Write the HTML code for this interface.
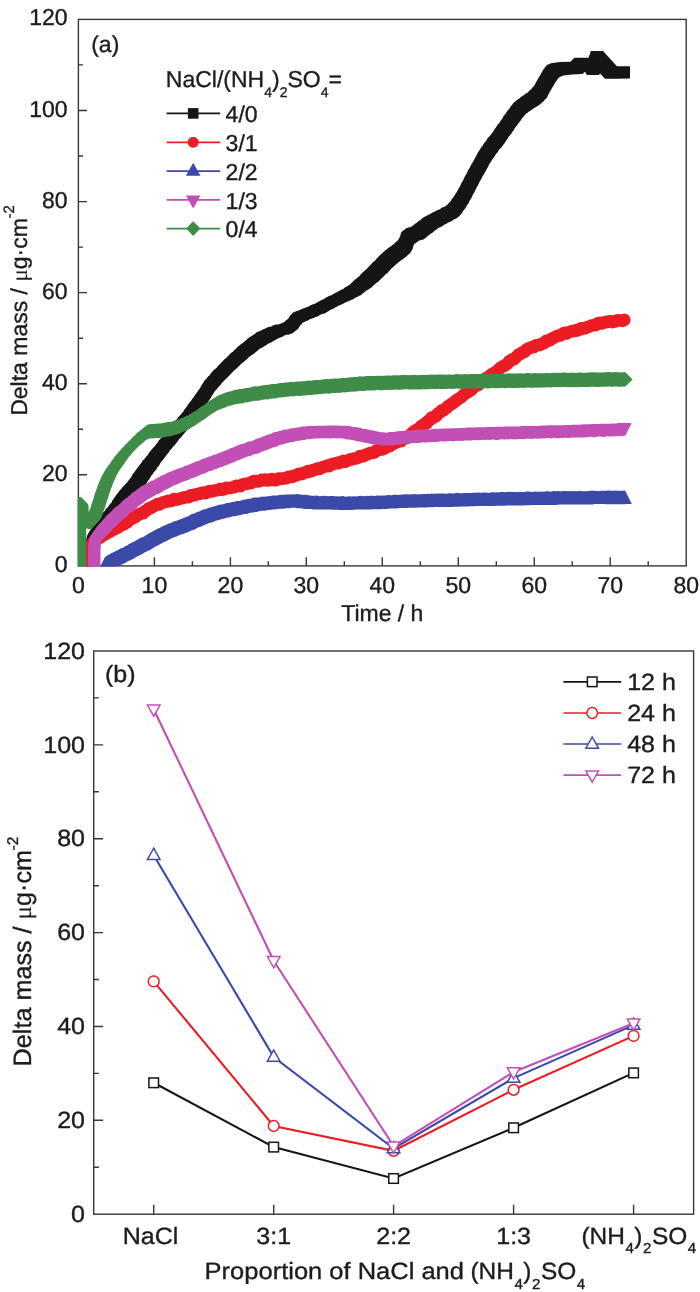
<!DOCTYPE html>
<html lang="en"><head><meta charset="utf-8"><title>Delta mass vs time and NaCl/(NH4)2SO4 proportion</title>
<style>html,body{margin:0;padding:0;background:#fff}svg{display:block;will-change:transform;-webkit-font-smoothing:antialiased;text-rendering:geometricPrecision}text{font-family:"Liberation Sans", sans-serif;fill:#1c1c1c;stroke:#1c1c1c;stroke-width:0.35px}</style></head><body>
<svg width="700" height="1292" viewBox="0 0 700 1292">
<rect width="700" height="1292" fill="#fff"/>
<defs><clipPath id="ca"><rect x="77.7" y="19.4" width="608.5" height="547.2"/></clipPath></defs>
<g id="plot-a">
<g stroke="#363636" stroke-width="1.4" fill="none" stroke-linecap="butt">
<rect x="78.4" y="19.4" width="607.8" height="546.5"/>
<path d="M116.4,565.9v-4.6M154.4,565.9v-8.6M192.4,565.9v-4.6M230.4,565.9v-8.6M268.3,565.9v-4.6M306.3,565.9v-8.6M344.3,565.9v-4.6M382.3,565.9v-8.6M420.3,565.9v-4.6M458.3,565.9v-8.6M496.3,565.9v-4.6M534.3,565.9v-8.6M572.2,565.9v-4.6M610.2,565.9v-8.6M648.2,565.9v-4.6M78.4,520.4h4.6M78.4,474.8h8.6M78.4,429.3h4.6M78.4,383.7h8.6M78.4,338.2h4.6M78.4,292.6h8.6M78.4,247.1h4.6M78.4,201.6h8.6M78.4,156.0h4.6M78.4,110.5h8.6M78.4,64.9h4.6"/>
</g>
<g clip-path="url(#ca)" stroke="none">
<path fill="#151515" d="M85.9,551.1 96.9,551.1 96.9,552.5 96.9,563.5 85.9,563.5 85.9,562.1ZM85.8,549.1 96.8,549.1 96.9,551.1 96.9,562.1 85.9,562.1 85.8,560.1ZM85.8,546.8 96.8,546.8 96.8,549.1 96.8,560.1 85.8,560.1 85.8,557.8ZM85.8,546.8 85.8,544.8 96.8,544.8 96.8,555.8 96.8,557.8 85.8,557.8ZM85.8,544.8 85.9,542.9 96.9,542.9 96.9,553.9 96.8,555.8 85.8,555.8ZM85.9,542.9 86.1,540.3 97.1,540.3 97.1,551.3 96.9,553.9 85.9,553.9ZM86.1,540.3 86.6,537.8 97.6,537.8 97.6,548.8 97.1,551.3 86.1,551.3ZM86.6,537.8 87.3,535.1 98.3,535.1 98.3,546.1 97.6,548.8 86.6,548.8ZM87.3,535.1 88.1,533.7 99.2,533.7 99.2,544.8 98.3,546.1 87.3,546.1ZM88.1,533.7 89.0,532.1 100.2,532.1 100.2,543.2 99.2,544.8 88.1,544.8ZM89.0,532.1 90.2,530.2 101.5,530.2 101.5,541.5 100.2,543.2 89.0,543.2ZM90.2,530.2 91.7,528.6 103.0,528.6 103.0,539.9 101.5,541.5 90.2,541.5ZM91.7,528.6 92.7,526.8 104.1,526.8 104.1,538.2 103.0,539.9 91.7,539.9ZM92.7,526.8 93.9,525.0 105.5,525.0 105.5,536.5 104.1,538.2 92.7,538.2ZM93.9,525.0 95.3,523.2 106.9,523.2 106.9,534.8 105.5,536.5 93.9,536.5ZM95.3,523.2 96.7,520.5 108.4,520.5 108.4,532.3 106.9,534.8 95.3,534.8ZM96.7,520.5 98.1,519.0 110.0,519.0 110.0,530.9 108.4,532.3 96.7,532.3ZM98.1,519.0 99.5,517.0 111.5,517.0 111.5,529.0 110.0,530.9 98.1,530.9ZM99.5,517.0 100.8,515.5 112.8,515.5 112.8,527.5 111.5,529.0 99.5,529.0ZM100.8,515.5 102.1,514.0 114.1,514.0 114.1,526.0 112.8,527.5 100.8,527.5ZM102.1,514.0 103.5,512.2 115.5,512.2 115.5,524.2 114.1,526.0 102.1,526.0ZM103.5,512.2 104.9,510.7 116.9,510.7 116.9,522.7 115.5,524.2 103.5,524.2ZM104.9,510.7 106.2,508.5 118.2,508.5 118.2,520.5 116.9,522.7 104.9,522.7ZM106.2,508.5 107.6,507.4 119.6,507.4 119.6,519.4 118.2,520.5 106.2,520.5ZM107.6,507.4 109.0,505.5 121.0,505.5 121.0,517.5 119.6,519.4 107.6,519.4ZM109.0,505.5 110.2,503.8 122.2,503.8 122.2,515.8 121.0,517.5 109.0,517.5ZM110.2,503.8 111.4,502.7 123.4,502.7 123.4,514.7 122.2,515.8 110.2,515.8ZM111.4,502.7 112.5,500.3 124.5,500.3 124.5,512.3 123.4,514.7 111.4,514.7ZM112.5,500.3 113.7,498.7 125.7,498.7 125.7,510.7 124.5,512.3 112.5,512.3ZM113.7,498.7 114.9,497.0 126.9,497.0 126.9,509.0 125.7,510.7 113.7,510.7ZM114.9,497.0 116.1,494.9 128.1,494.9 128.1,506.9 126.9,509.0 114.9,509.0ZM116.1,494.9 117.3,493.8 129.3,493.8 129.3,505.8 128.1,506.9 116.1,506.9ZM117.3,493.8 118.5,492.1 130.5,492.1 130.5,504.1 129.3,505.8 117.3,505.8ZM118.5,492.1 119.9,490.3 131.9,490.3 131.9,502.3 130.5,504.1 118.5,504.1ZM119.9,490.3 121.3,489.0 133.3,489.0 133.3,501.0 131.9,502.3 119.9,502.3ZM121.3,489.0 122.8,486.7 134.8,486.7 134.8,498.7 133.3,501.0 121.3,501.0ZM122.8,486.7 124.2,485.4 136.2,485.4 136.2,497.4 134.8,498.7 122.8,498.7ZM124.2,485.4 125.7,483.7 137.7,483.7 137.7,495.7 136.2,497.4 124.2,497.4ZM125.7,483.7 127.1,482.6 139.1,482.6 139.1,494.6 137.7,495.7 125.7,495.7ZM127.1,482.6 128.5,480.6 140.5,480.6 140.5,492.6 139.1,494.6 127.1,494.6ZM128.5,480.6 129.7,479.0 141.6,479.0 141.6,490.9 140.5,492.6 128.5,492.6ZM129.7,479.0 130.8,477.7 142.6,477.7 142.6,489.5 141.6,490.9 129.7,490.9ZM130.8,477.7 131.8,475.9 143.6,475.9 143.6,487.7 142.6,489.5 130.8,489.5ZM131.8,475.9 132.8,474.1 144.6,474.1 144.6,485.8 143.6,487.7 131.8,487.7ZM132.8,474.1 133.9,472.8 145.6,472.8 145.6,484.5 144.6,485.8 132.8,485.8ZM133.9,472.8 135.2,471.1 146.8,471.1 146.8,482.7 145.6,484.5 133.9,484.5ZM135.2,471.1 136.6,469.0 148.1,469.0 148.1,480.5 146.8,482.7 135.2,482.7ZM136.6,469.0 138.2,466.9 149.8,466.9 149.8,478.4 148.1,480.5 136.6,480.5ZM138.2,466.9 139.3,465.4 150.7,465.4 150.7,476.8 149.8,478.4 138.2,478.4ZM139.3,465.4 140.3,464.0 151.7,464.0 151.7,475.3 150.7,476.8 139.3,476.8ZM140.3,464.0 141.5,462.7 152.8,462.7 152.8,474.0 151.7,475.3 140.3,475.3ZM141.5,462.7 142.6,460.6 153.9,460.6 153.9,471.9 152.8,474.0 141.5,474.0ZM142.6,460.6 143.9,459.7 155.1,459.7 155.1,470.9 153.9,471.9 142.6,471.9ZM143.9,459.7 145.1,458.0 156.3,458.0 156.3,469.2 155.1,470.9 143.9,470.9ZM145.1,458.0 146.4,456.2 157.5,456.2 157.5,467.2 156.3,469.2 145.1,469.2ZM146.4,456.2 147.8,455.0 158.8,455.0 158.8,466.0 157.5,467.2 146.4,467.2ZM147.8,455.0 149.1,452.6 160.1,452.6 160.1,463.5 158.8,466.0 147.8,466.0ZM149.1,452.6 150.5,450.9 161.4,450.9 161.4,461.8 160.1,463.5 149.1,463.5ZM150.5,450.9 151.9,449.2 162.8,449.2 162.8,460.0 161.4,461.8 150.5,461.8ZM151.9,449.2 153.4,447.5 164.2,447.5 164.2,458.3 162.8,460.0 151.9,460.0ZM153.4,447.5 154.8,445.9 165.5,445.9 165.5,456.6 164.2,458.3 153.4,458.3ZM154.8,445.9 156.3,443.9 166.9,443.9 166.9,454.6 165.5,456.6 154.8,456.6ZM156.3,443.9 157.7,442.5 168.3,442.5 168.3,453.1 166.9,454.6 156.3,454.6ZM157.7,442.5 158.9,440.3 169.5,440.3 169.5,450.9 168.3,453.1 157.7,453.1ZM158.9,440.3 160.2,439.0 170.8,439.0 170.8,449.6 169.5,450.9 158.9,450.9ZM160.2,439.0 161.5,437.6 172.1,437.6 172.1,448.1 170.8,449.6 160.2,449.6ZM161.5,437.6 162.9,435.6 173.5,435.6 173.5,446.2 172.1,448.1 161.5,448.1ZM162.9,435.6 164.3,434.4 174.9,434.4 174.9,444.9 173.5,446.2 162.9,446.2ZM164.3,434.4 165.8,432.4 176.3,432.4 176.3,442.9 174.9,444.9 164.3,444.9ZM165.8,432.4 167.2,430.8 177.8,430.8 177.8,441.3 176.3,442.9 165.8,442.9ZM167.2,430.8 168.7,428.4 179.2,428.4 179.2,438.9 177.8,441.3 167.2,441.3ZM168.7,428.4 170.2,427.2 180.7,427.2 180.7,437.7 179.2,438.9 168.7,438.9ZM170.2,427.2 171.6,425.6 182.1,425.6 182.1,436.1 180.7,437.7 170.2,437.7ZM171.6,425.6 173.0,423.8 183.5,423.8 183.5,434.3 182.1,436.1 171.6,436.1ZM173.0,423.8 174.4,422.3 184.8,422.3 184.8,432.8 183.5,434.3 173.0,434.3ZM174.4,422.3 175.7,420.5 186.2,420.5 186.2,430.9 184.8,432.8 174.4,432.8ZM175.7,420.5 177.0,419.0 187.4,419.0 187.4,429.5 186.2,430.9 175.7,430.9ZM177.0,419.0 178.2,417.3 188.6,417.3 188.6,427.8 187.4,429.5 177.0,429.5ZM178.2,417.3 179.3,416.1 189.7,416.1 189.7,426.5 188.6,427.8 178.2,427.8ZM179.3,416.1 180.4,415.1 190.8,415.1 190.8,425.5 189.7,426.5 179.3,426.5ZM180.4,415.1 181.3,414.0 191.7,414.0 191.7,424.4 190.8,425.5 180.4,425.5ZM181.3,414.0 183.3,411.6 193.7,411.6 193.7,422.0 191.7,424.4 181.3,424.4ZM183.3,411.6 184.8,409.0 195.2,409.0 195.2,419.4 193.7,422.0 183.3,422.0ZM184.8,409.0 186.0,407.4 196.4,407.4 196.4,417.8 195.2,419.4 184.8,419.4ZM186.0,407.4 187.0,406.3 197.4,406.3 197.4,416.7 196.4,417.8 186.0,417.8ZM187.0,406.3 187.8,405.0 198.2,405.0 198.2,415.4 197.4,416.7 187.0,416.7ZM187.8,405.0 188.7,403.4 199.1,403.4 199.1,413.8 198.2,415.4 187.8,415.4ZM188.7,403.4 189.8,402.6 200.2,402.6 200.2,413.0 199.1,413.8 188.7,413.8ZM189.8,402.6 191.2,400.6 201.6,400.6 201.6,411.0 200.2,413.0 189.8,413.0ZM191.2,400.6 192.5,398.5 202.9,398.5 202.9,408.9 201.6,411.0 191.2,411.0ZM192.5,398.5 193.8,397.0 204.2,397.0 204.2,407.4 202.9,408.9 192.5,408.9ZM193.8,397.0 195.2,394.7 205.6,394.7 205.6,405.1 204.2,407.4 193.8,407.4ZM195.2,394.7 196.5,393.1 206.9,393.1 206.9,403.5 205.6,405.1 195.2,405.1ZM196.5,393.1 197.8,391.3 208.2,391.3 208.2,401.7 206.9,403.5 196.5,403.5ZM197.8,391.3 198.9,389.6 209.3,389.6 209.3,400.0 208.2,401.7 197.8,401.7ZM198.9,389.6 199.9,388.4 210.3,388.4 210.3,398.8 209.3,400.0 198.9,400.0ZM199.9,388.4 200.9,386.5 211.3,386.5 211.3,396.9 210.3,398.8 199.9,398.8ZM200.9,386.5 202.0,384.6 212.4,384.6 212.4,395.0 211.3,396.9 200.9,396.9ZM202.0,384.6 203.1,383.1 213.5,383.1 213.5,393.5 212.4,395.0 202.0,395.0ZM203.1,383.1 204.3,380.8 214.7,380.8 214.7,391.2 213.5,393.5 203.1,393.5ZM204.3,380.8 205.8,379.3 216.2,379.3 216.2,389.7 214.7,391.2 204.3,391.2ZM205.8,379.3 207.0,378.1 217.4,378.1 217.4,388.5 216.2,389.7 205.8,389.7ZM207.0,378.1 208.2,376.3 218.6,376.3 218.6,386.7 217.4,388.5 207.0,388.5ZM208.2,376.3 209.5,375.4 219.9,375.4 219.9,385.8 218.6,386.7 208.2,386.7ZM209.5,375.4 210.9,373.3 221.3,373.3 221.3,383.7 219.9,385.8 209.5,385.8ZM210.9,373.3 212.4,371.6 222.8,371.6 222.8,382.0 221.3,383.7 210.9,383.7ZM212.4,371.6 213.9,370.1 224.3,370.1 224.3,380.5 222.8,382.0 212.4,382.0ZM213.9,370.1 215.4,368.7 225.8,368.7 225.8,379.1 224.3,380.5 213.9,380.5ZM215.4,368.7 216.9,367.4 227.3,367.4 227.3,377.8 225.8,379.1 215.4,379.1ZM216.9,367.4 218.3,365.5 228.7,365.5 228.7,375.9 227.3,377.8 216.9,377.8ZM218.3,365.5 219.8,364.3 230.2,364.3 230.2,374.7 228.7,375.9 218.3,375.9ZM219.8,364.3 221.2,362.4 231.7,362.4 231.7,372.8 230.2,374.7 219.8,374.7ZM221.2,362.4 222.7,361.2 233.1,361.2 233.1,371.7 231.7,372.8 221.2,372.8ZM222.7,361.2 224.1,359.4 234.6,359.4 234.6,369.9 233.1,371.7 222.7,371.7ZM224.1,359.4 225.6,358.6 236.1,358.6 236.1,369.1 234.6,369.9 224.1,369.9ZM225.6,358.6 227.1,357.1 237.6,357.1 237.6,367.6 236.1,369.1 225.6,369.1ZM227.1,357.1 228.6,355.5 239.1,355.5 239.1,366.0 237.6,367.6 227.1,367.6ZM228.6,355.5 230.0,353.9 240.6,353.9 240.6,364.4 239.1,366.0 228.6,366.0ZM230.0,353.9 231.5,352.6 242.0,352.6 242.0,363.1 240.6,364.4 230.0,364.4ZM231.5,352.6 232.9,351.7 243.5,351.7 243.5,362.3 242.0,363.1 231.5,363.1ZM232.9,351.7 234.3,350.1 244.9,350.1 244.9,360.7 243.5,362.3 232.9,362.3ZM234.3,350.1 236.0,348.8 246.7,348.8 246.7,359.5 244.9,360.7 234.3,360.7ZM236.0,348.8 237.7,346.8 248.4,346.8 248.4,357.5 246.7,359.5 236.0,359.5ZM237.7,346.8 239.4,345.6 250.2,345.6 250.2,356.3 248.4,357.5 237.7,357.5ZM239.4,345.6 241.1,344.1 251.9,344.1 251.9,354.9 250.2,356.3 239.4,356.3ZM241.1,344.1 242.8,343.1 253.6,343.1 253.6,354.0 251.9,354.9 241.1,354.9ZM242.8,343.1 244.4,341.6 255.3,341.6 255.3,352.5 253.6,354.0 242.8,354.0ZM244.4,341.6 246.0,340.2 256.9,340.2 256.9,351.2 255.3,352.5 244.4,352.5ZM246.0,340.2 247.5,338.7 258.5,338.7 258.5,349.7 256.9,351.2 246.0,351.2ZM247.5,338.7 249.4,337.3 260.5,337.3 260.5,348.3 258.5,349.7 247.5,349.7ZM249.4,337.3 251.2,336.3 262.4,336.3 262.4,347.5 260.5,348.3 249.4,348.3ZM251.2,336.3 253.0,334.9 264.2,334.9 264.2,346.2 262.4,347.5 251.2,347.5ZM253.0,334.9 254.7,334.0 266.1,334.0 266.1,345.3 264.2,346.2 253.0,346.2ZM254.7,334.0 256.6,332.3 268.0,332.3 268.0,343.7 266.1,345.3 254.7,345.3ZM256.6,332.3 258.6,331.5 270.1,331.5 270.1,343.0 268.0,343.7 256.6,343.7ZM258.6,331.5 260.5,330.7 271.9,330.7 271.9,342.0 270.1,343.0 258.6,343.0ZM260.5,330.7 262.7,329.6 273.9,329.6 273.9,340.8 271.9,342.0 260.5,342.0ZM262.7,329.6 264.9,328.7 275.9,328.7 275.9,339.8 273.9,340.8 262.7,340.8ZM264.9,328.7 267.1,327.5 278.0,327.5 278.0,338.4 275.9,339.8 264.9,339.8ZM267.1,327.5 269.3,326.8 280.1,326.8 280.1,337.6 278.0,338.4 267.1,338.4ZM269.3,326.8 271.4,326.4 282.0,326.4 282.0,337.1 280.1,337.6 269.3,337.6ZM271.4,326.4 273.4,325.2 283.9,325.2 283.9,335.7 282.0,337.1 271.4,337.1ZM273.4,325.2 275.8,324.4 286.2,324.4 286.2,334.8 283.9,335.7 273.4,335.7ZM275.8,324.4 286.2,324.4 288.4,324.4 288.4,334.7 286.2,334.8 275.8,334.8ZM278.1,324.4 280.2,323.7 290.4,323.7 290.4,333.9 288.4,334.7 278.1,334.7ZM280.2,323.7 282.3,323.1 292.4,323.1 292.4,333.2 290.4,333.9 280.2,333.9ZM282.3,323.1 284.3,322.0 294.3,322.0 294.3,332.0 292.4,333.2 282.3,333.2ZM284.3,322.0 285.8,320.6 295.8,320.6 295.8,330.6 294.3,332.0 284.3,332.0ZM285.8,320.6 287.3,319.4 297.3,319.4 297.3,329.4 295.8,330.6 285.8,330.6ZM287.3,319.4 288.7,317.9 298.7,317.9 298.7,327.9 297.3,329.4 287.3,329.4ZM288.7,317.9 290.1,315.6 300.1,315.6 300.1,325.6 298.7,327.9 288.7,327.9ZM290.1,315.6 291.5,314.3 301.5,314.3 301.5,324.3 300.1,325.6 290.1,325.6ZM291.5,314.3 292.9,312.6 302.9,312.6 302.9,322.6 301.5,324.3 291.5,324.3ZM292.9,312.6 294.7,312.1 304.6,312.1 304.6,322.0 302.9,322.6 292.9,322.6ZM294.7,312.1 296.4,311.0 306.2,311.0 306.2,320.9 304.6,322.0 294.7,322.0ZM296.4,311.0 298.1,310.8 307.9,310.8 307.9,320.6 306.2,320.9 296.4,320.9ZM298.1,310.8 300.1,309.7 309.8,309.7 309.8,319.3 307.9,320.6 298.1,320.6ZM300.1,309.7 302.3,308.8 311.9,308.8 311.9,318.4 309.8,319.3 300.1,319.3ZM302.3,308.8 304.1,308.3 313.7,308.3 313.7,317.9 311.9,318.4 302.3,318.4ZM304.1,308.3 306.0,307.3 315.6,307.3 315.6,316.9 313.7,317.9 304.1,317.9ZM306.0,307.3 308.1,306.8 317.7,306.8 317.7,316.4 315.6,316.9 306.0,316.9ZM308.1,306.8 310.2,305.4 319.8,305.4 319.8,315.0 317.7,316.4 308.1,316.4ZM310.2,305.4 312.4,304.4 322.0,304.4 322.0,314.0 319.8,315.0 310.2,315.0ZM312.4,304.4 314.5,304.1 324.1,304.1 324.1,313.7 322.0,314.0 312.4,314.0ZM314.5,304.1 316.6,302.8 326.2,302.8 326.2,312.4 324.1,313.7 314.5,313.7ZM316.6,302.8 318.4,301.8 328.0,301.8 328.0,311.4 326.2,312.4 316.6,312.4ZM318.4,301.8 320.2,300.7 329.8,300.7 329.8,310.3 328.0,311.4 318.4,311.4ZM320.2,300.7 322.0,299.7 331.6,299.7 331.6,309.3 329.8,310.3 320.2,310.3ZM322.0,299.7 323.8,299.2 333.4,299.2 333.4,308.8 331.6,309.3 322.0,309.3ZM323.8,299.2 325.5,297.8 335.1,297.8 335.1,307.4 333.4,308.8 323.8,308.8ZM325.5,297.8 327.3,297.1 336.9,297.1 336.9,306.7 335.1,307.4 325.5,307.4ZM327.3,297.1 329.1,295.8 338.7,295.8 338.7,305.4 336.9,306.7 327.3,306.7ZM329.1,295.8 330.9,295.5 340.5,295.5 340.5,305.1 338.7,305.4 329.1,305.4ZM330.9,295.5 332.9,294.3 342.6,294.3 342.6,304.0 340.5,305.1 330.9,305.1ZM332.9,294.3 335.1,292.9 344.8,292.9 344.8,302.7 342.6,304.0 332.9,304.0ZM335.1,292.9 337.2,291.9 347.1,291.9 347.1,301.8 344.8,302.7 335.1,302.7ZM337.2,291.9 339.3,290.7 349.2,290.7 349.2,300.7 347.1,301.8 337.2,301.8ZM339.3,290.7 341.3,289.8 351.3,289.8 351.3,299.9 349.2,300.7 339.3,300.7ZM341.3,289.8 343.2,289.0 353.3,289.0 353.3,299.2 351.3,299.9 341.3,299.9ZM343.2,289.0 344.9,287.5 355.1,287.5 355.1,297.7 353.3,299.2 343.2,299.2ZM344.9,287.5 346.9,286.5 357.3,286.5 357.3,296.9 355.1,297.7 344.9,297.7ZM346.9,286.5 348.6,285.2 359.1,285.2 359.1,295.7 357.3,296.9 346.9,296.9ZM348.6,285.2 350.1,284.5 360.8,284.5 360.8,295.2 359.1,295.7 348.6,295.7ZM350.1,284.5 351.6,282.8 362.4,282.8 362.4,293.7 360.8,295.2 350.1,295.2ZM351.6,282.8 353.1,281.5 364.1,281.5 364.1,292.5 362.4,293.7 351.6,293.7ZM353.1,281.5 354.7,279.7 365.9,279.7 365.9,290.8 364.1,292.5 353.1,292.5ZM354.7,279.7 356.3,278.7 367.6,278.7 367.6,290.0 365.9,290.8 354.7,290.8ZM356.3,278.7 357.9,277.2 369.4,277.2 369.4,288.7 367.6,290.0 356.3,290.0ZM357.9,277.2 359.5,276.0 371.1,276.0 371.1,287.7 369.4,288.7 357.9,288.7ZM359.5,276.0 361.1,274.1 372.9,274.1 372.9,285.9 371.1,287.7 359.5,287.7ZM361.1,274.1 362.7,272.5 374.6,272.5 374.6,284.4 372.9,285.9 361.1,285.9ZM362.7,272.5 364.2,270.9 376.2,270.9 376.2,282.9 374.6,284.4 362.7,284.4ZM364.2,270.9 365.8,269.8 377.9,269.8 377.9,281.9 376.2,282.9 364.2,282.9ZM365.8,269.8 367.5,268.1 379.7,268.1 379.7,280.3 377.9,281.9 365.8,281.9ZM367.5,268.1 369.6,265.8 381.9,265.8 381.9,278.1 379.7,280.3 367.5,280.3ZM369.6,265.8 370.7,264.7 383.1,264.7 383.1,277.0 381.9,278.1 369.6,278.1ZM370.7,264.7 372.0,263.3 384.4,263.3 384.4,275.7 383.1,277.0 370.7,277.0ZM372.0,263.3 373.4,261.8 385.8,261.8 385.8,274.1 384.4,275.7 372.0,275.7ZM373.4,261.8 374.8,261.0 387.2,261.0 387.2,273.4 385.8,274.1 373.4,274.1ZM374.8,261.0 376.3,259.0 388.7,259.0 388.7,271.4 387.2,273.4 374.8,273.4ZM376.3,259.0 377.8,257.6 390.2,257.6 390.2,270.0 388.7,271.4 376.3,271.4ZM377.8,257.6 379.3,255.7 391.8,255.7 391.8,268.1 390.2,270.0 377.8,270.0ZM379.3,255.7 380.8,254.5 393.3,254.5 393.3,267.0 391.8,268.1 379.3,268.1ZM380.8,254.5 382.3,252.9 394.8,252.9 394.8,265.4 393.3,267.0 380.8,267.0ZM382.3,252.9 383.8,251.7 396.2,251.7 396.2,264.2 394.8,265.4 382.3,265.4ZM383.8,251.7 385.4,250.3 397.9,250.3 397.9,262.8 396.2,264.2 383.8,264.2ZM385.4,250.3 387.1,248.9 399.6,248.9 399.6,261.4 397.9,262.8 385.4,262.8ZM387.1,248.9 388.9,247.4 401.4,247.4 401.4,259.9 399.6,261.4 387.1,261.4ZM388.9,247.4 390.7,246.4 403.2,246.4 403.2,258.9 401.4,259.9 388.9,259.9ZM390.7,246.4 392.4,245.0 404.9,245.0 404.9,257.5 403.2,258.9 390.7,258.9ZM392.4,245.0 394.0,244.0 406.5,244.0 406.5,256.5 404.9,257.5 392.4,257.5ZM394.0,244.0 395.5,242.3 408.0,242.3 408.0,254.8 406.5,256.5 394.0,256.5ZM395.5,242.3 396.9,241.3 409.4,241.3 409.4,253.8 408.0,254.8 395.5,254.8ZM396.9,241.3 398.1,240.1 410.6,240.1 410.6,252.6 409.4,253.8 396.9,253.8ZM398.1,240.1 399.4,237.7 411.9,237.7 411.9,250.2 410.6,252.6 398.1,252.6ZM399.4,237.7 400.2,236.2 412.7,236.2 412.7,248.7 411.9,250.2 399.4,250.2ZM400.2,236.2 400.6,234.5 413.1,234.5 413.1,247.0 412.7,248.7 400.2,248.7ZM400.6,234.5 401.2,232.6 413.7,232.6 413.7,245.1 413.1,247.0 400.6,247.0ZM401.2,232.6 402.4,230.9 414.9,230.9 414.9,243.4 413.7,245.1 401.2,245.1ZM402.4,230.9 404.1,229.9 416.6,229.9 416.6,242.4 414.9,243.4 402.4,243.4ZM404.1,229.9 406.2,228.3 418.7,228.3 418.7,240.8 416.6,242.4 404.1,242.4ZM406.2,228.3 408.6,227.5 421.1,227.5 421.1,240.0 418.7,240.8 406.2,240.8ZM408.6,227.5 410.9,227.0 423.4,227.0 423.4,239.5 421.1,240.0 408.6,240.0ZM410.9,227.0 413.1,225.5 425.6,225.5 425.6,238.0 423.4,239.5 410.9,239.5ZM413.1,225.5 415.0,223.8 427.4,223.8 427.4,236.3 425.6,238.0 413.1,238.0ZM415.0,223.8 416.8,222.7 429.2,222.7 429.2,235.1 427.4,236.3 415.0,236.3ZM416.8,222.7 418.6,221.1 431.0,221.1 431.0,233.5 429.2,235.1 416.8,235.1ZM418.6,221.1 420.5,220.1 432.8,220.1 432.8,232.4 431.0,233.5 418.6,233.5ZM420.5,220.1 422.4,218.1 434.8,218.1 434.8,230.4 432.8,232.4 420.5,232.4ZM422.4,218.1 424.2,217.1 436.5,217.1 436.5,229.4 434.8,230.4 422.4,230.4ZM424.2,217.1 426.1,215.9 438.3,215.9 438.3,228.1 436.5,229.4 424.2,229.4ZM426.1,215.9 428.0,215.1 440.1,215.1 440.1,227.3 438.3,228.1 426.1,228.1ZM428.0,215.1 429.9,214.3 442.0,214.3 442.0,226.4 440.1,227.3 428.0,227.3ZM429.9,214.3 431.9,212.7 444.0,212.7 444.0,224.8 442.0,226.4 429.9,226.4ZM431.9,212.7 434.0,211.9 446.0,211.9 446.0,223.9 444.0,224.8 431.9,224.8ZM434.0,211.9 435.9,210.8 447.8,210.8 447.8,222.7 446.0,223.9 434.0,223.9ZM435.9,210.8 437.9,210.0 449.8,210.0 449.8,222.0 447.8,222.7 435.9,222.7ZM437.9,210.0 439.9,209.2 451.8,209.2 451.8,221.1 449.8,222.0 437.9,222.0ZM439.9,209.2 442.0,207.6 453.8,207.6 453.8,219.4 451.8,221.1 439.9,221.1ZM442.0,207.6 444.0,206.9 455.8,206.9 455.8,218.7 453.8,219.4 442.0,219.4ZM444.0,206.9 446.0,205.7 457.7,205.7 457.7,217.4 455.8,218.7 444.0,218.7ZM446.0,205.7 447.8,204.2 459.4,204.2 459.4,215.9 457.7,217.4 446.0,217.4ZM447.8,204.2 449.2,202.6 460.9,202.6 460.9,214.3 459.4,215.9 447.8,215.9ZM449.2,202.6 450.6,201.2 462.2,201.2 462.2,212.8 460.9,214.3 449.2,214.3ZM450.6,201.2 451.9,198.9 463.5,198.9 463.5,210.5 462.2,212.8 450.6,212.8ZM451.9,198.9 453.2,197.5 464.8,197.5 464.8,209.1 463.5,210.5 451.9,210.5ZM453.2,197.5 454.4,195.7 466.0,195.7 466.0,207.2 464.8,209.1 453.2,209.1ZM454.4,195.7 455.6,193.6 467.1,193.6 467.1,205.1 466.0,207.2 454.4,207.2ZM455.6,193.6 456.7,192.2 468.3,192.2 468.3,203.8 467.1,205.1 455.6,205.1ZM456.7,192.2 457.9,189.8 469.4,189.8 469.4,201.3 468.3,203.8 456.7,203.8ZM457.9,189.8 458.9,188.1 470.4,188.1 470.4,199.6 469.4,201.3 457.9,201.3ZM458.9,188.1 459.9,186.4 471.4,186.4 471.4,197.9 470.4,199.6 458.9,199.6ZM459.9,186.4 460.8,184.5 472.3,184.5 472.3,196.0 471.4,197.9 459.9,197.9ZM460.8,184.5 461.7,182.4 473.2,182.4 473.2,193.9 472.3,196.0 460.8,196.0ZM461.7,182.4 462.6,181.2 474.1,181.2 474.1,192.7 473.2,193.9 461.7,193.9ZM462.6,181.2 463.5,179.4 475.0,179.4 475.0,190.9 474.1,192.7 462.6,192.7ZM463.5,179.4 464.4,177.6 475.9,177.6 475.9,189.1 475.0,190.9 463.5,190.9ZM464.4,177.6 465.4,175.6 476.9,175.6 476.9,187.1 475.9,189.1 464.4,189.1ZM465.4,175.6 466.3,174.3 477.8,174.3 477.8,185.8 476.9,187.1 465.4,187.1ZM466.3,174.3 467.3,172.0 478.8,172.0 478.8,183.5 477.8,185.8 466.3,185.8ZM467.3,172.0 468.2,170.1 479.7,170.1 479.7,181.6 478.8,183.5 467.3,183.5ZM468.2,170.1 469.2,168.4 480.7,168.4 480.7,179.9 479.7,181.6 468.2,181.6ZM469.2,168.4 470.2,166.8 481.7,166.8 481.7,178.3 480.7,179.9 469.2,179.9ZM470.2,166.8 471.2,164.6 482.7,164.6 482.7,176.1 481.7,178.3 470.2,178.3ZM471.2,164.6 472.2,163.3 483.7,163.3 483.7,174.8 482.7,176.1 471.2,176.1ZM472.2,163.3 473.1,161.6 484.6,161.6 484.6,173.1 483.7,174.8 472.2,174.8ZM473.1,161.6 474.1,159.7 485.6,159.7 485.6,171.2 484.6,173.1 473.1,173.1ZM474.1,159.7 475.1,157.7 486.6,157.7 486.6,169.2 485.6,171.2 474.1,171.2ZM475.1,157.7 476.1,156.3 487.6,156.3 487.6,167.8 486.6,169.2 475.1,169.2ZM476.1,156.3 477.0,154.2 488.5,154.2 488.5,165.7 487.6,167.8 476.1,167.8ZM477.0,154.2 478.0,152.2 489.5,152.2 489.5,163.7 488.5,165.7 477.0,165.7ZM478.0,152.2 479.1,150.7 490.6,150.7 490.6,162.2 489.5,163.7 478.0,163.7ZM479.1,150.7 480.2,149.1 491.7,149.1 491.7,160.6 490.6,162.2 479.1,162.2ZM480.2,149.1 481.4,147.0 492.9,147.0 492.9,158.5 491.7,160.6 480.2,160.6ZM481.4,147.0 482.5,146.0 494.0,146.0 494.0,157.5 492.9,158.5 481.4,158.5ZM482.5,146.0 483.7,143.8 495.2,143.8 495.2,155.3 494.0,157.5 482.5,157.5ZM483.7,143.8 485.0,141.9 496.5,141.9 496.5,153.4 495.2,155.3 483.7,155.3ZM485.0,141.9 486.4,140.4 497.9,140.4 497.9,151.9 496.5,153.4 485.0,153.4ZM486.4,140.4 487.7,138.1 499.2,138.1 499.2,149.6 497.9,151.9 486.4,151.9ZM487.7,138.1 489.1,136.8 500.6,136.8 500.6,148.3 499.2,149.6 487.7,149.6ZM489.1,136.8 490.4,135.2 501.9,135.2 501.9,146.7 500.6,148.3 489.1,148.3ZM490.4,135.2 491.7,133.5 503.2,133.5 503.2,145.0 501.9,146.7 490.4,146.7ZM491.7,133.5 492.9,132.0 504.4,132.0 504.4,143.5 503.2,145.0 491.7,145.0ZM492.9,132.0 494.1,129.9 505.6,129.9 505.6,141.4 504.4,143.5 492.9,143.5ZM494.1,129.9 495.3,128.2 506.8,128.2 506.8,139.7 505.6,141.4 494.1,141.4ZM495.3,128.2 496.4,126.7 507.9,126.7 507.9,138.2 506.8,139.7 495.3,139.7ZM496.4,126.7 497.5,124.8 509.0,124.8 509.0,136.3 507.9,138.2 496.4,138.2ZM497.5,124.8 498.6,123.8 510.1,123.8 510.1,135.3 509.0,136.3 497.5,136.3ZM498.6,123.8 499.7,122.2 511.2,122.2 511.2,133.7 510.1,135.3 498.6,135.3ZM499.7,122.2 500.9,120.2 512.4,120.2 512.4,131.7 511.2,133.7 499.7,133.7ZM500.9,120.2 502.1,118.9 513.6,118.9 513.6,130.4 512.4,131.7 500.9,131.7ZM502.1,118.9 503.3,116.6 514.8,116.6 514.8,128.1 513.6,130.4 502.1,130.4ZM503.3,116.6 504.5,114.9 516.1,114.9 516.1,126.5 514.8,128.1 503.3,128.1ZM504.5,114.9 505.8,113.4 517.4,113.4 517.4,125.0 516.1,126.5 504.5,126.5ZM505.8,113.4 507.1,111.1 518.7,111.1 518.7,122.7 517.4,125.0 505.8,125.0ZM507.1,111.1 508.4,110.0 520.0,110.0 520.0,121.6 518.7,122.7 507.1,122.7ZM508.4,110.0 509.7,108.0 521.3,108.0 521.3,119.6 520.0,121.6 508.4,121.6ZM509.7,108.0 510.9,106.0 522.6,106.0 522.6,117.6 521.3,119.6 509.7,119.6ZM510.9,106.0 512.2,104.7 523.9,104.7 523.9,116.4 522.6,117.6 510.9,117.6ZM512.2,104.7 513.5,102.8 525.1,102.8 525.1,114.5 523.9,116.4 512.2,116.4ZM513.5,102.8 515.3,101.5 527.0,101.5 527.0,113.2 525.1,114.5 513.5,114.5ZM515.3,101.5 517.1,99.7 528.9,99.7 528.9,111.5 527.0,113.2 515.3,113.2ZM517.1,99.7 518.9,98.7 530.7,98.7 530.7,110.5 528.9,111.5 517.1,111.5ZM518.9,98.7 520.6,97.2 532.5,97.2 532.5,109.1 530.7,110.5 518.9,110.5ZM520.6,97.2 522.4,96.0 534.3,96.0 534.3,108.0 532.5,109.1 520.6,109.1ZM522.4,96.0 524.0,95.0 536.0,95.0 536.0,107.0 534.3,108.0 522.4,108.0ZM524.0,95.0 525.9,93.6 538.0,93.6 538.0,105.7 536.0,107.0 524.0,107.0ZM525.9,93.6 527.8,92.5 539.9,92.5 539.9,104.6 538.0,105.7 525.9,105.7ZM527.8,92.5 529.5,90.5 541.7,90.5 541.7,102.7 539.9,104.6 527.8,104.6ZM529.5,90.5 531.2,89.3 543.4,89.3 543.4,101.5 541.7,102.7 529.5,102.7ZM531.2,89.3 532.6,87.3 545.0,87.3 545.0,99.6 543.4,101.5 531.2,101.5ZM532.6,87.3 534.0,86.1 546.3,86.1 546.3,98.4 545.0,99.6 532.6,99.6ZM534.0,86.1 535.2,84.1 547.5,84.1 547.5,96.4 546.3,98.4 534.0,98.4ZM535.2,84.1 536.3,81.7 548.6,81.7 548.6,94.0 547.5,96.4 535.2,96.4ZM536.3,81.7 537.2,80.3 549.5,80.3 549.5,92.6 548.6,94.0 536.3,94.0ZM537.2,80.3 537.9,79.0 550.1,79.0 550.1,91.3 549.5,92.6 537.2,92.6ZM537.9,79.0 543.4,69.6 555.6,69.6 555.6,81.9 550.1,91.3 537.9,91.3ZM543.4,69.6 546.9,64.9 559.1,64.9 559.1,77.2 555.6,81.9 543.4,81.9ZM546.9,64.9 551.1,63.3 563.5,63.3 563.5,75.6 559.1,77.2 546.9,77.2ZM551.1,63.3 559.9,62.1 572.1,62.1 572.1,74.4 563.5,75.6 551.1,75.6ZM559.9,62.1 570.4,61.7 582.6,61.7 582.6,74.0 572.1,74.4 559.9,74.4ZM570.4,61.7 574.4,57.8 586.6,57.8 586.6,70.1 582.6,74.0 570.4,74.0ZM574.4,57.8 583.9,57.7 596.1,57.7 596.1,70.0 586.6,70.1 574.4,70.1ZM583.9,57.7 596.1,57.7 599.1,62.7 599.1,75.0 586.9,75.0 583.9,70.0ZM586.9,62.7 590.9,51.1 603.1,51.1 603.1,63.4 599.1,75.0 586.9,75.0ZM590.9,51.1 603.1,51.1 617.1,66.5 617.1,78.8 604.9,78.8 590.9,63.4ZM604.9,66.5 617.6,66.2 630.0,66.2 630.0,78.5 617.1,78.8 604.9,78.8Z"/>
<path fill="#ec1c24" d="M80.2,571.4 80.5,569.5 81.4,567.7 82.8,566.3 84.5,565.4 86.5,565.1 88.4,565.4 90.2,566.3 91.6,567.7 92.5,569.5 92.8,571.4 92.8,573.0 92.5,574.9 91.6,576.7 90.2,578.1 88.4,579.0 86.5,579.3 84.6,579.0 82.8,578.1 81.4,576.7 80.5,574.9 80.2,573.0ZM80.1,569.0 80.4,567.1 81.3,565.3 82.7,563.9 84.5,563.0 86.4,562.7 88.4,563.0 90.1,563.9 91.5,565.3 92.4,567.1 92.7,569.0 92.8,571.4 92.5,573.4 91.6,575.1 90.2,576.5 88.4,577.4 86.5,577.7 84.5,577.4 82.8,576.5 81.4,575.1 80.5,573.4 80.2,571.4ZM80.1,569.0 80.2,566.0 80.5,564.1 81.4,562.3 82.8,560.9 84.6,560.0 86.5,559.7 88.4,560.0 90.2,560.9 91.6,562.3 92.5,564.1 92.8,566.0 92.7,569.0 92.4,571.0 91.5,572.7 90.1,574.1 88.4,575.0 86.4,575.3 84.5,575.0 82.7,574.1 81.3,572.7 80.4,571.0ZM80.2,566.0 80.3,563.1 80.6,561.2 81.5,559.4 82.9,558.0 84.6,557.2 86.6,556.8 88.5,557.2 90.3,558.0 91.7,559.4 92.6,561.2 92.9,563.1 92.8,566.0 92.5,567.9 91.6,569.7 90.2,571.1 88.4,572.0 86.5,572.3 84.6,572.0 82.8,571.1 81.4,569.7 80.5,567.9ZM80.3,563.1 80.4,561.0 80.7,559.0 81.6,557.3 83.0,555.9 84.7,555.0 86.7,554.7 88.6,555.0 90.4,555.9 91.8,557.3 92.7,559.0 93.0,561.0 92.9,563.1 92.6,565.1 91.7,566.8 90.3,568.2 88.5,569.1 86.6,569.4 84.6,569.1 82.9,568.2 81.5,566.8 80.6,565.1ZM80.4,561.0 80.5,558.7 80.8,556.7 81.7,555.0 83.1,553.6 84.8,552.7 86.8,552.4 88.7,552.7 90.5,553.6 91.9,555.0 92.8,556.7 93.1,558.7 93.0,561.0 92.7,562.9 91.8,564.7 90.4,566.1 88.6,567.0 86.7,567.3 84.7,567.0 83.0,566.1 81.6,564.7 80.7,562.9ZM80.5,558.7 80.6,556.5 81.0,554.5 81.8,552.8 83.2,551.4 85.0,550.5 86.9,550.2 88.9,550.5 90.6,551.4 92.0,552.8 92.9,554.5 93.2,556.5 93.1,558.7 92.8,560.6 91.9,562.4 90.5,563.8 88.7,564.7 86.8,565.0 84.8,564.7 83.1,563.8 81.7,562.4 80.8,560.6ZM80.6,556.5 80.9,554.7 81.2,552.7 82.1,551.0 83.5,549.6 85.2,548.7 87.2,548.4 89.1,548.7 90.9,549.6 92.3,551.0 93.2,552.7 93.5,554.7 93.2,556.5 92.9,558.4 92.0,560.2 90.6,561.6 88.9,562.5 86.9,562.8 85.0,562.5 83.2,561.6 81.8,560.2 81.0,558.4ZM80.9,554.7 81.2,552.7 81.5,551.4 82.4,549.6 83.8,548.2 85.6,547.3 87.5,547.0 89.4,547.3 91.2,548.2 92.6,549.6 93.5,551.4 93.8,553.3 93.5,555.3 93.2,556.6 92.3,558.4 90.9,559.8 89.1,560.6 87.2,561.0 85.2,560.6 83.5,559.8 82.1,558.4 81.2,556.6ZM81.2,553.3 81.5,551.4 82.1,549.3 83.0,547.5 84.4,546.2 86.2,545.3 88.1,545.0 90.1,545.3 91.8,546.2 93.2,547.5 94.1,549.3 94.4,551.3 94.1,553.2 93.5,555.3 92.6,557.0 91.2,558.4 89.4,559.3 87.5,559.6 85.6,559.3 83.8,558.4 82.4,557.0 81.5,555.3ZM81.8,551.3 82.1,549.3 82.9,546.8 83.8,545.1 85.2,543.7 87.0,542.8 88.9,542.5 90.9,542.8 92.6,543.7 94.0,545.1 94.9,546.8 95.2,548.8 94.9,550.7 94.1,553.2 93.2,555.0 91.8,556.3 90.1,557.2 88.1,557.6 86.2,557.2 84.4,556.3 83.0,555.0 82.1,553.2ZM82.6,548.8 82.9,546.8 83.8,545.1 84.8,543.6 86.2,542.2 87.9,541.3 89.9,541.0 91.8,541.3 93.6,542.2 95.0,543.6 95.9,545.4 96.2,547.3 95.9,549.3 95.0,551.0 94.0,552.5 92.6,553.9 90.9,554.8 88.9,555.1 87.0,554.8 85.2,553.9 83.8,552.5 82.9,550.7ZM83.6,547.3 83.9,545.4 84.8,543.6 85.9,542.3 87.3,541.0 89.1,540.1 91.0,539.7 92.9,540.1 94.7,541.0 96.1,542.3 97.0,544.1 97.3,546.0 97.0,548.0 96.1,549.8 95.0,551.0 93.6,552.4 91.8,553.3 89.9,553.6 87.9,553.3 86.2,552.4 84.8,551.0 83.9,549.3ZM84.7,546.0 85.0,544.1 85.9,542.3 87.1,540.2 88.5,538.8 90.2,537.9 92.2,537.6 94.1,537.9 95.9,538.8 97.3,540.2 98.2,541.9 98.5,543.9 98.2,545.8 97.3,547.6 96.1,549.8 94.7,551.1 92.9,552.0 91.0,552.3 89.1,552.0 87.3,551.1 85.9,549.8 85.0,548.0ZM85.9,543.9 86.2,541.9 87.1,540.2 88.4,538.5 89.8,537.1 91.5,536.2 93.5,535.9 95.4,536.2 97.2,537.1 98.6,538.5 99.5,540.3 99.8,542.2 99.5,544.2 98.6,545.9 97.3,547.6 95.9,549.0 94.1,549.9 92.2,550.2 90.2,549.9 88.5,549.0 87.1,547.6 86.2,545.8ZM87.2,542.2 87.5,540.3 88.4,538.5 89.8,537.1 91.3,535.8 93.1,534.9 95.0,534.6 97.0,534.9 98.8,535.8 100.1,537.2 101.0,538.9 101.3,540.9 101.0,542.8 100.1,544.6 98.8,546.0 97.2,547.3 95.4,548.2 93.5,548.5 91.5,548.2 89.8,547.3 88.4,545.9 87.5,544.2ZM88.7,540.9 89.1,538.9 90.0,537.2 91.3,535.8 93.3,534.4 95.1,533.5 97.0,533.2 98.9,533.5 100.7,534.4 102.1,535.8 103.0,537.5 103.3,539.5 103.0,541.4 102.1,543.2 100.7,544.6 98.8,546.0 97.0,546.9 95.0,547.2 93.1,546.9 91.3,546.0 90.0,544.6 89.1,542.8ZM90.7,539.5 91.0,537.5 91.9,535.8 93.3,534.4 94.9,533.4 96.7,532.5 98.6,532.2 100.6,532.5 102.3,533.4 103.7,534.8 104.6,536.5 104.9,538.5 104.6,540.4 103.7,542.2 102.3,543.6 100.7,544.6 98.9,545.5 97.0,545.8 95.1,545.5 93.3,544.6 91.9,543.2 91.0,541.4ZM92.3,538.5 92.6,536.5 93.5,534.8 94.9,533.4 96.8,532.3 98.5,531.4 100.5,531.0 102.4,531.4 104.2,532.3 105.6,533.6 106.5,535.4 106.8,537.4 106.5,539.3 105.6,541.1 104.2,542.4 102.3,543.6 100.6,544.5 98.6,544.8 96.7,544.5 94.9,543.6 93.5,542.2 92.6,540.4ZM94.2,537.4 94.5,535.4 95.4,533.6 97.4,531.4 98.8,530.0 100.5,529.1 102.5,528.8 104.4,529.1 106.2,530.0 107.6,531.4 108.5,533.1 108.8,535.1 108.5,537.0 107.6,538.8 105.6,541.1 104.2,542.4 102.4,543.3 100.5,543.6 98.5,543.3 96.8,542.4 95.4,541.1 94.5,539.3ZM96.2,535.1 96.5,533.1 97.4,531.4 98.8,530.0 100.5,529.1 102.6,528.7 104.5,528.4 106.5,528.7 108.2,529.6 109.6,531.0 110.5,532.8 110.8,534.7 110.5,536.7 109.6,538.4 108.2,539.8 106.5,540.7 104.4,541.1 102.5,541.4 100.5,541.1 98.8,540.2 97.4,538.8 96.5,537.0ZM98.2,534.7 98.5,532.8 99.4,531.0 100.8,529.6 102.9,528.4 104.7,527.5 106.6,527.2 108.6,527.5 110.3,528.4 111.7,529.8 112.6,531.6 112.9,533.5 112.6,535.5 111.7,537.2 110.3,538.6 108.2,539.8 106.5,540.7 104.5,541.0 102.6,540.7 100.8,539.8 99.4,538.4 98.5,536.7ZM100.3,533.5 100.6,531.6 101.5,529.8 102.9,528.4 104.9,527.3 106.7,526.4 108.6,526.1 110.5,526.4 112.3,527.3 113.7,528.7 114.6,530.4 114.9,532.4 114.6,534.3 113.7,536.1 112.3,537.5 110.3,538.6 108.6,539.5 106.6,539.8 104.7,539.5 102.9,538.6 101.5,537.2 100.6,535.5ZM102.3,532.4 102.6,530.4 103.5,528.7 104.9,527.3 106.8,526.3 108.6,525.4 110.5,525.1 112.4,525.4 114.2,526.3 115.6,527.7 116.5,529.4 116.8,531.4 116.5,533.3 115.6,535.1 114.2,536.5 112.3,537.5 110.5,538.4 108.6,538.7 106.7,538.4 104.9,537.5 103.5,536.1 102.6,534.3ZM104.2,531.4 104.5,529.4 105.4,527.7 107.3,525.6 108.7,524.2 110.4,523.3 112.4,523.0 114.3,523.3 116.1,524.2 117.5,525.6 118.4,527.3 118.7,529.3 118.4,531.2 117.5,533.0 115.6,535.1 114.2,536.5 112.4,537.4 110.5,537.7 108.6,537.4 106.8,536.5 105.4,535.1 104.5,533.3ZM106.1,529.3 106.4,527.3 107.3,525.6 108.7,524.2 110.4,523.3 112.4,523.0 114.2,523.1 116.2,523.5 117.9,524.4 119.3,525.7 120.2,527.5 120.5,529.4 120.2,531.4 119.3,533.1 117.9,534.5 116.2,535.4 114.2,535.7 112.4,535.6 110.4,535.3 108.7,534.4 107.3,533.0 106.4,531.2ZM107.9,529.4 108.3,527.5 109.1,525.7 110.5,524.4 112.4,523.0 114.2,522.1 116.1,521.8 118.1,522.1 119.8,523.0 121.2,524.4 122.1,526.2 122.4,528.1 122.1,530.1 121.2,531.8 119.8,533.2 117.9,534.5 116.2,535.4 114.2,535.7 112.3,535.4 110.5,534.5 109.1,533.1 108.3,531.4ZM109.8,528.1 110.1,526.2 111.0,524.4 112.4,523.0 114.2,522.1 116.1,521.4 118.0,521.1 120.0,521.4 121.7,522.3 123.1,523.7 124.0,525.4 124.3,527.4 124.0,529.3 123.1,531.1 121.7,532.5 120.0,533.4 118.1,534.1 116.1,534.4 114.2,534.1 112.4,533.2 111.0,531.8 110.1,530.1ZM111.7,527.4 112.0,525.4 112.9,523.7 114.3,522.3 116.3,520.8 118.1,519.9 120.0,519.6 121.9,519.9 123.7,520.8 125.1,522.1 126.0,523.9 126.3,525.9 126.0,527.8 125.1,529.6 123.7,530.9 121.7,532.5 120.0,533.4 118.0,533.7 116.1,533.4 114.3,532.5 112.9,531.1 112.0,529.3ZM113.7,525.9 114.0,523.9 114.9,522.1 116.3,520.8 118.0,519.4 119.8,518.5 121.7,518.2 123.7,518.5 125.4,519.4 126.8,520.8 127.7,522.6 128.0,524.5 127.7,526.5 126.8,528.2 125.4,529.6 123.7,530.9 121.9,531.8 120.0,532.2 118.1,531.8 116.3,530.9 114.9,529.6 114.0,527.8ZM115.4,524.5 115.7,522.6 116.6,520.8 118.0,519.4 119.8,518.5 121.7,518.2 123.5,518.3 125.4,518.6 127.2,519.5 128.6,520.9 129.5,522.6 129.8,524.6 129.5,526.5 128.6,528.3 127.2,529.7 125.4,530.6 123.5,530.9 121.7,530.8 119.8,530.5 118.0,529.6 116.6,528.2 115.7,526.5ZM117.2,524.6 117.5,522.6 118.4,520.9 119.8,519.5 121.6,518.0 123.3,517.1 125.3,516.7 127.2,517.1 129.0,518.0 130.4,519.3 131.3,521.1 131.6,523.0 131.3,525.0 130.4,526.8 129.0,528.1 127.2,529.7 125.4,530.6 123.5,530.9 121.5,530.6 119.8,529.7 118.4,528.3 117.5,526.5ZM119.0,523.0 119.3,521.1 120.2,519.3 121.6,518.0 123.3,517.1 125.1,516.6 127.1,516.2 129.0,516.6 130.8,517.5 132.2,518.8 133.1,520.6 133.4,522.5 133.1,524.5 132.2,526.3 130.8,527.6 129.0,528.5 127.2,529.0 125.3,529.3 123.3,529.0 121.6,528.1 120.2,526.8 119.3,525.0ZM120.8,522.5 121.1,520.6 122.0,518.8 123.8,516.3 125.2,514.9 127.0,514.0 128.9,513.7 130.8,514.0 132.6,514.9 134.0,516.3 134.9,518.1 135.2,520.0 134.9,522.0 134.0,523.7 132.2,526.3 130.8,527.6 129.0,528.5 127.1,528.9 125.1,528.5 123.4,527.6 122.0,526.3 121.1,524.5ZM122.6,520.0 122.9,518.1 123.8,516.3 125.2,514.9 127.0,514.0 128.8,513.5 130.7,513.2 132.7,513.5 134.4,514.4 135.8,515.8 136.7,517.6 137.0,519.5 136.7,521.5 135.8,523.2 134.4,524.6 132.7,525.5 130.8,526.0 128.9,526.3 127.0,526.0 125.2,525.1 123.8,523.7 122.9,522.0ZM124.4,519.5 124.7,517.6 125.6,515.8 127.0,514.4 128.8,513.0 130.6,512.1 132.5,511.8 134.4,512.1 136.2,513.0 137.6,514.4 138.5,516.2 138.8,518.1 138.5,520.1 137.6,521.8 136.2,523.2 134.4,524.6 132.7,525.5 130.7,525.8 128.8,525.5 127.0,524.6 125.6,523.2 124.7,521.5ZM126.2,518.1 126.5,516.2 127.4,514.4 128.8,513.0 130.6,512.1 132.3,511.7 134.3,511.4 136.2,511.7 138.0,512.6 139.4,514.0 140.3,515.7 140.6,517.7 140.3,519.6 139.4,521.4 138.0,522.8 136.2,523.7 134.4,524.1 132.5,524.4 130.6,524.1 128.8,523.2 127.4,521.8 126.5,520.1ZM128.0,517.7 128.3,515.7 129.2,514.0 130.6,512.6 132.4,511.2 134.1,510.3 136.1,510.0 138.0,510.3 139.8,511.2 141.2,512.6 142.1,514.4 142.4,516.3 142.1,518.3 141.2,520.0 139.8,521.4 138.0,522.8 136.2,523.7 134.3,524.0 132.3,523.7 130.6,522.8 129.2,521.4 128.3,519.6ZM129.8,516.3 130.1,514.4 131.0,512.6 132.4,511.2 134.2,509.7 135.9,508.8 137.9,508.5 139.8,508.8 141.6,509.7 143.0,511.1 143.8,512.9 144.2,514.8 143.8,516.8 143.0,518.5 141.6,519.9 139.8,521.4 138.0,522.3 136.1,522.6 134.1,522.3 132.4,521.4 131.0,520.0 130.1,518.3ZM131.6,514.8 131.9,512.9 132.8,511.1 134.2,509.7 135.9,508.8 137.7,508.3 139.6,508.0 141.6,508.3 143.3,509.2 144.7,510.6 145.6,512.4 145.9,514.3 145.6,516.3 144.7,518.0 143.3,519.4 141.6,520.3 139.8,520.8 137.9,521.1 135.9,520.8 134.2,519.9 132.8,518.5 131.9,516.8ZM133.3,514.3 133.7,512.4 134.5,510.6 135.9,509.2 137.7,508.1 139.5,507.2 141.4,506.9 143.4,507.2 145.1,508.1 146.5,509.5 147.4,511.2 147.7,513.2 147.4,515.1 146.5,516.9 145.1,518.3 143.3,519.4 141.6,520.3 139.6,520.6 137.7,520.3 135.9,519.4 134.5,518.0 133.7,516.3ZM135.1,513.2 135.4,511.2 136.3,509.5 137.7,508.1 139.5,507.2 141.4,506.9 143.2,507.0 145.2,507.3 146.9,508.2 148.3,509.6 149.2,511.3 149.5,513.3 149.2,515.2 148.3,517.0 146.9,518.4 145.2,519.3 143.2,519.6 141.4,519.5 139.5,519.2 137.7,518.3 136.3,516.9 135.4,515.1ZM136.9,513.3 137.2,511.3 138.1,509.6 139.9,507.4 141.3,506.0 143.1,505.1 145.0,504.8 146.9,505.1 148.7,506.0 150.1,507.4 151.0,509.1 151.3,511.1 151.0,513.0 150.1,514.8 148.3,517.0 146.9,518.4 145.2,519.3 143.2,519.6 141.3,519.3 139.5,518.4 138.1,517.0 137.2,515.2ZM138.7,511.1 139.0,509.1 139.9,507.4 141.3,506.0 143.1,505.1 144.8,504.4 146.8,504.1 148.7,504.4 150.5,505.3 151.9,506.7 152.8,508.5 153.1,510.4 152.8,512.4 151.9,514.1 150.5,515.5 148.7,516.4 146.9,517.1 145.0,517.4 143.1,517.1 141.3,516.2 139.9,514.8 139.0,513.0ZM140.5,510.4 140.8,508.5 141.7,506.7 143.5,504.7 144.9,503.3 146.6,502.4 148.6,502.1 150.5,502.4 152.3,503.3 153.7,504.7 154.6,506.5 154.9,508.4 154.6,510.4 153.7,512.1 151.9,514.1 150.5,515.5 148.7,516.4 146.8,516.7 144.8,516.4 143.1,515.5 141.7,514.1 140.8,512.4ZM142.3,508.4 142.6,506.5 143.5,504.7 144.9,503.3 146.6,502.4 148.6,502.1 150.4,502.0 152.3,502.3 154.1,503.2 155.5,504.6 156.3,506.4 156.7,508.3 156.3,510.3 155.5,512.0 154.1,513.4 152.3,514.3 150.4,514.6 148.6,514.7 146.6,514.4 144.9,513.5 143.5,512.1 142.6,510.4ZM144.1,508.3 144.4,506.4 145.3,504.6 146.7,503.2 148.4,502.0 150.2,501.1 152.1,500.8 154.1,501.1 155.8,502.0 157.2,503.4 158.1,505.1 158.4,507.1 158.1,509.0 157.2,510.8 155.8,512.2 154.1,513.4 152.3,514.3 150.4,514.6 148.4,514.3 146.7,513.4 145.3,512.0 144.4,510.3ZM145.8,507.1 146.2,505.1 147.0,503.4 148.4,502.0 150.2,501.0 152.0,500.1 153.9,499.8 155.9,500.1 157.6,501.0 159.0,502.4 159.9,504.1 160.2,506.1 159.9,508.0 159.0,509.8 157.6,511.2 155.8,512.2 154.1,513.1 152.1,513.4 150.2,513.1 148.4,512.2 147.0,510.8 146.2,509.0ZM147.6,506.1 147.9,504.1 148.8,502.4 150.2,501.0 152.0,499.9 153.8,499.0 155.7,498.7 157.7,499.0 159.4,499.9 160.8,501.3 161.7,503.0 162.0,505.0 161.7,506.9 160.8,508.7 159.4,510.1 157.6,511.2 155.9,512.1 153.9,512.4 152.0,512.1 150.2,511.2 148.8,509.8 147.9,508.0ZM149.4,505.0 149.7,503.0 150.6,501.3 152.0,499.9 153.8,498.9 155.6,498.1 157.5,497.7 159.4,498.1 161.2,498.9 162.6,500.3 163.5,502.1 163.8,504.0 163.5,506.0 162.6,507.7 161.2,509.1 159.4,510.1 157.7,511.0 155.7,511.3 153.8,511.0 152.0,510.1 150.6,508.7 149.7,506.9ZM151.2,504.0 151.5,502.1 152.4,500.3 153.8,498.9 155.6,498.1 157.5,497.7 159.6,498.1 161.5,498.4 163.3,499.3 164.7,500.7 165.6,502.4 165.9,504.4 165.6,506.3 164.7,508.1 163.3,509.5 161.5,510.4 159.6,510.7 157.5,510.3 155.6,510.0 153.8,509.1 152.4,507.7 151.5,506.0ZM153.3,504.4 153.6,502.4 154.5,500.7 155.9,499.3 158.0,497.9 159.7,497.0 161.7,496.7 163.6,497.0 165.4,497.9 166.8,499.3 167.7,501.0 168.0,503.0 167.7,504.9 166.8,506.7 165.4,508.1 163.3,509.5 161.5,510.4 159.6,510.7 157.6,510.4 155.9,509.5 154.5,508.1 153.6,506.3ZM155.4,503.0 155.7,501.0 156.6,499.3 158.0,497.9 159.7,497.0 161.8,496.2 163.8,495.9 165.7,496.2 167.5,497.1 168.8,498.5 169.7,500.2 170.1,502.2 169.7,504.1 168.8,505.9 167.5,507.3 165.7,508.2 163.6,509.0 161.7,509.3 159.7,509.0 158.0,508.1 156.6,506.7 155.7,504.9ZM157.4,502.2 157.8,500.2 158.7,498.5 160.0,497.1 161.8,496.2 163.9,495.8 165.8,495.5 167.8,495.8 169.5,496.7 170.9,498.1 171.8,499.8 172.1,501.8 171.8,503.7 170.9,505.5 169.5,506.9 167.8,507.8 165.7,508.2 163.8,508.5 161.8,508.2 160.0,507.3 158.7,505.9 157.8,504.1ZM159.5,501.8 159.8,499.8 160.7,498.1 162.1,496.7 163.9,495.8 166.0,494.9 167.9,494.6 169.9,494.9 171.6,495.8 173.0,497.2 173.9,499.0 174.2,500.9 173.9,502.9 173.0,504.6 171.6,506.0 169.9,506.9 167.8,507.8 165.8,508.1 163.9,507.8 162.1,506.9 160.7,505.5 159.8,503.7ZM161.6,500.9 161.9,499.0 162.8,497.2 164.2,495.8 166.0,494.9 167.9,494.6 169.9,494.9 171.9,495.3 173.7,496.2 175.1,497.6 176.0,499.4 176.3,501.3 176.0,503.3 175.1,505.0 173.7,506.4 171.9,507.3 170.0,507.6 168.1,507.3 166.0,506.9 164.2,506.0 162.8,504.6 161.9,502.9ZM163.7,501.3 164.0,499.4 164.9,497.6 166.3,496.2 168.1,495.3 170.1,494.4 172.1,494.1 174.0,494.4 175.8,495.3 177.2,496.7 178.1,498.5 178.4,500.4 178.1,502.3 177.2,504.1 175.8,505.5 174.0,506.4 171.9,507.3 170.0,507.6 168.1,507.3 166.3,506.4 164.9,505.0 164.0,503.3ZM165.8,500.4 166.1,498.5 167.0,496.7 168.4,495.3 170.5,493.9 172.2,493.0 174.2,492.7 176.1,493.0 177.9,493.9 179.3,495.3 180.2,497.0 180.5,499.0 180.2,500.9 179.3,502.7 177.9,504.1 175.8,505.5 174.0,506.4 172.1,506.7 170.1,506.4 168.4,505.5 167.0,504.1 166.1,502.3ZM167.9,499.0 168.2,497.0 169.1,495.3 170.5,493.9 172.2,493.0 174.2,492.7 176.1,493.0 178.2,493.7 180.0,494.6 181.3,496.0 182.2,497.8 182.6,499.7 182.2,501.6 181.3,503.4 180.0,504.8 178.2,505.7 176.2,506.0 174.3,505.7 172.2,505.0 170.5,504.1 169.1,502.7 168.2,500.9ZM169.9,499.7 170.3,497.8 171.2,496.0 172.5,494.6 174.3,493.7 176.4,493.3 178.3,493.0 180.3,493.3 182.0,494.2 183.4,495.6 184.3,497.4 184.6,499.3 184.3,501.2 183.4,503.0 182.0,504.4 180.3,505.3 178.2,505.7 176.2,506.0 174.3,505.7 172.5,504.8 171.2,503.4 170.3,501.6ZM172.0,499.3 172.3,497.4 173.2,495.6 174.6,494.2 176.4,493.3 178.5,492.4 180.4,492.1 182.4,492.4 184.1,493.3 185.5,494.7 186.4,496.4 186.7,498.4 186.4,500.3 185.5,502.1 184.1,503.5 182.4,504.4 180.3,505.3 178.3,505.6 176.4,505.3 174.6,504.4 173.2,503.0 172.3,501.2ZM174.1,498.4 174.4,496.4 175.3,494.7 176.7,493.3 178.5,492.4 180.4,492.1 182.5,491.9 184.4,492.2 186.2,493.1 187.6,494.5 188.5,496.3 188.8,498.2 188.5,500.2 187.6,501.9 186.2,503.3 184.4,504.2 182.5,504.5 180.4,504.7 178.5,504.4 176.7,503.5 175.3,502.1 174.4,500.3ZM176.2,498.2 176.5,496.3 177.4,494.5 178.8,493.1 180.6,492.2 182.6,491.2 184.6,490.9 186.5,491.2 188.3,492.1 189.7,493.5 190.6,495.2 190.9,497.2 190.6,499.1 189.7,500.9 188.3,502.3 186.5,503.2 184.4,504.2 182.5,504.5 180.6,504.2 178.8,503.3 177.4,501.9 176.5,500.2ZM178.3,497.2 178.6,495.2 179.5,493.5 180.9,492.1 182.6,491.2 184.6,490.9 186.7,490.9 188.6,491.3 190.4,492.1 191.8,493.5 192.7,495.3 193.0,497.2 192.7,499.2 191.8,500.9 190.4,502.3 188.6,503.2 186.7,503.5 184.6,503.5 182.6,503.2 180.9,502.3 179.5,500.9 178.6,499.1ZM180.4,497.2 180.7,495.3 181.6,493.5 183.0,492.1 184.7,491.3 186.7,490.9 188.8,490.8 190.7,491.1 192.5,492.0 193.8,493.4 194.7,495.2 195.1,497.1 194.7,499.1 193.8,500.8 192.5,502.2 190.7,503.1 188.8,503.4 186.7,503.5 184.7,503.2 183.0,502.3 181.6,500.9 180.7,499.2ZM182.4,497.1 182.8,495.2 183.7,493.4 185.0,492.0 187.1,490.1 188.9,489.2 190.8,488.9 192.8,489.2 194.5,490.1 195.9,491.5 196.8,493.2 197.1,495.2 196.8,497.1 195.9,498.9 194.5,500.3 192.5,502.2 190.7,503.1 188.8,503.4 186.8,503.1 185.0,502.2 183.7,500.8 182.8,499.1ZM184.5,495.2 184.8,493.2 185.7,491.5 187.1,490.1 188.9,489.2 190.8,488.9 192.9,488.8 194.9,489.1 196.6,490.0 198.0,491.4 198.9,493.1 199.2,495.1 198.9,497.0 198.0,498.8 196.6,500.2 194.9,501.0 192.9,501.4 190.8,501.5 188.9,501.2 187.1,500.3 185.7,498.9 184.8,497.1ZM186.6,495.1 186.9,493.1 187.8,491.4 189.2,490.0 191.0,489.1 192.9,488.8 195.0,488.9 196.9,489.2 198.7,490.1 200.1,491.5 201.0,493.2 201.3,495.2 201.0,497.1 200.1,498.9 198.7,500.3 196.9,501.2 195.0,501.5 192.9,501.4 191.0,501.0 189.2,500.2 187.8,498.8 186.9,497.0ZM188.7,495.2 189.0,493.2 189.9,491.5 191.3,490.1 193.4,488.9 195.1,488.1 197.1,487.7 199.0,488.1 200.8,488.9 202.2,490.3 203.1,492.1 203.4,494.0 203.1,496.0 202.2,497.8 200.8,499.1 198.7,500.3 196.9,501.2 195.0,501.5 193.1,501.2 191.3,500.3 189.9,498.9 189.0,497.1ZM190.8,494.0 191.1,492.1 192.0,490.3 193.4,488.9 195.1,488.1 197.1,487.7 199.2,487.6 201.1,487.9 202.9,488.8 204.3,490.2 205.2,491.9 205.5,493.9 205.2,495.8 204.3,497.6 202.9,499.0 201.1,499.9 199.2,500.2 197.1,500.3 195.1,500.0 193.4,499.1 192.0,497.8 191.1,496.0ZM192.9,493.9 193.2,491.9 194.1,490.2 195.5,488.8 197.2,487.9 199.3,487.0 201.2,486.7 203.2,487.0 205.0,487.9 206.3,489.3 207.2,491.1 207.6,493.0 207.2,495.0 206.3,496.7 205.0,498.1 203.2,499.0 201.1,499.9 199.2,500.2 197.2,499.9 195.5,499.0 194.1,497.6 193.2,495.8ZM194.9,493.0 195.3,491.1 196.2,489.3 197.5,487.9 199.3,487.0 201.4,486.6 203.3,486.3 205.3,486.6 207.0,487.5 208.4,488.9 209.3,490.7 209.6,492.6 209.3,494.5 208.4,496.3 207.0,497.7 205.3,498.6 203.2,499.0 201.2,499.3 199.3,499.0 197.5,498.1 196.2,496.7 195.3,495.0ZM197.0,492.6 197.3,490.7 198.2,488.9 199.6,487.5 201.4,486.6 203.3,486.3 205.3,486.6 207.4,487.3 209.1,488.2 210.5,489.6 211.4,491.3 211.7,493.3 211.4,495.2 210.5,497.0 209.1,498.4 207.4,499.3 205.4,499.6 203.5,499.3 201.4,498.6 199.6,497.7 198.2,496.3 197.3,494.5ZM199.1,493.3 199.4,491.3 200.3,489.6 201.7,488.2 203.8,486.8 205.6,485.9 207.5,485.6 209.4,485.9 211.2,486.8 212.6,488.2 213.5,489.9 213.8,491.9 213.5,493.8 212.6,495.6 211.2,497.0 209.1,498.4 207.4,499.3 205.4,499.6 203.5,499.3 201.7,498.4 200.3,497.0 199.4,495.2ZM201.2,491.9 201.5,489.9 202.4,488.2 203.8,486.8 205.6,485.9 207.6,485.0 209.6,484.7 211.5,485.0 213.3,485.9 214.7,487.3 215.6,489.1 215.9,491.0 215.6,492.9 214.7,494.7 213.3,496.1 211.5,497.0 209.4,497.9 207.5,498.2 205.6,497.9 203.8,497.0 202.4,495.6 201.5,493.8ZM203.3,491.0 203.6,489.1 204.5,487.3 205.9,485.9 207.6,485.0 209.6,484.7 211.5,485.0 213.6,485.6 215.4,486.5 216.8,487.8 217.7,489.6 218.0,491.5 217.7,493.5 216.8,495.3 215.4,496.6 213.6,497.5 211.7,497.8 209.7,497.5 207.6,497.0 205.9,496.1 204.5,494.7 203.6,492.9ZM205.4,491.5 205.7,489.6 206.6,487.8 208.0,486.5 209.7,485.6 211.8,484.7 213.8,484.4 215.7,484.7 217.5,485.6 218.8,487.0 219.7,488.8 220.1,490.7 219.7,492.7 218.8,494.4 217.5,495.8 215.7,496.7 213.6,497.5 211.7,497.8 209.7,497.5 208.0,496.6 206.6,495.3 205.7,493.5ZM207.4,490.7 207.8,488.8 208.7,487.0 210.0,485.6 211.8,484.7 213.9,484.4 215.8,484.1 217.8,484.4 219.5,485.3 220.9,486.7 221.8,488.4 222.1,490.4 221.8,492.3 220.9,494.1 219.5,495.5 217.8,496.4 215.7,496.7 213.8,497.0 211.8,496.7 210.0,495.8 208.7,494.4 207.8,492.7ZM209.5,490.4 209.8,488.4 210.7,486.7 212.1,485.3 213.9,484.4 216.0,483.9 217.9,483.6 219.9,483.9 221.6,484.8 223.0,486.2 223.9,487.9 224.2,489.9 223.9,491.8 223.0,493.6 221.6,495.0 219.9,495.9 217.8,496.4 215.8,496.7 213.9,496.4 212.1,495.5 210.7,494.1 209.8,492.3ZM211.6,489.9 211.9,487.9 212.8,486.2 214.2,484.8 216.0,483.9 218.1,482.9 220.0,482.6 221.9,482.9 223.7,483.8 225.1,485.2 226.0,486.9 226.3,488.9 226.0,490.8 225.1,492.6 223.7,494.0 221.9,494.9 219.9,495.9 217.9,496.2 216.0,495.9 214.2,495.0 212.8,493.6 211.9,491.8ZM213.7,488.9 214.0,486.9 214.9,485.2 216.3,483.8 218.1,482.9 220.0,482.6 221.9,482.9 224.0,483.7 225.8,484.6 227.2,486.0 228.1,487.7 228.4,489.7 228.1,491.6 227.2,493.4 225.8,494.8 224.0,495.7 222.1,496.0 220.1,495.7 218.1,494.9 216.3,494.0 214.9,492.6 214.0,490.8ZM215.8,489.7 216.1,487.7 217.0,486.0 218.4,484.6 220.1,483.7 222.2,483.2 224.2,482.9 226.1,483.2 227.9,484.1 229.3,485.5 230.2,487.3 230.5,489.2 230.2,491.2 229.3,492.9 227.9,494.3 226.1,495.2 224.0,495.7 222.1,496.0 220.1,495.7 218.4,494.8 217.0,493.4 216.1,491.6ZM217.9,489.2 218.2,487.3 219.1,485.5 220.5,484.1 222.5,482.7 224.3,481.8 226.2,481.4 228.2,481.8 230.0,482.7 231.3,484.0 232.2,485.8 232.6,487.8 232.2,489.7 231.3,491.5 230.0,492.8 227.9,494.3 226.1,495.2 224.2,495.5 222.2,495.2 220.5,494.3 219.1,492.9 218.2,491.2ZM219.9,487.8 220.3,485.8 221.2,484.0 222.5,482.7 224.3,481.8 226.2,481.4 228.2,481.8 230.3,482.2 232.0,483.1 233.4,484.5 234.3,486.2 234.6,488.2 234.3,490.1 233.4,491.9 232.0,493.3 230.3,494.2 228.3,494.5 226.4,494.2 224.3,493.7 222.5,492.8 221.2,491.5 220.3,489.7ZM222.0,488.2 222.3,486.2 223.2,484.5 224.6,483.1 226.4,482.2 228.3,481.9 230.4,481.6 232.4,481.9 234.1,482.8 235.5,484.2 236.4,485.9 236.7,487.9 236.4,489.8 235.5,491.6 234.1,493.0 232.4,493.9 230.4,494.2 228.3,494.5 226.4,494.2 224.6,493.3 223.2,491.9 222.3,490.1ZM224.1,487.9 224.4,485.9 225.3,484.2 226.7,482.8 228.5,481.9 230.6,481.3 232.5,481.0 234.4,481.3 236.2,482.2 237.6,483.6 238.5,485.3 238.8,487.3 238.5,489.2 237.6,491.0 236.2,492.4 234.4,493.2 232.4,493.9 230.4,494.2 228.5,493.9 226.7,493.0 225.3,491.6 224.4,489.8ZM226.2,487.3 226.5,485.3 227.4,483.6 228.8,482.2 230.6,481.3 232.5,481.0 234.6,480.8 236.5,481.1 238.3,482.0 239.7,483.4 240.5,485.1 240.9,487.1 240.5,489.0 239.7,490.8 238.3,492.2 236.5,493.1 234.6,493.4 232.5,493.6 230.6,493.2 228.8,492.4 227.4,491.0 226.5,489.2ZM228.3,487.1 228.6,485.1 229.5,483.4 230.9,482.0 232.9,480.6 234.6,479.7 236.6,479.4 238.5,479.7 240.3,480.6 241.7,482.0 242.6,483.7 242.9,485.7 242.6,487.6 241.7,489.4 240.3,490.8 238.3,492.2 236.5,493.1 234.6,493.4 232.6,493.1 230.9,492.2 229.5,490.8 228.6,489.0ZM230.3,485.7 230.6,483.7 231.5,482.0 232.9,480.6 234.6,479.7 236.6,479.4 238.6,479.7 240.5,480.0 242.3,480.9 243.7,482.3 244.6,484.0 244.9,486.0 244.6,487.9 243.7,489.7 242.3,491.1 240.5,492.0 238.6,492.3 236.6,492.0 234.6,491.7 232.9,490.8 231.5,489.4 230.6,487.6ZM232.3,486.0 232.6,484.0 233.5,482.3 234.9,480.9 236.6,480.0 238.6,479.7 240.6,479.8 242.6,480.1 244.4,481.0 245.7,482.4 246.6,484.2 246.9,486.1 246.6,488.1 245.7,489.8 244.4,491.2 242.6,492.1 240.6,492.4 238.6,492.3 236.6,492.0 234.9,491.1 233.5,489.7 232.6,487.9ZM234.3,486.1 234.7,484.2 235.6,482.4 236.9,481.0 239.1,479.3 240.8,478.4 242.8,478.1 244.7,478.4 246.5,479.3 247.9,480.7 248.8,482.5 249.1,484.4 248.8,486.4 247.9,488.1 246.5,489.5 244.4,491.2 242.6,492.1 240.6,492.4 238.7,492.1 236.9,491.2 235.6,489.8 234.7,488.1ZM236.5,484.4 236.8,482.5 237.7,480.7 239.1,479.3 240.8,478.4 243.1,477.9 245.0,477.6 246.9,477.9 248.7,478.8 250.1,480.2 251.0,481.9 251.3,483.9 251.0,485.8 250.1,487.6 248.7,489.0 246.9,489.9 244.7,490.4 242.8,490.7 240.8,490.4 239.1,489.5 237.7,488.1 236.8,486.4ZM238.7,483.9 239.0,481.9 239.9,480.2 241.3,478.8 243.1,477.9 245.0,477.6 246.9,477.4 248.9,477.8 250.6,478.7 252.0,480.0 252.9,481.8 253.2,483.7 252.9,485.7 252.0,487.5 250.6,488.8 248.9,489.7 246.9,490.0 245.0,490.2 243.1,489.9 241.3,489.0 239.9,487.6 239.0,485.8ZM240.6,483.7 240.9,481.8 241.8,480.0 243.2,478.7 245.0,477.8 246.9,477.2 248.8,476.9 250.8,477.2 252.5,478.1 253.9,479.5 254.8,481.3 255.1,483.2 254.8,485.1 253.9,486.9 252.5,488.3 250.8,489.2 248.9,489.7 246.9,490.0 245.0,489.7 243.2,488.8 241.8,487.5 240.9,485.7ZM242.5,483.2 242.8,481.3 243.7,479.5 245.1,478.1 246.9,477.2 248.8,476.9 250.7,477.0 252.7,477.3 254.4,478.2 255.8,479.6 256.7,481.4 257.0,483.3 256.7,485.3 255.8,487.0 254.4,488.4 252.7,489.3 250.7,489.6 248.8,489.5 246.9,489.2 245.1,488.3 243.7,486.9 242.8,485.1ZM244.4,483.3 244.7,481.4 245.6,479.6 247.0,478.2 249.0,476.3 250.8,475.4 252.7,475.1 254.7,475.4 256.4,476.3 257.8,477.7 258.7,479.5 259.0,481.4 258.7,483.4 257.8,485.1 256.4,486.5 254.4,488.4 252.7,489.3 250.7,489.6 248.8,489.3 247.0,488.4 245.6,487.0 244.7,485.3ZM246.4,481.4 246.7,479.5 247.6,477.7 249.0,476.3 250.8,475.4 253.0,475.0 254.9,474.7 256.9,475.0 258.6,475.9 260.0,477.3 260.9,479.1 261.2,481.0 260.9,483.0 260.0,484.7 258.6,486.1 256.9,487.0 254.7,487.4 252.7,487.7 250.8,487.4 249.0,486.5 247.6,485.1 246.7,483.4ZM248.6,481.0 248.9,479.1 249.8,477.3 251.2,475.9 253.0,475.0 254.9,474.7 256.9,475.0 259.3,475.5 261.0,476.4 262.4,477.8 263.3,479.5 263.6,481.5 263.3,483.4 262.4,485.2 261.0,486.6 259.3,487.5 257.3,487.8 255.4,487.5 253.0,487.0 251.2,486.1 249.8,484.7 248.9,483.0ZM251.0,481.5 251.3,479.5 252.2,477.8 253.6,476.4 255.4,475.5 257.3,475.2 260.0,474.8 261.9,475.1 263.7,476.0 265.1,477.4 266.0,479.1 266.3,481.1 266.0,483.0 265.1,484.8 263.7,486.2 261.9,487.1 260.0,487.4 257.3,487.8 255.4,487.5 253.6,486.6 252.2,485.2 251.3,483.4ZM253.7,481.1 254.0,479.1 254.9,477.4 256.3,476.0 258.0,474.7 259.8,473.8 261.7,473.5 263.7,473.8 265.4,474.7 266.8,476.1 267.7,477.9 268.0,479.8 267.7,481.7 266.8,483.5 265.4,484.9 263.7,486.2 261.9,487.1 260.0,487.4 258.1,487.1 256.3,486.2 254.9,484.8 254.0,483.0ZM255.4,479.8 255.7,477.9 256.6,476.1 258.0,474.7 259.8,473.8 261.7,473.5 263.7,473.8 265.5,474.2 267.3,475.1 268.7,476.5 269.6,478.2 269.9,480.2 269.6,482.1 268.7,483.9 267.3,485.3 265.5,486.2 263.6,486.5 261.6,486.2 259.8,485.8 258.0,484.9 256.6,483.5 255.7,481.7ZM257.3,480.2 257.6,478.2 258.5,476.5 259.9,475.1 261.6,474.2 263.6,473.6 265.5,473.3 267.5,473.6 269.2,474.5 270.6,475.9 271.5,477.7 271.8,479.6 271.5,481.6 270.6,483.3 269.2,484.7 267.5,485.6 265.5,486.2 263.6,486.5 261.6,486.2 259.9,485.3 258.5,483.9 257.6,482.1ZM259.2,479.6 259.6,477.7 260.4,475.9 261.8,474.5 263.6,473.6 265.5,473.3 267.5,473.6 269.5,474.5 271.3,475.4 272.7,476.8 273.6,478.5 273.9,480.5 273.6,482.4 272.7,484.2 271.3,485.6 269.5,486.5 267.6,486.8 265.6,486.5 263.6,485.6 261.8,484.7 260.4,483.3 259.6,481.6ZM261.3,480.5 261.6,478.5 262.5,476.8 263.9,475.4 265.6,474.5 267.8,473.9 269.7,473.6 271.7,473.9 273.4,474.8 274.8,476.2 275.7,477.9 276.0,479.9 275.7,481.8 274.8,483.6 273.4,485.0 271.7,485.9 269.5,486.5 267.6,486.8 265.6,486.5 263.9,485.6 262.5,484.2 261.6,482.4ZM263.4,479.9 263.7,477.9 264.6,476.2 266.0,474.8 267.8,473.9 269.9,473.0 271.9,472.7 273.8,473.0 275.6,473.9 277.0,475.3 277.9,477.1 278.2,479.0 277.9,481.0 277.0,482.7 275.6,484.1 273.8,485.0 271.7,485.9 269.7,486.2 267.8,485.9 266.0,485.0 264.6,483.6 263.7,481.8ZM265.6,479.0 265.9,477.1 266.8,475.3 268.2,473.9 269.9,473.0 271.9,472.7 273.8,473.0 276.0,474.1 277.8,475.0 279.2,476.4 280.1,478.2 280.4,480.1 280.1,482.1 279.2,483.8 277.8,485.2 276.0,486.1 274.1,486.4 272.1,486.1 269.9,485.0 268.2,484.1 266.8,482.7 265.9,481.0ZM267.8,480.1 268.1,478.2 269.0,476.4 270.4,475.0 272.1,474.1 274.1,473.8 276.3,473.8 278.2,474.1 280.0,475.0 281.4,476.4 282.3,478.1 282.6,480.1 282.3,482.0 281.4,483.8 280.0,485.2 278.2,486.1 276.3,486.4 274.1,486.4 272.1,486.1 270.4,485.2 269.0,483.8 268.1,482.1ZM270.0,480.1 270.3,478.1 271.2,476.4 272.6,475.0 274.8,473.5 276.6,472.6 278.5,472.3 280.5,472.6 282.2,473.5 283.6,474.9 284.5,476.7 284.8,478.6 284.5,480.6 283.6,482.3 282.2,483.7 280.0,485.2 278.2,486.1 276.3,486.4 274.3,486.1 272.6,485.2 271.2,483.8 270.3,482.0ZM272.2,478.6 272.5,476.7 273.4,474.9 274.8,473.5 276.6,472.6 278.5,472.3 280.7,472.3 282.7,472.6 284.4,473.5 285.8,474.9 286.7,476.6 287.0,478.6 286.7,480.5 285.8,482.3 284.4,483.7 282.7,484.6 280.7,484.9 278.5,484.9 276.6,484.6 274.8,483.7 273.4,482.3 272.5,480.6ZM274.4,478.6 274.7,476.6 275.6,474.9 277.0,473.5 278.8,472.6 280.7,472.3 282.9,472.4 284.8,472.7 286.6,473.6 288.0,475.0 288.9,476.8 289.2,478.7 288.9,480.7 288.0,482.4 286.6,483.8 284.8,484.7 282.9,485.0 280.7,484.9 278.8,484.6 277.0,483.7 275.6,482.3 274.7,480.5ZM276.6,478.7 276.9,476.8 277.8,475.0 279.2,473.6 280.9,472.7 283.1,472.0 285.0,471.7 286.9,472.0 288.7,472.9 290.1,474.3 291.0,476.0 291.3,478.0 291.0,479.9 290.1,481.7 288.7,483.1 286.9,484.0 284.8,484.7 282.9,485.0 280.9,484.7 279.2,483.8 277.8,482.4 276.9,480.7ZM278.7,478.0 279.0,476.0 279.9,474.3 281.3,472.9 283.1,472.0 285.0,471.7 286.9,471.8 288.9,472.1 290.6,473.0 292.0,474.4 292.9,476.1 293.2,478.1 292.9,480.0 292.0,481.8 290.6,483.2 288.9,484.0 286.9,484.4 285.0,484.3 283.1,484.0 281.3,483.1 279.9,481.7 279.0,479.9ZM280.6,478.1 280.9,476.1 281.8,474.4 283.2,473.0 285.1,471.6 286.9,470.7 288.8,470.4 290.8,470.7 292.5,471.6 293.9,472.9 294.8,474.7 295.1,476.7 294.8,478.6 293.9,480.4 292.5,481.8 290.6,483.2 288.9,484.0 286.9,484.4 285.0,484.0 283.2,483.2 281.8,481.8 280.9,480.0ZM282.5,476.7 282.9,474.7 283.7,472.9 285.1,471.6 286.9,470.7 288.8,470.4 290.8,470.2 292.7,470.5 294.5,471.4 295.9,472.8 296.8,474.5 297.1,476.5 296.8,478.4 295.9,480.2 294.5,481.6 292.7,482.5 290.8,482.8 288.8,483.0 286.9,482.6 285.1,481.8 283.7,480.4 282.9,478.6ZM284.5,476.5 284.8,474.5 285.7,472.8 287.1,471.4 288.8,470.5 290.8,470.2 292.7,470.5 294.6,470.8 296.4,471.7 297.8,473.1 298.7,474.8 299.0,476.8 298.7,478.7 297.8,480.5 296.4,481.9 294.6,482.8 292.7,483.1 290.7,482.8 288.8,482.5 287.1,481.6 285.7,480.2 284.8,478.4ZM286.4,476.8 286.7,474.8 287.6,473.1 289.0,471.7 290.9,470.4 292.7,469.5 294.6,469.2 296.6,469.5 298.3,470.4 299.7,471.8 300.6,473.6 300.9,475.5 300.6,477.5 299.7,479.2 298.3,480.6 296.4,481.9 294.6,482.8 292.7,483.1 290.7,482.8 289.0,481.9 287.6,480.5 286.7,478.7ZM288.3,475.5 288.6,473.6 289.5,471.8 290.9,470.4 292.7,469.5 294.6,469.2 296.5,469.1 298.5,469.4 300.2,470.3 301.6,471.7 302.5,473.4 302.8,475.4 302.5,477.3 301.6,479.1 300.2,480.5 298.5,481.4 296.5,481.7 294.6,481.8 292.7,481.5 290.9,480.6 289.5,479.2 288.6,477.5ZM290.2,475.4 290.5,473.4 291.4,471.7 292.8,470.3 294.8,468.8 296.5,467.9 298.5,467.6 300.4,467.9 302.2,468.8 303.6,470.2 304.5,471.9 304.8,473.9 304.5,475.8 303.6,477.6 302.2,479.0 300.2,480.5 298.5,481.4 296.5,481.7 294.6,481.4 292.8,480.5 291.4,479.1 290.5,477.3ZM292.2,473.9 292.5,471.9 293.4,470.2 294.8,468.8 296.5,467.9 298.5,467.6 300.4,467.8 302.3,468.1 304.1,469.0 305.5,470.4 306.4,472.1 306.7,474.1 306.4,476.0 305.5,477.8 304.1,479.2 302.3,480.0 300.4,480.4 298.5,480.2 296.5,479.9 294.8,479.0 293.4,477.6 292.5,475.8ZM294.1,474.1 294.4,472.1 295.3,470.4 296.7,469.0 298.4,468.1 300.4,467.8 302.3,467.6 304.3,468.0 306.0,468.9 307.4,470.2 308.3,472.0 308.6,473.9 308.3,475.9 307.4,477.6 306.0,479.0 304.3,479.9 302.3,480.2 300.4,480.4 298.4,480.0 296.7,479.2 295.3,477.8 294.4,476.0ZM296.0,473.9 296.3,472.0 297.2,470.2 298.6,468.9 300.5,467.5 302.3,466.6 304.2,466.3 306.2,466.6 307.9,467.5 309.3,468.9 310.2,470.6 310.5,472.6 310.2,474.5 309.3,476.3 307.9,477.7 306.0,479.0 304.3,479.9 302.3,480.2 300.4,479.9 298.6,479.0 297.2,477.6 296.3,475.9ZM297.9,472.6 298.2,470.6 299.1,468.9 300.5,467.5 302.3,466.6 304.2,466.3 306.2,466.1 308.1,466.4 309.9,467.3 311.3,468.7 312.1,470.4 312.5,472.4 312.1,474.3 311.3,476.1 309.9,477.5 308.1,478.4 306.2,478.7 304.2,478.9 302.3,478.6 300.5,477.7 299.1,476.3 298.2,474.5ZM299.9,472.4 300.2,470.4 301.1,468.7 302.5,467.3 304.4,465.9 306.1,465.1 308.1,464.7 310.0,465.1 311.8,465.9 313.2,467.3 314.1,469.1 314.4,471.0 314.1,473.0 313.2,474.8 311.8,476.1 309.9,477.5 308.1,478.4 306.2,478.7 304.2,478.4 302.5,477.5 301.1,476.1 300.2,474.3ZM301.8,471.0 302.1,469.1 303.0,467.3 304.4,465.9 306.1,465.1 308.1,464.7 310.0,465.1 311.9,465.6 313.7,466.5 315.1,467.9 316.0,469.6 316.3,471.6 316.0,473.5 315.1,475.3 313.7,476.7 311.9,477.5 310.0,477.9 308.1,477.5 306.1,477.0 304.4,476.1 303.0,474.8 302.1,473.0ZM303.7,471.6 304.0,469.6 304.9,467.9 306.3,466.5 308.1,465.6 310.0,465.0 311.9,464.7 313.9,465.0 315.6,465.9 317.0,467.3 317.9,469.1 318.2,471.0 317.9,473.0 317.0,474.7 315.6,476.1 313.9,477.0 311.9,477.5 310.0,477.9 308.1,477.5 306.3,476.7 304.9,475.3 304.0,473.5ZM305.6,471.0 305.9,469.1 306.8,467.3 308.2,465.9 310.1,464.6 311.9,463.7 313.8,463.4 315.8,463.7 317.5,464.6 318.9,466.0 319.8,467.8 320.1,469.7 319.8,471.7 318.9,473.4 317.5,474.8 315.6,476.1 313.9,477.0 311.9,477.3 310.0,477.0 308.2,476.1 306.8,474.7 305.9,473.0ZM307.5,469.7 307.9,467.8 308.7,466.0 310.1,464.6 311.9,463.7 313.8,463.4 315.8,463.3 317.7,463.6 319.5,464.5 320.9,465.9 321.8,467.6 322.1,469.6 321.8,471.5 320.9,473.3 319.5,474.7 317.7,475.6 315.8,475.9 313.8,476.0 311.9,475.7 310.1,474.8 308.7,473.4 307.9,471.7ZM309.5,469.6 309.8,467.6 310.7,465.9 312.1,464.5 314.0,463.3 315.7,462.4 317.7,462.1 319.6,462.4 321.4,463.3 322.8,464.7 323.7,466.5 324.0,468.4 323.7,470.4 322.8,472.1 321.4,473.5 319.5,474.7 317.7,475.6 315.8,475.9 313.8,475.6 312.1,474.7 310.7,473.3 309.8,471.5ZM311.4,468.4 311.7,466.5 312.6,464.7 314.0,463.3 315.7,462.4 317.7,462.1 319.6,462.4 321.6,463.0 323.3,463.9 324.7,465.3 325.6,467.0 325.9,469.0 325.6,470.9 324.7,472.7 323.3,474.1 321.6,475.0 319.6,475.3 317.7,475.0 315.7,474.4 314.0,473.5 312.6,472.1 311.7,470.4ZM313.3,469.0 313.6,467.0 314.5,465.3 315.9,463.9 317.8,462.8 319.6,461.9 321.5,461.6 323.5,461.9 325.2,462.8 326.6,464.2 327.5,466.0 327.8,467.9 327.5,469.9 326.6,471.6 325.2,473.0 323.3,474.1 321.6,475.0 319.6,475.3 317.7,475.0 315.9,474.1 314.5,472.7 313.6,470.9ZM315.2,467.9 315.5,466.0 316.4,464.2 317.8,462.8 319.8,461.6 321.5,460.7 323.5,460.4 325.4,460.7 327.2,461.6 328.6,463.0 329.5,464.8 329.8,466.7 329.5,468.7 328.6,470.4 327.2,471.8 325.2,473.0 323.5,473.9 321.5,474.2 319.6,473.9 317.8,473.0 316.4,471.6 315.5,469.9ZM317.2,466.7 317.5,464.8 318.4,463.0 319.8,461.6 321.5,460.7 323.5,460.4 325.4,460.3 327.3,460.6 329.1,461.5 330.5,462.9 331.4,464.6 331.7,466.6 331.4,468.5 330.5,470.3 329.1,471.7 327.3,472.6 325.4,472.9 323.5,473.0 321.5,472.7 319.8,471.8 318.4,470.4 317.5,468.7ZM319.1,466.6 319.4,464.6 320.3,462.9 321.7,461.5 323.6,460.5 325.4,459.6 327.3,459.3 329.3,459.6 331.0,460.5 332.4,461.9 333.3,463.7 333.6,465.6 333.3,467.5 332.4,469.3 331.0,470.7 329.1,471.7 327.3,472.6 325.4,472.9 323.4,472.6 321.7,471.7 320.3,470.3 319.4,468.5ZM321.0,465.6 321.3,463.7 322.2,461.9 323.6,460.5 325.4,459.6 327.3,459.3 329.3,459.6 331.2,460.1 332.9,461.0 334.3,462.4 335.2,464.1 335.5,466.1 335.2,468.0 334.3,469.8 332.9,471.2 331.2,472.1 329.2,472.4 327.3,472.1 325.4,471.6 323.6,470.7 322.2,469.3 321.3,467.5ZM322.9,466.1 323.2,464.1 324.1,462.4 325.5,461.0 327.5,459.5 329.2,458.6 331.2,458.3 333.1,458.6 334.9,459.5 336.3,460.9 337.1,462.6 337.5,464.6 337.1,466.5 336.3,468.3 334.9,469.7 332.9,471.2 331.2,472.1 329.2,472.4 327.3,472.1 325.5,471.2 324.1,469.8 323.2,468.0ZM324.9,464.6 325.2,462.6 326.1,460.9 327.5,459.5 329.2,458.6 331.1,457.7 333.1,457.4 335.0,457.7 336.8,458.6 338.2,460.0 339.1,461.8 339.4,463.7 339.1,465.7 338.2,467.4 336.8,468.8 335.0,469.7 333.1,470.5 331.2,470.9 329.2,470.5 327.5,469.7 326.1,468.3 325.2,466.5ZM326.8,463.7 327.1,461.8 328.0,460.0 329.4,458.6 331.1,457.7 333.1,457.4 335.0,457.3 336.9,457.6 338.7,458.5 340.1,459.9 341.0,461.7 341.3,463.6 341.0,465.6 340.1,467.3 338.7,468.7 336.9,469.6 335.0,469.9 333.1,470.0 331.1,469.7 329.4,468.8 328.0,467.4 327.1,465.7ZM328.7,463.6 329.0,461.7 329.9,459.9 331.3,458.5 333.1,457.6 335.1,456.9 337.1,456.6 339.0,456.9 340.8,457.8 342.2,459.2 343.1,460.9 343.4,462.9 343.1,464.8 342.2,466.6 340.8,468.0 339.0,468.9 336.9,469.6 335.0,469.9 333.1,469.6 331.3,468.7 329.9,467.3 329.0,465.6ZM330.8,462.9 331.1,460.9 332.0,459.2 333.4,457.8 335.1,456.9 337.1,456.6 339.2,456.8 341.1,457.1 342.9,458.0 344.3,459.4 345.2,461.1 345.5,463.1 345.2,465.0 344.3,466.8 342.9,468.2 341.1,469.1 339.2,469.4 337.1,469.2 335.1,468.9 333.4,468.0 332.0,466.6 331.1,464.8ZM332.9,463.1 333.2,461.1 334.1,459.4 335.5,458.0 337.5,456.8 339.3,455.9 341.2,455.6 343.2,455.9 345.0,456.8 346.3,458.2 347.2,460.0 347.6,461.9 347.2,463.9 346.3,465.6 345.0,467.0 342.9,468.2 341.1,469.1 339.2,469.4 337.2,469.1 335.5,468.2 334.1,466.8 333.2,465.0ZM334.9,461.9 335.3,460.0 336.2,458.2 337.5,456.8 339.3,455.9 341.4,454.9 343.3,454.6 345.3,454.9 347.0,455.8 348.4,457.2 349.3,459.0 349.6,460.9 349.3,462.9 348.4,464.6 347.0,466.0 345.3,466.9 343.2,467.9 341.2,468.2 339.3,467.9 337.5,467.0 336.2,465.6 335.3,463.9ZM337.0,460.9 337.3,459.0 338.2,457.2 339.6,455.8 341.4,454.9 343.3,454.6 345.3,454.9 347.4,455.7 349.1,456.6 350.5,458.0 351.4,459.8 351.7,461.7 351.4,463.7 350.5,465.4 349.1,466.8 347.4,467.7 345.4,468.0 343.5,467.7 341.4,466.9 339.6,466.0 338.2,464.6 337.3,462.9ZM339.1,461.7 339.4,459.8 340.3,458.0 341.7,456.6 343.5,455.7 345.6,454.8 347.5,454.5 349.4,454.8 351.2,455.7 352.6,457.1 353.5,458.8 353.8,460.8 353.5,462.7 352.6,464.5 351.2,465.9 349.4,466.8 347.4,467.7 345.4,468.0 343.5,467.7 341.7,466.8 340.3,465.4 339.4,463.7ZM341.2,460.8 341.5,458.8 342.4,457.1 343.8,455.7 345.9,454.5 347.6,453.6 349.6,453.3 351.5,453.6 353.3,454.5 354.7,455.9 355.6,457.7 355.9,459.6 355.6,461.6 354.7,463.3 353.3,464.7 351.2,465.9 349.4,466.8 347.5,467.1 345.6,466.8 343.8,465.9 342.4,464.5 341.5,462.7ZM343.3,459.6 343.6,457.7 344.5,455.9 345.9,454.5 347.6,453.6 349.6,453.3 351.7,453.2 353.6,453.5 355.4,454.4 356.8,455.8 357.7,457.6 358.0,459.5 357.7,461.5 356.8,463.2 355.4,464.6 353.6,465.5 351.7,465.8 349.6,465.9 347.6,465.6 345.9,464.7 344.5,463.3 343.6,461.6ZM345.4,459.5 345.7,457.6 346.6,455.8 348.0,454.4 349.7,453.5 351.8,452.6 353.8,452.3 355.7,452.6 357.5,453.5 358.8,454.9 359.7,456.6 360.1,458.6 359.7,460.5 358.8,462.3 357.5,463.7 355.7,464.6 353.6,465.5 351.7,465.8 349.7,465.5 348.0,464.6 346.6,463.2 345.7,461.5ZM347.4,458.6 347.8,456.6 348.7,454.9 350.0,453.5 351.8,452.6 353.8,452.3 355.8,452.2 357.8,452.5 359.5,453.4 360.9,454.8 361.8,456.6 362.1,458.5 361.8,460.5 360.9,462.2 359.5,463.6 357.8,464.5 355.8,464.8 353.8,464.9 351.8,464.6 350.0,463.7 348.7,462.3 347.8,460.5ZM349.5,458.5 349.8,456.6 350.7,454.8 352.1,453.4 353.9,452.5 356.0,451.9 357.9,451.5 359.9,451.9 361.6,452.7 363.0,454.1 363.9,455.9 364.2,457.8 363.9,459.8 363.0,461.5 361.6,462.9 359.9,463.8 357.8,464.5 355.8,464.8 353.9,464.5 352.1,463.6 350.7,462.2 349.8,460.5ZM351.6,457.8 351.9,455.9 352.8,454.1 354.2,452.7 356.3,450.9 358.1,450.0 360.0,449.7 361.9,450.0 363.7,450.9 365.1,452.3 366.0,454.1 366.3,456.0 366.0,457.9 365.1,459.7 363.7,461.1 361.6,462.9 359.9,463.8 357.9,464.1 356.0,463.8 354.2,462.9 352.8,461.5 351.9,459.8ZM353.7,456.0 354.0,454.1 354.9,452.3 356.3,450.9 358.1,450.0 360.0,449.7 361.9,450.0 363.9,450.4 365.7,451.3 367.1,452.7 367.9,454.5 368.3,456.4 367.9,458.4 367.1,460.1 365.7,461.5 363.9,462.4 362.0,462.7 360.0,462.4 358.1,462.0 356.3,461.1 354.9,459.7 354.0,457.9ZM355.7,456.4 356.0,454.5 356.9,452.7 358.3,451.3 360.0,450.4 362.0,449.9 364.0,449.6 365.9,449.9 367.7,450.8 369.1,452.2 370.0,454.0 370.3,455.9 370.0,457.9 369.1,459.6 367.7,461.0 365.9,461.9 363.9,462.4 362.0,462.7 360.0,462.4 358.3,461.5 356.9,460.1 356.0,458.4ZM357.7,455.9 358.0,454.0 358.9,452.2 360.3,450.8 362.3,449.5 364.1,448.6 366.0,448.3 368.0,448.6 369.7,449.5 371.1,450.9 372.0,452.7 372.3,454.6 372.0,456.6 371.1,458.3 369.7,459.7 367.7,461.0 365.9,461.9 364.0,462.2 362.0,461.9 360.3,461.0 358.9,459.6 358.0,457.9ZM359.7,454.6 360.0,452.7 360.9,450.9 362.3,449.5 364.1,448.6 366.2,448.2 368.1,447.9 370.0,448.2 371.8,449.1 373.2,450.5 374.1,452.2 374.4,454.2 374.1,456.1 373.2,457.9 371.8,459.3 370.0,460.2 368.0,460.6 366.0,460.9 364.1,460.6 362.3,459.7 360.9,458.3 360.0,456.6ZM361.8,454.2 362.1,452.2 363.0,450.5 364.4,449.1 366.5,447.8 368.2,446.9 370.2,446.6 372.1,446.9 373.9,447.8 375.3,449.2 376.2,450.9 376.5,452.9 376.2,454.8 375.3,456.6 373.9,458.0 371.8,459.3 370.0,460.2 368.1,460.5 366.2,460.2 364.4,459.3 363.0,457.9 362.1,456.1ZM363.9,452.9 364.2,450.9 365.1,449.2 366.5,447.8 368.2,446.9 370.2,446.6 372.3,446.4 374.2,446.7 376.0,447.6 377.4,449.0 378.2,450.8 378.6,452.7 378.2,454.7 377.4,456.4 376.0,457.8 374.2,458.7 372.3,459.0 370.2,459.2 368.2,458.9 366.5,458.0 365.1,456.6 364.2,454.8ZM366.0,452.7 366.3,450.8 367.2,449.0 368.6,447.6 370.3,446.7 372.3,446.4 374.3,446.3 376.2,446.6 378.0,447.5 379.4,448.9 380.3,450.6 380.6,452.6 380.3,454.5 379.4,456.3 378.0,457.7 376.2,458.6 374.3,458.9 372.3,459.0 370.3,458.7 368.6,457.8 367.2,456.4 366.3,454.7ZM368.0,452.6 368.3,450.6 369.2,448.9 371.2,446.8 372.6,445.4 374.3,444.5 376.3,444.2 378.2,444.5 380.0,445.4 381.4,446.8 382.3,448.6 382.6,450.5 382.3,452.5 381.4,454.2 379.4,456.3 378.0,457.7 376.2,458.6 374.3,458.9 372.4,458.6 370.6,457.7 369.2,456.3 368.3,454.5ZM370.0,450.5 370.3,448.6 371.2,446.8 372.6,445.4 374.3,444.5 376.3,444.2 378.2,444.0 380.2,444.4 381.9,445.3 383.3,446.6 384.2,448.4 384.5,450.3 384.2,452.3 383.3,454.1 381.9,455.4 380.2,456.3 378.2,456.6 376.3,456.8 374.3,456.5 372.6,455.6 371.2,454.2 370.3,452.5ZM371.9,450.3 372.2,448.4 373.1,446.6 374.5,445.3 376.3,444.4 378.1,443.6 380.1,443.3 382.0,443.6 383.8,444.5 385.2,445.9 386.1,447.6 386.4,449.6 386.1,451.5 385.2,453.3 383.8,454.7 382.0,455.6 380.2,456.3 378.2,456.6 376.3,456.3 374.5,455.4 373.1,454.1 372.2,452.3ZM373.8,449.6 374.1,447.6 375.0,445.9 376.4,444.5 378.1,443.6 380.1,443.3 381.8,443.1 383.8,443.4 385.5,444.3 386.9,445.7 387.8,447.5 388.1,449.4 387.8,451.4 386.9,453.1 385.5,454.5 383.8,455.4 381.8,455.7 380.1,455.9 378.1,455.6 376.4,454.7 375.0,453.3 374.1,451.5ZM375.5,449.4 375.9,447.5 376.7,445.7 378.1,444.3 379.9,443.4 381.5,442.9 383.5,442.6 385.4,442.9 387.2,443.8 388.6,445.2 389.5,446.9 389.8,448.9 389.5,450.8 388.6,452.6 387.2,454.0 385.4,454.9 383.8,455.4 381.8,455.7 379.9,455.4 378.1,454.5 376.7,453.1 375.9,451.4ZM377.2,448.9 377.5,446.9 378.4,445.2 379.8,443.8 381.5,442.9 383.1,442.2 385.0,441.9 386.9,442.2 388.7,443.1 390.1,444.5 391.0,446.3 391.3,448.2 391.0,450.1 390.1,451.9 388.7,453.3 386.9,454.2 385.4,454.9 383.5,455.2 381.5,454.9 379.8,454.0 378.4,452.6 377.5,450.8ZM378.7,448.2 379.0,446.3 379.9,444.5 381.3,443.1 384.1,441.6 385.9,440.7 387.8,440.4 389.8,440.7 391.5,441.6 392.9,443.0 393.8,444.7 394.1,446.7 393.8,448.6 392.9,450.4 391.5,451.8 388.7,453.3 386.9,454.2 385.0,454.5 383.1,454.2 381.3,453.3 379.9,451.9 379.0,450.1ZM381.5,446.7 381.9,444.7 382.7,443.0 384.1,441.6 385.9,440.7 388.3,440.0 390.2,439.7 392.2,440.0 393.9,440.9 395.3,442.3 396.2,444.0 396.5,446.0 396.2,447.9 395.3,449.7 393.9,451.1 392.2,452.0 389.8,452.7 387.8,453.0 385.9,452.7 384.1,451.8 382.7,450.4 381.9,448.6ZM383.9,446.0 384.2,444.0 385.1,442.3 386.5,440.9 388.5,439.2 390.3,438.3 392.2,438.0 394.2,438.3 395.9,439.2 397.3,440.6 398.2,442.4 398.5,444.3 398.2,446.2 397.3,448.0 395.9,449.4 393.9,451.1 392.2,452.0 390.2,452.3 388.3,452.0 386.5,451.1 385.1,449.7 384.2,447.9ZM385.9,444.3 386.2,442.4 387.1,440.6 388.5,439.2 390.3,438.3 392.1,437.7 394.0,437.4 396.0,437.7 397.7,438.6 399.1,440.0 400.0,441.7 400.3,443.7 400.0,445.6 399.1,447.4 397.7,448.8 396.0,449.6 394.2,450.3 392.2,450.6 390.3,450.3 388.5,449.4 387.1,448.0 386.2,446.2ZM387.7,443.7 388.0,441.7 388.9,440.0 390.6,438.0 392.0,436.6 393.8,435.7 395.7,435.4 397.7,435.7 399.4,436.6 400.8,438.0 401.7,439.7 402.0,441.7 401.7,443.6 400.8,445.4 399.1,447.4 397.7,448.8 396.0,449.6 394.0,450.0 392.1,449.6 390.3,448.8 388.9,447.4 388.0,445.6ZM389.4,441.7 389.7,439.7 390.6,438.0 392.0,436.6 393.8,435.7 395.7,435.4 397.7,435.7 399.4,436.1 401.2,437.0 402.6,438.4 403.5,440.2 403.8,442.1 403.5,444.0 402.6,445.8 401.2,447.2 399.4,448.1 397.5,448.4 395.6,448.1 393.8,447.7 392.0,446.8 390.6,445.4 389.7,443.6ZM391.2,442.1 391.5,440.2 392.4,438.4 393.8,437.0 395.7,435.9 397.4,435.0 399.4,434.7 401.3,435.0 403.1,435.9 404.5,437.3 405.4,439.1 405.7,441.0 405.4,443.0 404.5,444.7 403.1,446.1 401.2,447.2 399.4,448.1 397.5,448.4 395.6,448.1 393.8,447.2 392.4,445.8 391.5,444.0ZM393.1,441.0 393.4,439.1 394.3,437.3 395.7,435.9 397.4,435.0 399.4,434.7 401.3,435.0 402.8,435.3 404.6,436.2 406.0,437.6 406.9,439.4 407.2,441.3 406.9,443.2 406.0,445.0 404.6,446.4 402.8,447.3 400.9,447.6 398.9,447.3 397.4,447.0 395.7,446.1 394.3,444.7 393.4,443.0ZM394.6,441.3 394.9,439.4 395.8,437.6 397.3,435.6 398.7,434.2 400.4,433.3 402.4,433.0 404.3,433.3 406.1,434.2 407.5,435.6 408.4,437.3 408.7,439.3 408.4,441.2 407.5,443.0 406.0,445.0 404.6,446.4 402.8,447.3 400.9,447.6 398.9,447.3 397.2,446.4 395.8,445.0 394.9,443.2ZM396.1,439.3 396.4,437.3 397.3,435.6 398.7,434.2 400.4,433.3 402.3,432.6 404.3,432.3 406.2,432.6 408.0,433.5 409.4,434.9 410.3,436.6 410.6,438.6 410.3,440.5 409.4,442.3 408.0,443.7 406.2,444.6 404.3,445.2 402.4,445.6 400.4,445.2 398.7,444.4 397.3,443.0 396.4,441.2ZM398.0,438.6 398.3,436.6 399.2,434.9 400.6,433.5 402.3,432.6 405.1,431.8 407.0,431.5 408.9,431.8 410.7,432.7 412.1,434.1 413.0,435.8 413.3,437.8 413.0,439.7 412.1,441.5 410.7,442.9 408.9,443.8 406.2,444.6 404.3,444.9 402.3,444.6 400.6,443.7 399.2,442.3 398.3,440.5ZM400.7,437.8 401.0,435.8 401.9,434.1 403.1,432.5 404.5,431.1 406.3,430.2 408.2,429.9 410.2,430.2 411.9,431.1 413.3,432.5 414.2,434.2 414.5,436.2 414.2,438.1 413.3,439.9 412.1,441.5 410.7,442.9 408.9,443.8 407.0,444.1 405.1,443.8 403.3,442.9 401.9,441.5 401.0,439.7ZM401.9,436.2 402.2,434.2 403.1,432.5 404.5,431.1 405.9,430.3 407.6,429.4 409.6,429.1 411.5,429.4 413.3,430.3 414.7,431.6 415.6,433.4 415.9,435.4 415.6,437.3 414.7,439.1 413.3,440.4 411.9,441.3 410.2,442.2 408.2,442.5 406.3,442.2 404.5,441.3 403.1,439.9 402.2,438.1ZM403.3,435.4 403.6,433.4 404.5,431.6 405.9,430.3 407.3,429.4 409.1,428.5 411.0,428.2 412.9,428.5 414.7,429.4 416.1,430.8 417.0,432.5 417.3,434.5 417.0,436.4 416.1,438.2 414.7,439.6 413.3,440.4 411.5,441.3 409.6,441.7 407.6,441.3 405.9,440.4 404.5,439.1 403.6,437.3ZM404.7,434.5 405.0,432.5 405.9,430.8 407.4,429.0 408.8,427.6 410.6,426.7 412.5,426.4 414.5,426.7 416.2,427.6 417.6,429.0 418.5,430.7 418.8,432.7 418.5,434.6 417.6,436.4 416.1,438.2 414.7,439.6 412.9,440.5 411.0,440.8 409.1,440.5 407.3,439.6 405.9,438.2 405.0,436.4ZM406.2,432.7 406.5,430.7 407.4,429.0 408.8,427.6 410.4,426.6 412.2,425.7 414.1,425.4 416.1,425.7 417.8,426.6 419.2,428.0 420.1,429.7 420.4,431.7 420.1,433.6 419.2,435.4 417.8,436.8 416.2,437.8 414.5,438.7 412.5,439.0 410.6,438.7 408.8,437.8 407.4,436.4 406.5,434.6ZM407.8,431.7 408.1,429.7 409.0,428.0 410.4,426.6 412.1,425.1 413.9,424.2 415.8,423.9 417.8,424.2 419.5,425.1 420.9,426.5 421.8,428.3 422.1,430.2 421.8,432.2 420.9,433.9 419.5,435.3 417.8,436.8 416.1,437.7 414.1,438.0 412.2,437.7 410.4,436.8 409.0,435.4 408.1,433.6ZM409.5,430.2 409.8,428.3 410.7,426.5 412.1,425.1 413.9,424.2 415.6,423.5 417.5,423.2 419.5,423.5 421.2,424.4 422.6,425.8 423.5,427.6 423.8,429.5 423.5,431.5 422.6,433.2 421.2,434.6 419.5,435.5 417.8,436.2 415.8,436.5 413.9,436.2 412.1,435.3 410.7,433.9 409.8,432.2ZM411.2,429.5 411.5,427.6 412.4,425.8 413.8,424.4 415.6,422.9 417.3,422.0 419.3,421.7 421.2,422.0 423.0,422.9 424.4,424.3 425.3,426.0 425.6,428.0 425.3,429.9 424.4,431.7 423.0,433.1 421.2,434.6 419.5,435.5 417.5,435.8 415.6,435.5 413.8,434.6 412.4,433.2 411.5,431.5ZM413.0,428.0 413.3,426.0 414.2,424.3 415.6,422.9 417.4,421.1 419.1,420.2 421.1,419.9 423.0,420.2 424.8,421.1 426.2,422.5 427.1,424.2 427.4,426.2 427.1,428.1 426.2,429.9 424.8,431.3 423.0,433.1 421.2,434.0 419.3,434.3 417.3,434.0 415.6,433.1 414.2,431.7 413.3,429.9ZM414.8,426.2 415.1,424.2 416.0,422.5 417.4,421.1 419.1,420.2 420.9,419.3 422.9,419.0 424.8,419.3 426.6,420.2 428.0,421.6 428.9,423.4 429.2,425.3 428.9,427.3 428.0,429.0 426.6,430.4 424.8,431.3 423.0,432.2 421.1,432.5 419.1,432.2 417.4,431.3 416.0,429.9 415.1,428.1ZM416.6,425.3 416.9,423.4 417.8,421.6 419.2,420.2 421.0,418.7 422.7,417.8 424.7,417.5 426.6,417.8 428.4,418.7 429.8,420.1 430.7,421.8 431.0,423.8 430.7,425.7 429.8,427.5 428.4,428.9 426.6,430.4 424.8,431.3 422.9,431.6 420.9,431.3 419.2,430.4 417.8,429.0 416.9,427.3ZM418.4,423.8 418.7,421.8 419.6,420.1 421.0,418.7 422.7,417.8 424.5,417.5 426.5,417.2 428.4,417.5 430.2,418.4 431.6,419.8 432.5,421.5 432.8,423.5 432.5,425.4 431.6,427.2 430.2,428.6 428.4,429.5 426.6,429.8 424.7,430.1 422.7,429.8 421.0,428.9 419.6,427.5 418.7,425.7ZM420.2,423.5 420.5,421.5 421.4,419.8 423.2,417.1 424.6,415.8 426.3,414.9 428.3,414.6 430.2,414.9 432.0,415.8 433.4,417.1 434.3,418.9 434.6,420.9 434.3,422.8 433.4,424.6 431.6,427.2 430.2,428.6 428.4,429.5 426.5,429.8 424.5,429.5 422.8,428.6 421.4,427.2 420.5,425.4ZM422.0,420.9 422.3,418.9 423.2,417.1 424.6,415.8 426.3,414.7 428.1,413.8 430.0,413.5 431.9,413.8 433.7,414.7 435.1,416.1 436.0,417.9 436.3,419.8 436.0,421.8 435.1,423.5 433.7,424.9 432.0,425.9 430.2,426.8 428.3,427.1 426.3,426.8 424.6,425.9 423.2,424.6 422.3,422.8ZM423.7,419.8 424.0,417.9 424.9,416.1 426.5,413.9 427.9,412.5 429.7,411.6 431.6,411.3 433.6,411.6 435.3,412.5 436.7,413.9 437.6,415.6 437.9,417.6 437.6,419.5 436.7,421.3 435.1,423.5 433.7,424.9 431.9,425.8 430.0,426.1 428.1,425.8 426.3,424.9 424.9,423.5 424.0,421.8ZM425.3,417.6 425.6,415.6 426.5,413.9 427.9,412.5 429.7,411.6 431.6,411.3 433.2,411.5 435.2,411.8 436.9,412.7 438.3,414.1 439.2,415.8 439.5,417.8 439.2,419.7 438.3,421.5 436.9,422.9 435.2,423.8 433.2,424.1 431.6,423.9 429.7,423.6 427.9,422.7 426.5,421.3 425.6,419.5ZM426.9,417.8 427.2,415.8 428.1,414.1 429.5,412.7 431.2,411.2 432.9,410.3 434.9,410.0 436.8,410.3 438.6,411.2 440.0,412.6 440.9,414.3 441.2,416.3 440.9,418.2 440.0,420.0 438.6,421.4 436.9,422.9 435.2,423.8 433.2,424.1 431.3,423.8 429.5,422.9 428.1,421.5 427.2,419.7ZM428.6,416.3 428.9,414.3 429.8,412.6 431.2,411.2 432.9,410.3 434.6,409.9 436.5,409.6 438.5,409.9 440.2,410.8 441.6,412.2 442.5,414.0 442.8,415.9 442.5,417.9 441.6,419.6 440.2,421.0 438.5,421.9 436.8,422.3 434.9,422.6 432.9,422.3 431.2,421.4 429.8,420.0 428.9,418.2ZM430.2,415.9 430.5,414.0 431.4,412.2 433.1,409.6 434.5,408.2 436.2,407.3 438.2,407.0 440.1,407.3 441.9,408.2 443.3,409.6 444.2,411.4 444.5,413.3 444.2,415.3 443.3,417.0 441.6,419.6 440.2,421.0 438.5,421.9 436.5,422.2 434.6,421.9 432.8,421.0 431.4,419.6 430.5,417.9ZM431.9,413.3 432.2,411.4 433.1,409.6 434.5,408.2 436.2,407.3 437.9,406.5 439.9,406.2 441.8,406.5 443.6,407.4 445.0,408.8 445.8,410.5 446.2,412.5 445.8,414.4 445.0,416.2 443.6,417.6 441.8,418.5 440.1,419.3 438.2,419.6 436.2,419.3 434.5,418.4 433.1,417.0 432.2,415.3ZM433.6,412.5 433.9,410.5 434.8,408.8 436.4,406.9 437.8,405.5 439.6,404.6 441.5,404.3 443.5,404.6 445.2,405.5 446.6,406.9 447.5,408.6 447.8,410.6 447.5,412.5 446.6,414.3 445.0,416.2 443.6,417.6 441.8,418.5 439.9,418.8 437.9,418.5 436.2,417.6 434.8,416.2 433.9,414.4ZM435.2,410.6 435.5,408.6 436.4,406.9 437.8,405.5 439.6,404.6 441.5,404.3 443.2,404.3 445.2,404.6 446.9,405.5 448.3,406.9 449.2,408.7 449.5,410.6 449.2,412.6 448.3,414.3 446.9,415.7 445.2,416.6 443.2,416.9 441.5,416.9 439.6,416.6 437.8,415.7 436.4,414.3 435.5,412.5ZM436.9,410.6 437.2,408.7 438.1,406.9 439.5,405.5 441.2,403.8 443.0,402.9 444.9,402.6 446.9,402.9 448.6,403.8 450.0,405.2 450.9,407.0 451.2,408.9 450.9,410.9 450.0,412.6 448.6,414.0 446.9,415.7 445.2,416.6 443.2,416.9 441.3,416.6 439.5,415.7 438.1,414.3 437.2,412.6ZM438.6,408.9 438.9,407.0 439.8,405.2 441.2,403.8 443.0,402.9 444.6,402.1 446.6,401.8 448.5,402.1 450.3,403.0 451.7,404.4 452.6,406.2 452.9,408.1 452.6,410.1 451.7,411.8 450.3,413.2 448.5,414.1 446.9,414.9 444.9,415.2 443.0,414.9 441.2,414.0 439.8,412.6 438.9,410.9ZM440.3,408.1 440.6,406.2 441.5,404.4 443.2,402.3 444.6,400.9 446.3,400.0 448.3,399.7 450.2,400.0 452.0,400.9 453.4,402.3 454.3,404.1 454.6,406.0 454.3,408.0 453.4,409.7 451.7,411.8 450.3,413.2 448.5,414.1 446.6,414.4 444.6,414.1 442.9,413.2 441.5,411.8 440.6,410.1ZM442.0,406.0 442.3,404.1 443.2,402.3 444.6,400.9 446.3,400.0 448.0,399.2 450.0,398.9 451.9,399.2 453.7,400.1 455.1,401.5 456.0,403.3 456.3,405.2 456.0,407.2 455.1,408.9 453.7,410.3 451.9,411.2 450.2,412.0 448.3,412.3 446.3,412.0 444.6,411.1 443.2,409.7 442.3,408.0ZM443.7,405.2 444.0,403.3 444.9,401.5 446.3,400.1 447.9,398.7 449.7,397.8 451.7,397.5 453.6,397.8 455.4,398.7 456.7,400.1 457.6,401.9 458.0,403.8 457.6,405.8 456.7,407.5 455.4,408.9 453.7,410.3 451.9,411.2 450.0,411.5 448.0,411.2 446.3,410.3 444.9,408.9 444.0,407.2ZM445.4,403.8 445.7,401.9 446.6,400.1 447.9,398.7 449.6,397.9 451.4,397.0 453.3,396.7 455.3,397.0 457.0,397.9 458.4,399.3 459.3,401.0 459.6,403.0 459.3,404.9 458.4,406.7 457.0,408.1 455.4,408.9 453.6,409.8 451.7,410.1 449.7,409.8 447.9,408.9 446.6,407.5 445.7,405.8ZM447.0,403.0 447.3,401.0 448.2,399.3 449.6,397.9 451.3,396.3 453.1,395.4 455.0,395.1 456.9,395.4 458.7,396.3 460.1,397.7 461.0,399.4 461.3,401.4 461.0,403.3 460.1,405.1 458.7,406.5 457.0,408.1 455.3,409.0 453.3,409.3 451.4,409.0 449.6,408.1 448.2,406.7 447.3,404.9ZM448.7,401.4 449.0,399.4 449.9,397.7 451.3,396.3 453.0,395.1 454.7,394.2 456.7,393.9 458.6,394.2 460.4,395.1 461.8,396.5 462.7,398.2 463.0,400.2 462.7,402.1 461.8,403.9 460.4,405.3 458.7,406.5 456.9,407.4 455.0,407.7 453.1,407.4 451.3,406.5 449.9,405.1 449.0,403.3ZM450.4,400.2 450.7,398.2 451.6,396.5 453.0,395.1 454.6,393.9 456.4,393.0 458.3,392.7 460.3,393.0 462.0,393.9 463.4,395.3 464.3,397.0 464.6,399.0 464.3,400.9 463.4,402.7 462.0,404.1 460.4,405.3 458.6,406.1 456.7,406.5 454.7,406.1 453.0,405.3 451.6,403.9 450.7,402.1ZM452.0,399.0 452.3,397.0 453.2,395.3 454.6,393.9 456.3,392.9 458.1,392.0 460.0,391.7 461.9,392.0 463.7,392.9 465.1,394.3 466.0,396.1 466.3,398.0 466.0,400.0 465.1,401.7 463.7,403.1 462.0,404.1 460.3,405.0 458.3,405.3 456.4,405.0 454.6,404.1 453.2,402.7 452.3,400.9ZM453.7,398.0 454.0,396.1 454.9,394.3 456.3,392.9 458.0,391.8 459.7,390.9 461.7,390.6 463.6,390.9 465.4,391.8 466.8,393.2 467.7,394.9 468.0,396.9 467.7,398.8 466.8,400.6 465.4,402.0 463.7,403.1 461.9,404.0 460.0,404.3 458.1,404.0 456.3,403.1 454.9,401.7 454.0,400.0ZM455.4,396.9 455.7,394.9 456.6,393.2 458.2,391.5 459.6,390.1 461.4,389.2 463.3,388.9 465.3,389.2 467.0,390.1 468.4,391.5 469.3,393.2 469.6,395.2 469.3,397.1 468.4,398.9 466.8,400.6 465.4,402.0 463.6,402.9 461.7,403.2 459.7,402.9 458.0,402.0 456.6,400.6 455.7,398.8ZM457.0,395.2 457.3,393.2 458.2,391.5 459.6,390.1 461.3,388.7 463.1,387.8 465.0,387.5 466.9,387.8 468.7,388.7 470.1,390.1 471.0,391.9 471.3,393.8 471.0,395.8 470.1,397.5 468.7,398.9 467.0,400.3 465.3,401.2 463.3,401.5 461.4,401.2 459.6,400.3 458.2,398.9 457.3,397.1ZM458.7,393.8 459.0,391.9 459.9,390.1 461.3,388.7 463.0,387.3 464.7,386.4 466.7,386.1 468.6,386.4 470.4,387.3 471.8,388.7 472.7,390.5 473.0,392.4 472.7,394.4 471.8,396.1 470.4,397.5 468.7,398.9 466.9,399.8 465.0,400.1 463.1,399.8 461.3,398.9 459.9,397.5 459.0,395.8ZM460.4,392.4 460.7,390.5 461.6,388.7 463.0,387.3 464.7,386.4 466.4,386.0 468.3,385.7 470.3,386.0 472.0,386.9 473.4,388.3 474.3,390.1 474.6,392.0 474.3,394.0 473.4,395.7 472.0,397.1 470.3,398.0 468.6,398.4 466.7,398.7 464.7,398.4 463.0,397.5 461.6,396.1 460.7,394.4ZM462.0,392.0 462.3,390.1 463.2,388.3 464.6,386.9 466.3,385.6 468.1,384.7 470.0,384.4 471.9,384.7 473.7,385.6 475.1,387.0 476.0,388.7 476.3,390.7 476.0,392.6 475.1,394.4 473.7,395.8 472.0,397.1 470.3,398.0 468.3,398.3 466.4,398.0 464.6,397.1 463.2,395.7 462.3,394.0ZM463.7,390.7 464.0,388.7 464.9,387.0 466.3,385.6 468.0,384.5 469.7,383.6 471.7,383.3 473.6,383.6 475.4,384.5 476.8,385.9 477.7,387.7 478.0,389.6 477.7,391.6 476.8,393.3 475.4,394.7 473.7,395.8 471.9,396.7 470.0,397.0 468.1,396.7 466.3,395.8 464.9,394.4 464.0,392.6ZM465.4,389.6 465.7,387.7 466.6,385.9 468.2,383.6 469.6,382.2 471.4,381.3 473.3,381.0 475.3,381.3 477.0,382.2 478.4,383.6 479.3,385.3 479.6,387.3 479.3,389.2 478.4,391.0 476.8,393.3 475.4,394.7 473.6,395.6 471.7,395.9 469.7,395.6 468.0,394.7 466.6,393.3 465.7,391.6ZM467.0,387.3 467.3,385.3 468.2,383.6 469.6,382.2 471.3,381.3 473.1,380.4 475.0,380.1 476.9,380.4 478.7,381.3 480.1,382.7 481.0,384.4 481.3,386.4 481.0,388.3 480.1,390.1 478.7,391.5 477.0,392.4 475.3,393.3 473.3,393.6 471.4,393.3 469.6,392.4 468.2,391.0 467.3,389.2ZM468.7,386.4 469.0,384.4 469.9,382.7 471.3,381.3 473.0,379.9 474.7,379.0 476.7,378.7 478.6,379.0 480.4,379.9 481.8,381.3 482.7,383.0 483.0,385.0 482.7,386.9 481.8,388.7 480.4,390.1 478.7,391.5 476.9,392.4 475.0,392.7 473.1,392.4 471.3,391.5 469.9,390.1 469.0,388.3ZM470.4,385.0 470.7,383.0 471.6,381.3 473.0,379.9 474.7,379.0 476.7,378.7 478.3,378.7 480.3,379.0 482.0,379.9 483.4,381.3 484.3,383.1 484.6,385.0 484.3,387.0 483.4,388.7 482.0,390.1 480.3,391.0 478.3,391.3 476.7,391.3 474.7,391.0 473.0,390.1 471.6,388.7 470.7,386.9ZM472.0,385.0 472.3,383.1 473.2,381.3 474.9,379.5 476.3,378.1 478.1,377.2 480.0,376.9 481.9,377.2 483.7,378.1 485.1,379.5 486.0,381.3 486.3,383.2 486.0,385.2 485.1,386.9 483.4,388.7 482.0,390.1 480.3,391.0 478.3,391.3 476.4,391.0 474.6,390.1 473.2,388.7 472.3,387.0ZM473.7,383.2 474.0,381.3 474.9,379.5 476.3,378.1 478.0,377.1 479.7,376.2 481.7,375.9 483.6,376.2 485.4,377.1 486.8,378.5 487.7,380.3 488.0,382.2 487.7,384.2 486.8,385.9 485.4,387.3 483.7,388.3 481.9,389.2 480.0,389.5 478.1,389.2 476.3,388.3 474.9,386.9 474.0,385.2ZM475.4,382.2 475.7,380.3 476.6,378.5 478.3,375.9 479.7,374.5 481.5,373.6 483.4,373.3 485.4,373.6 487.1,374.5 488.5,375.9 489.4,377.6 489.7,379.6 489.4,381.5 488.5,383.3 486.8,385.9 485.4,387.3 483.6,388.2 481.7,388.5 479.7,388.2 478.0,387.3 476.6,385.9 475.7,384.2ZM477.1,379.6 477.4,377.6 478.3,375.9 479.7,374.5 481.5,373.6 483.3,373.2 485.2,372.9 487.2,373.2 488.9,374.1 490.3,375.5 491.2,377.2 491.5,379.2 491.2,381.1 490.3,382.9 488.9,384.3 487.2,385.2 485.4,385.6 483.4,385.9 481.5,385.6 479.7,384.7 478.3,383.3 477.4,381.5ZM478.9,379.2 479.2,377.2 480.1,375.5 481.5,374.1 483.3,372.4 485.1,371.5 487.0,371.1 489.0,371.5 490.7,372.4 492.1,373.7 493.0,375.5 493.3,377.4 493.0,379.4 492.1,381.2 490.7,382.5 488.9,384.3 487.2,385.2 485.2,385.5 483.3,385.2 481.5,384.3 480.1,382.9 479.2,381.1ZM480.7,377.4 481.0,375.5 481.9,373.7 483.3,372.4 485.1,371.5 486.9,371.2 488.8,370.8 490.8,371.2 492.5,372.0 493.9,373.4 494.8,375.2 495.1,377.1 494.8,379.1 493.9,380.8 492.5,382.2 490.8,383.1 489.0,383.4 487.0,383.7 485.1,383.4 483.3,382.5 481.9,381.2 481.0,379.4ZM482.5,377.1 482.8,375.2 483.7,373.4 485.5,371.3 486.9,369.9 488.7,369.0 490.6,368.7 492.6,369.0 494.3,369.9 495.7,371.3 496.6,373.1 496.9,375.0 496.6,377.0 495.7,378.7 493.9,380.8 492.5,382.2 490.8,383.1 488.8,383.4 486.9,383.1 485.1,382.2 483.7,380.8 482.8,379.1ZM484.3,375.0 484.6,373.1 485.5,371.3 486.9,369.9 488.7,368.8 490.5,367.9 492.4,367.6 494.4,367.9 496.1,368.8 497.5,370.2 498.4,371.9 498.7,373.9 498.4,375.8 497.5,377.6 496.1,379.0 494.3,380.1 492.6,381.0 490.6,381.3 488.7,381.0 486.9,380.1 485.5,378.7 484.6,377.0ZM486.1,373.9 486.4,371.9 487.3,370.2 488.7,368.8 490.5,367.7 492.2,366.8 494.2,366.5 496.1,366.8 497.9,367.7 499.3,369.1 500.2,370.8 500.5,372.8 500.2,374.7 499.3,376.5 497.9,377.9 496.1,379.0 494.4,379.8 492.4,380.2 490.5,379.8 488.7,379.0 487.3,377.6 486.4,375.8ZM487.9,372.8 488.2,370.8 489.1,369.1 490.5,367.7 492.2,366.8 494.0,365.9 495.9,365.6 497.9,365.9 499.6,366.8 501.0,368.2 501.9,369.9 502.2,371.9 501.9,373.8 501.0,375.6 499.6,377.0 497.9,377.9 496.1,378.8 494.2,379.1 492.2,378.8 490.5,377.9 489.1,376.5 488.2,374.7ZM489.6,371.9 489.9,369.9 490.8,368.2 492.2,366.8 493.9,365.8 495.7,364.9 497.6,364.6 499.6,364.9 501.3,365.8 502.7,367.2 503.6,369.0 503.9,370.9 503.6,372.9 502.7,374.6 501.3,376.0 499.6,377.0 497.9,377.8 495.9,378.2 494.0,377.8 492.2,377.0 490.8,375.6 489.9,373.8ZM491.3,370.9 491.6,369.0 492.5,367.2 494.2,365.1 495.6,363.7 497.3,362.8 499.3,362.5 501.2,362.8 503.0,363.7 504.4,365.1 505.3,366.9 505.6,368.8 505.3,370.8 504.4,372.5 502.7,374.6 501.3,376.0 499.6,376.9 497.6,377.2 495.7,376.9 493.9,376.0 492.5,374.6 491.6,372.9ZM493.0,368.8 493.3,366.9 494.2,365.1 495.6,363.7 497.1,362.5 498.9,361.6 500.8,361.3 502.8,361.6 504.5,362.5 505.9,363.9 506.8,365.6 507.1,367.6 506.8,369.5 505.9,371.3 504.5,372.7 503.0,373.9 501.2,374.8 499.3,375.1 497.3,374.8 495.6,373.9 494.2,372.5 493.3,370.8ZM494.5,367.6 494.8,365.6 495.7,363.9 497.1,362.5 498.6,361.6 500.4,360.7 502.3,360.4 504.3,360.7 506.0,361.6 507.4,363.0 508.3,364.7 508.6,366.7 508.3,368.6 507.4,370.4 506.0,371.8 504.5,372.7 502.8,373.6 500.8,373.9 498.9,373.6 497.1,372.7 495.7,371.3 494.8,369.5ZM496.0,366.7 496.3,364.7 497.2,363.0 498.6,361.6 500.0,360.8 501.8,359.9 503.7,359.6 505.7,359.9 507.4,360.8 508.8,362.2 509.7,363.9 510.0,365.9 509.7,367.8 508.8,369.6 507.4,371.0 506.0,371.8 504.3,372.7 502.3,373.0 500.4,372.7 498.6,371.8 497.2,370.4 496.3,368.6ZM497.4,365.9 497.7,363.9 498.6,362.2 500.0,360.8 501.8,359.9 503.1,359.4 505.0,359.1 506.9,359.4 508.7,360.3 510.1,361.7 511.0,363.5 511.3,365.4 511.0,367.4 510.1,369.1 508.7,370.5 506.9,371.4 505.7,371.9 503.7,372.2 501.8,371.9 500.0,371.0 498.6,369.6 497.7,367.8ZM498.7,365.4 499.0,363.5 499.9,361.7 501.3,360.3 503.7,358.6 505.4,357.7 507.4,357.4 509.3,357.7 511.1,358.6 512.5,360.0 513.4,361.7 513.7,363.7 513.4,365.6 512.5,367.4 511.1,368.8 508.7,370.5 506.9,371.4 505.0,371.7 503.1,371.4 501.3,370.5 499.9,369.1 499.0,367.4ZM501.1,363.7 501.4,361.7 502.3,360.0 504.2,357.5 505.6,356.1 507.4,355.2 509.3,354.9 511.3,355.2 513.0,356.1 514.4,357.5 515.3,359.3 515.6,361.2 515.3,363.1 514.4,364.9 512.5,367.4 511.1,368.8 509.3,369.6 507.4,370.0 505.4,369.6 503.7,368.8 502.3,367.4 501.4,365.6ZM503.0,361.2 503.4,359.3 504.2,357.5 505.6,356.1 507.4,355.2 509.1,354.5 511.0,354.2 512.9,354.5 514.7,355.4 516.1,356.8 517.0,358.5 517.3,360.5 517.0,362.4 516.1,364.2 514.7,365.6 512.9,366.5 511.3,367.2 509.3,367.5 507.4,367.2 505.6,366.3 504.2,364.9 503.4,363.1ZM504.7,360.5 505.0,358.5 505.9,356.8 507.3,355.4 508.8,354.1 510.5,353.2 512.5,352.9 514.4,353.2 516.2,354.1 517.6,355.5 518.5,357.2 518.8,359.2 518.5,361.1 517.6,362.9 516.2,364.3 514.7,365.6 512.9,366.5 511.0,366.8 509.1,366.5 507.3,365.6 505.9,364.2 505.0,362.4ZM506.2,359.2 506.5,357.2 507.4,355.5 508.8,354.1 510.5,353.2 512.5,352.9 513.9,353.0 515.8,353.3 517.6,354.2 519.0,355.6 519.9,357.4 520.2,359.3 519.9,361.3 519.0,363.0 517.6,364.4 515.8,365.3 513.9,365.6 512.5,365.5 510.5,365.2 508.8,364.3 507.4,362.9 506.5,361.1ZM507.6,359.3 507.9,357.4 508.8,355.6 510.2,354.2 511.6,352.9 513.4,352.0 515.3,351.7 517.3,352.0 519.0,352.9 520.4,354.3 521.3,356.0 521.6,358.0 521.3,359.9 520.4,361.7 519.0,363.1 517.6,364.4 515.8,365.3 513.9,365.6 511.9,365.3 510.2,364.4 508.8,363.0 507.9,361.3ZM509.0,358.0 509.4,356.0 510.2,354.3 511.6,352.9 513.3,351.3 515.1,350.4 517.0,350.1 518.9,350.4 520.7,351.3 522.1,352.6 523.0,354.4 523.3,356.4 523.0,358.3 522.1,360.1 520.7,361.4 519.0,363.1 517.3,364.0 515.3,364.3 513.4,364.0 511.6,363.1 510.2,361.7 509.4,359.9ZM510.7,356.4 511.0,354.4 511.9,352.6 513.7,350.7 515.1,349.3 516.9,348.4 518.8,348.1 520.8,348.4 522.5,349.3 523.9,350.7 524.8,352.5 525.1,354.4 524.8,356.4 523.9,358.1 522.1,360.1 520.7,361.4 518.9,362.3 517.0,362.6 515.1,362.3 513.3,361.4 511.9,360.1 511.0,358.3ZM512.5,354.4 512.8,352.5 513.7,350.7 515.1,349.3 516.9,348.4 518.8,347.8 520.7,347.5 522.7,347.8 524.4,348.7 525.8,350.1 526.7,351.9 527.0,353.8 526.7,355.8 525.8,357.5 524.4,358.9 522.7,359.8 520.8,360.4 518.8,360.7 516.9,360.4 515.1,359.5 513.7,358.1 512.8,356.4ZM514.4,353.8 514.7,351.9 515.6,350.1 517.0,348.7 519.0,347.1 520.7,346.2 522.7,345.9 524.6,346.2 526.4,347.1 527.8,348.5 528.7,350.2 529.0,352.2 528.7,354.1 527.8,355.9 526.4,357.3 524.4,358.9 522.7,359.8 520.7,360.1 518.8,359.8 517.0,358.9 515.6,357.5 514.7,355.8ZM516.4,352.2 516.7,350.2 517.6,348.5 519.0,347.1 520.7,346.2 522.6,345.8 524.6,345.5 526.5,345.8 528.3,346.7 529.7,348.1 530.6,349.8 530.9,351.8 530.6,353.7 529.7,355.5 528.3,356.9 526.5,357.7 524.6,358.2 522.7,358.5 520.7,358.2 519.0,357.3 517.6,355.9 516.7,354.1ZM518.3,351.8 518.6,349.8 519.5,348.1 521.4,345.8 522.8,344.5 524.5,343.6 526.5,343.3 528.4,343.6 530.2,344.5 531.6,345.8 532.5,347.6 532.8,349.6 532.5,351.5 531.6,353.3 529.7,355.5 528.3,356.9 526.5,357.7 524.6,358.1 522.6,357.7 520.9,356.9 519.5,355.5 518.6,353.7ZM520.2,349.6 520.5,347.6 521.4,345.8 522.8,344.5 524.6,343.5 526.3,342.6 528.3,342.3 530.2,342.6 532.0,343.5 533.4,344.9 534.3,346.6 534.6,348.6 534.3,350.5 533.4,352.3 532.0,353.7 530.2,354.6 528.4,355.5 526.5,355.9 524.5,355.5 522.8,354.6 521.4,353.3 520.5,351.5ZM522.0,348.6 522.3,346.6 523.2,344.9 524.6,343.5 526.3,342.6 528.1,342.1 530.0,341.8 531.9,342.1 533.7,343.0 535.1,344.4 536.0,346.1 536.3,348.1 536.0,350.0 535.1,351.8 533.7,353.2 531.9,354.1 530.2,354.6 528.3,354.9 526.3,354.6 524.6,353.7 523.2,352.3 522.3,350.5ZM523.7,348.1 524.0,346.1 524.9,344.4 526.3,343.0 528.5,341.9 530.2,341.0 532.2,340.7 534.1,341.0 535.9,341.9 537.3,343.2 538.2,345.0 538.5,347.0 538.2,348.9 537.3,350.7 535.9,352.0 533.7,353.2 531.9,354.1 530.0,354.4 528.1,354.1 526.3,353.2 524.9,351.8 524.0,350.0ZM525.9,347.0 526.2,345.0 527.1,343.2 528.5,341.9 530.2,341.0 532.2,340.7 534.2,340.6 536.2,340.9 537.9,341.8 539.3,343.2 540.2,344.9 540.5,346.9 540.2,348.8 539.3,350.6 537.9,352.0 536.2,352.9 534.2,353.2 532.2,353.3 530.2,352.9 528.5,352.0 527.1,350.7 526.2,348.9ZM527.9,346.9 528.2,344.9 529.1,343.2 530.5,341.8 532.4,340.1 534.2,339.2 536.1,338.9 538.1,339.2 539.8,340.1 541.2,341.5 542.1,343.2 542.4,345.2 542.1,347.1 541.2,348.9 539.8,350.3 537.9,352.0 536.2,352.9 534.2,353.2 532.3,352.9 530.5,352.0 529.1,350.6 528.2,348.8ZM529.8,345.2 530.2,343.2 531.0,341.5 532.4,340.1 534.2,339.2 536.1,338.9 538.0,338.8 540.0,339.1 541.8,340.0 543.1,341.4 544.0,343.1 544.3,345.1 544.0,347.0 543.1,348.8 541.8,350.2 540.0,351.1 538.0,351.4 536.1,351.5 534.2,351.2 532.4,350.3 531.0,348.9 530.2,347.1ZM531.7,345.1 532.1,343.1 533.0,341.4 534.3,340.0 536.1,339.1 538.0,338.8 540.0,338.7 541.9,339.0 543.7,339.9 545.1,341.3 546.0,343.0 546.3,345.0 546.0,346.9 545.1,348.7 543.7,350.1 541.9,351.0 540.0,351.3 538.0,351.4 536.1,351.1 534.3,350.2 533.0,348.8 532.1,347.0ZM533.7,345.0 534.0,343.0 534.9,341.3 536.3,339.9 538.3,338.6 540.0,337.7 542.0,337.4 543.9,337.7 545.7,338.6 547.1,340.0 548.0,341.7 548.3,343.7 548.0,345.6 547.1,347.4 545.7,348.8 543.7,350.1 541.9,351.0 540.0,351.3 538.1,351.0 536.3,350.1 534.9,348.7 534.0,346.9ZM535.7,343.7 536.0,341.7 536.9,340.0 538.3,338.6 540.0,337.7 541.9,337.2 543.9,336.9 545.8,337.2 547.6,338.1 549.0,339.5 549.9,341.2 550.2,343.2 549.9,345.1 549.0,346.9 547.6,348.3 545.8,349.2 543.9,349.6 542.0,350.0 540.0,349.6 538.3,348.8 536.9,347.4 536.0,345.6ZM537.6,343.2 537.9,341.2 538.8,339.5 540.7,337.4 542.1,336.0 543.9,335.1 545.8,334.8 547.8,335.1 549.5,336.0 550.9,337.4 551.8,339.1 552.1,341.1 551.8,343.0 550.9,344.8 549.0,346.9 547.6,348.3 545.8,349.2 543.9,349.5 541.9,349.2 540.2,348.3 538.8,346.9 537.9,345.1ZM539.5,341.1 539.8,339.1 540.7,337.4 542.1,336.0 543.9,335.1 545.9,334.7 547.8,334.4 549.8,334.7 551.5,335.6 552.9,337.0 553.8,338.7 554.1,340.7 553.8,342.6 552.9,344.4 551.5,345.8 549.8,346.7 547.8,347.1 545.8,347.4 543.9,347.1 542.1,346.2 540.7,344.8 539.8,343.0ZM541.5,340.7 541.8,338.7 542.7,337.0 544.1,335.6 545.9,334.7 548.1,334.3 550.0,334.0 551.9,334.3 553.7,335.2 555.1,336.5 556.0,338.3 556.3,340.3 556.0,342.2 555.1,344.0 553.7,345.3 551.9,346.2 549.8,346.7 547.8,347.0 545.9,346.7 544.1,345.8 542.7,344.4 541.8,342.6ZM543.7,340.3 544.0,338.3 544.9,336.5 546.3,335.2 548.2,333.3 550.0,332.4 551.9,332.1 553.9,332.4 555.6,333.3 557.0,334.7 557.9,336.4 558.2,338.4 557.9,340.3 557.0,342.1 555.6,343.5 553.7,345.3 551.9,346.2 550.0,346.6 548.1,346.2 546.3,345.3 544.9,344.0 544.0,342.2ZM545.6,338.4 545.9,336.4 546.8,334.7 548.2,333.3 550.0,332.4 552.0,331.7 554.0,331.4 555.9,331.7 557.7,332.6 559.1,334.0 560.0,335.8 560.3,337.7 560.0,339.7 559.1,341.4 557.7,342.8 555.9,343.7 553.9,344.4 551.9,344.7 550.0,344.4 548.2,343.5 546.8,342.1 545.9,340.3ZM547.7,337.7 548.0,335.8 548.9,334.0 550.3,332.6 552.4,331.5 554.1,330.6 556.1,330.3 558.0,330.6 559.8,331.5 561.2,332.9 562.1,334.6 562.4,336.6 562.1,338.5 561.2,340.3 559.8,341.7 557.7,342.8 555.9,343.7 554.0,344.0 552.0,343.7 550.3,342.8 548.9,341.4 548.0,339.7ZM549.8,336.6 550.1,334.6 551.0,332.9 552.4,331.5 554.1,330.6 556.3,329.6 558.2,329.3 560.2,329.6 561.9,330.5 563.3,331.9 564.2,333.7 564.5,335.6 564.2,337.6 563.3,339.3 561.9,340.7 560.2,341.6 558.0,342.6 556.1,342.9 554.1,342.6 552.4,341.7 551.0,340.3 550.1,338.5ZM551.9,335.6 552.2,333.7 553.1,331.9 554.5,330.5 556.3,329.6 558.2,329.3 560.4,329.2 562.3,329.5 564.1,330.4 565.5,331.7 566.4,333.5 566.7,335.5 566.4,337.4 565.5,339.2 564.1,340.5 562.3,341.4 560.4,341.8 558.2,341.9 556.3,341.6 554.5,340.7 553.1,339.3 552.2,337.6ZM554.1,335.5 554.4,333.5 555.3,331.7 556.7,330.4 558.8,328.7 560.6,327.8 562.5,327.4 564.4,327.8 566.2,328.7 567.6,330.0 568.5,331.8 568.8,333.8 568.5,335.7 567.6,337.5 566.2,338.8 564.1,340.5 562.3,341.4 560.4,341.8 558.4,341.4 556.7,340.5 555.3,339.2 554.4,337.4ZM556.2,333.8 556.5,331.8 557.4,330.0 558.8,328.7 560.6,327.8 562.6,326.8 564.6,326.5 566.5,326.8 568.3,327.7 569.7,329.0 570.6,330.8 570.9,332.8 570.6,334.7 569.7,336.5 568.3,337.8 566.5,338.7 564.4,339.7 562.5,340.1 560.6,339.7 558.8,338.8 557.4,337.5 556.5,335.7ZM558.3,332.8 558.6,330.8 559.5,329.0 560.9,327.7 562.6,326.8 564.6,326.5 566.5,326.8 568.6,327.4 570.4,328.3 571.8,329.7 572.7,331.5 573.0,333.4 572.7,335.4 571.8,337.1 570.4,338.5 568.6,339.4 566.7,339.7 564.7,339.4 562.6,338.7 560.9,337.8 559.5,336.5 558.6,334.7ZM560.4,333.4 560.7,331.5 561.6,329.7 563.0,328.3 565.0,327.2 566.8,326.3 568.8,326.0 570.7,326.3 572.5,327.2 573.8,328.6 574.7,330.3 575.0,332.3 574.7,334.2 573.8,336.0 572.5,337.4 570.4,338.5 568.6,339.4 566.7,339.7 564.7,339.4 563.0,338.5 561.6,337.1 560.7,335.4ZM562.5,332.3 562.8,330.3 563.7,328.6 565.0,327.2 566.8,326.3 568.9,325.4 570.8,325.1 572.8,325.4 574.5,326.3 575.9,327.7 576.8,329.4 577.1,331.4 576.8,333.3 575.9,335.1 574.5,336.5 572.8,337.4 570.7,338.3 568.8,338.6 566.8,338.3 565.0,337.4 563.7,336.0 562.8,334.2ZM564.5,331.4 564.8,329.4 565.7,327.7 567.1,326.3 568.9,325.4 570.8,325.1 572.9,324.9 574.9,325.2 576.6,326.1 578.0,327.5 578.9,329.3 579.2,331.2 578.9,333.2 578.0,334.9 576.6,336.3 574.9,337.2 572.9,337.5 570.8,337.7 568.9,337.4 567.1,336.5 565.7,335.1 564.8,333.3ZM566.6,331.2 566.9,329.3 567.8,327.5 569.2,326.1 571.0,325.2 573.1,324.4 575.0,324.0 576.9,324.4 578.7,325.3 580.1,326.6 581.0,328.4 581.3,330.3 581.0,332.3 580.1,334.1 578.7,335.4 576.9,336.3 574.9,337.2 572.9,337.5 571.0,337.2 569.2,336.3 567.8,334.9 566.9,333.2ZM568.7,330.3 569.0,328.4 569.9,326.6 571.3,325.3 573.1,324.4 575.0,324.0 577.1,324.3 579.0,324.6 580.8,325.5 582.2,326.9 583.1,328.6 583.4,330.6 583.1,332.5 582.2,334.3 580.8,335.7 579.0,336.6 577.1,336.9 575.0,336.6 573.1,336.3 571.3,335.4 569.9,334.1 569.0,332.3ZM570.8,330.6 571.1,328.6 572.0,326.9 573.4,325.5 575.1,324.6 577.2,323.8 579.2,323.5 581.1,323.8 582.9,324.7 584.3,326.1 585.2,327.9 585.5,329.8 585.2,331.8 584.3,333.5 582.9,334.9 581.1,335.8 579.0,336.6 577.1,336.9 575.1,336.6 573.4,335.7 572.0,334.3 571.1,332.5ZM572.9,329.8 573.2,327.9 574.1,326.1 575.5,324.7 577.5,323.1 579.3,322.2 581.2,321.9 583.2,322.2 585.0,323.1 586.3,324.5 587.2,326.2 587.5,328.2 587.2,330.1 586.3,331.9 585.0,333.3 582.9,334.9 581.1,335.8 579.2,336.1 577.2,335.8 575.5,334.9 574.1,333.5 573.2,331.8ZM575.0,328.2 575.3,326.2 576.2,324.5 577.5,323.1 579.3,322.2 581.2,321.9 583.2,322.2 585.3,322.7 587.0,323.5 588.4,324.9 589.3,326.7 589.6,328.6 589.3,330.6 588.4,332.3 587.0,333.7 585.3,334.6 583.3,334.9 581.4,334.6 579.3,334.2 577.5,333.3 576.2,331.9 575.3,330.1ZM577.0,328.6 577.3,326.7 578.2,324.9 579.6,323.5 581.4,322.7 583.5,322.2 585.4,321.9 587.4,322.2 589.1,323.1 590.5,324.5 591.4,326.3 591.7,328.2 591.4,330.2 590.5,331.9 589.1,333.3 587.4,334.2 585.3,334.6 583.3,334.9 581.4,334.6 579.6,333.7 578.2,332.3 577.3,330.6ZM579.1,328.2 579.4,326.3 580.3,324.5 581.7,323.1 583.8,321.8 585.6,320.9 587.5,320.6 589.4,320.9 591.2,321.8 592.6,323.2 593.5,324.9 593.8,326.9 593.5,328.8 592.6,330.6 591.2,332.0 589.1,333.3 587.4,334.2 585.4,334.5 583.5,334.2 581.7,333.3 580.3,331.9 579.4,330.2ZM581.2,326.9 581.5,324.9 582.4,323.2 583.8,321.8 585.6,320.9 587.5,320.6 589.6,320.2 591.5,320.6 593.3,321.4 594.7,322.8 595.6,324.6 595.9,326.5 595.6,328.5 594.7,330.2 593.3,331.6 591.5,332.5 589.6,332.8 587.5,333.2 585.6,332.9 583.8,332.0 582.4,330.6 581.5,328.8ZM583.3,326.5 583.6,324.6 584.5,322.8 585.9,321.4 588.0,320.4 589.7,319.5 591.7,319.2 593.6,319.5 595.4,320.4 596.8,321.7 597.7,323.5 598.0,325.5 597.7,327.4 596.8,329.2 595.4,330.5 593.3,331.6 591.5,332.5 589.6,332.8 587.6,332.5 585.9,331.6 584.5,330.2 583.6,328.5ZM585.4,325.5 585.7,323.5 586.6,321.7 588.0,320.4 589.7,319.5 591.7,319.2 593.8,318.8 595.7,319.2 597.5,320.1 598.8,321.4 599.7,323.2 600.0,325.1 599.7,327.1 598.8,328.9 597.5,330.2 595.7,331.1 593.8,331.4 591.7,331.8 589.7,331.4 588.0,330.5 586.6,329.2 585.7,327.4ZM587.5,325.1 587.8,323.2 588.7,321.4 590.0,320.1 591.8,319.2 593.8,318.8 595.8,318.8 597.8,319.1 599.5,320.0 600.9,321.4 601.8,323.1 602.1,325.1 601.8,327.0 600.9,328.8 599.5,330.2 597.8,331.1 595.8,331.4 593.8,331.4 591.8,331.1 590.0,330.2 588.7,328.9 587.8,327.1ZM589.5,325.1 589.8,323.1 590.7,321.4 592.1,320.0 594.2,318.1 596.0,317.2 597.9,316.9 599.9,317.2 601.6,318.1 603.0,319.5 603.9,321.2 604.2,323.2 603.9,325.1 603.0,326.9 601.6,328.3 599.5,330.2 597.8,331.1 595.8,331.4 593.9,331.1 592.1,330.2 590.7,328.8 589.8,327.0ZM591.6,323.2 591.9,321.2 592.8,319.5 594.2,318.1 596.0,317.2 597.9,316.9 600.0,316.6 601.9,316.9 603.7,317.8 605.1,319.2 606.0,321.0 606.3,322.9 606.0,324.9 605.1,326.6 603.7,328.0 601.9,328.9 600.0,329.2 597.9,329.5 596.0,329.2 594.2,328.3 592.8,326.9 591.9,325.1ZM593.7,322.9 594.0,321.0 594.9,319.2 596.3,317.8 598.1,316.9 600.0,316.6 601.9,316.9 604.0,317.4 605.8,318.3 607.2,319.7 608.1,321.4 608.4,323.4 608.1,325.3 607.2,327.1 605.8,328.5 604.0,329.4 602.1,329.7 600.1,329.4 598.1,328.9 596.3,328.0 594.9,326.6 594.0,324.9ZM595.8,323.4 596.1,321.4 597.0,319.7 598.4,318.3 600.5,317.2 602.2,316.3 604.2,316.0 606.1,316.3 607.9,317.2 609.3,318.6 610.2,320.3 610.5,322.3 610.2,324.2 609.3,326.0 607.9,327.4 605.8,328.5 604.0,329.4 602.1,329.7 600.1,329.4 598.4,328.5 597.0,327.1 596.1,325.3ZM597.9,322.3 598.2,320.3 599.1,318.6 600.5,317.2 602.2,316.3 604.2,316.0 606.3,315.8 608.2,316.1 610.0,317.0 611.4,318.4 612.3,320.1 612.6,322.1 612.3,324.0 611.4,325.8 610.0,327.2 608.2,328.1 606.3,328.4 604.2,328.6 602.2,328.3 600.5,327.4 599.1,326.0 598.2,324.2ZM600.0,322.1 600.3,320.1 601.2,318.4 602.6,317.0 604.3,316.1 606.4,315.7 608.4,315.4 610.3,315.7 612.1,316.6 613.5,318.0 614.4,319.7 614.7,321.7 614.4,323.6 613.5,325.4 612.1,326.8 610.3,327.7 608.2,328.1 606.3,328.4 604.3,328.1 602.6,327.2 601.2,325.8 600.3,324.0ZM602.1,321.7 602.4,319.7 603.3,318.0 604.7,316.6 606.4,315.7 608.5,315.2 610.5,314.9 612.4,315.2 614.2,316.1 615.6,317.5 616.4,319.3 616.8,321.2 616.4,323.2 615.6,324.9 614.2,326.3 612.4,327.2 610.3,327.7 608.4,328.0 606.4,327.7 604.7,326.8 603.3,325.4 602.4,323.6ZM604.2,321.2 604.5,319.3 605.4,317.5 606.8,316.1 608.5,315.2 610.5,314.9 612.4,315.2 614.4,316.1 616.2,317.0 617.6,318.4 618.5,320.1 618.8,322.1 618.5,324.0 617.6,325.8 616.2,327.2 614.4,328.1 612.5,328.4 610.6,328.1 608.5,327.2 606.8,326.3 605.4,324.9 604.5,323.2ZM606.2,322.1 606.5,320.1 607.4,318.4 608.8,317.0 610.6,316.1 613.1,315.4 615.1,315.1 617.0,315.4 618.8,316.3 620.2,317.7 621.1,319.5 621.4,321.4 621.1,323.4 620.2,325.1 618.8,326.5 617.0,327.4 614.4,328.1 612.5,328.4 610.6,328.1 608.8,327.2 607.4,325.8 606.5,324.0ZM608.8,321.4 609.1,319.5 610.0,317.7 611.4,316.3 613.1,315.4 615.9,314.2 617.8,313.9 619.8,314.2 621.5,315.1 622.9,316.5 623.8,318.3 624.1,320.2 623.8,322.2 622.9,323.9 621.5,325.3 619.8,326.2 617.0,327.4 615.1,327.7 613.1,327.4 611.4,326.5 610.0,325.1 609.1,323.4ZM611.5,320.2 611.8,318.3 612.7,316.5 614.1,315.1 615.9,314.2 617.8,313.9 620.5,314.2 622.4,314.5 624.2,315.4 625.6,316.8 626.5,318.6 626.8,320.5 626.5,322.5 625.6,324.2 624.2,325.6 622.4,326.5 620.5,326.8 617.8,326.5 615.9,326.2 614.1,325.3 612.7,323.9 611.8,322.2ZM614.2,320.5 614.5,318.6 615.4,316.8 616.8,315.4 618.5,314.5 620.5,314.2 622.7,314.6 624.7,314.9 626.4,315.8 627.8,317.2 628.7,318.9 629.0,320.9 628.7,322.8 627.8,324.6 626.4,326.0 624.7,326.8 622.7,327.2 620.5,326.8 618.5,326.5 616.8,325.6 615.4,324.2 614.5,322.5ZM616.4,320.9 616.7,318.9 617.6,317.2 619.0,315.8 620.6,314.8 622.4,313.9 624.3,313.6 626.2,313.9 628.0,314.8 629.4,316.2 630.3,318.0 630.6,319.9 630.3,321.9 629.4,323.6 628.0,325.0 626.4,326.0 624.7,326.8 622.7,327.2 620.8,326.8 619.0,326.0 617.6,324.6 616.7,322.8Z"/>
<path fill="#3b49a8" d="M98.4,570.1 105.0,556.9 106.9,555.7 113.5,568.9 111.6,570.1ZM100.3,568.9 106.9,555.7 110.0,553.9 116.6,567.1 113.5,568.9ZM103.4,567.1 110.0,553.9 111.6,553.1 118.2,566.3 116.6,567.1ZM105.0,566.3 111.6,553.1 113.5,552.2 120.1,565.4 118.2,566.3ZM106.9,565.4 113.5,552.2 115.6,551.1 122.2,564.3 120.1,565.4ZM109.0,564.3 115.6,551.1 117.8,550.3 124.4,563.5 122.2,564.3ZM111.2,563.5 117.8,550.3 120.0,548.8 126.6,562.0 124.4,563.5ZM113.4,562.0 120.0,548.8 121.7,547.9 128.3,561.1 126.6,562.0ZM115.1,561.1 121.7,547.9 123.4,547.4 130.0,560.6 128.3,561.1ZM116.8,560.6 123.4,547.4 125.2,546.3 131.8,559.5 130.0,560.6ZM118.6,559.5 125.2,546.3 127.0,545.6 133.6,558.8 131.8,559.5ZM120.4,558.8 127.0,545.6 128.9,544.0 135.5,557.2 133.6,558.8ZM122.3,557.2 128.9,544.0 130.7,543.3 137.3,556.5 135.5,557.2ZM124.1,556.5 130.7,543.3 132.5,542.2 139.1,555.4 137.3,556.5ZM125.9,555.4 132.5,542.2 134.3,541.5 140.9,554.7 139.1,555.4ZM127.7,554.7 134.3,541.5 136.1,540.5 142.7,553.7 140.9,554.7ZM129.5,553.7 136.1,540.5 137.9,539.3 144.5,552.5 142.7,553.7ZM131.3,552.5 137.9,539.3 139.6,538.6 146.2,551.8 144.5,552.5ZM133.0,551.8 139.6,538.6 141.4,537.6 148.0,550.8 146.2,551.8ZM134.8,550.8 141.4,537.6 143.2,537.1 149.8,550.3 148.0,550.8ZM136.6,550.3 143.2,537.1 145.0,535.7 151.6,548.9 149.8,550.3ZM138.4,548.9 145.0,535.7 146.8,534.8 153.4,548.0 151.6,548.9ZM140.2,548.0 146.8,534.8 148.6,533.4 155.2,546.6 153.4,548.0ZM142.0,546.6 148.6,533.4 150.4,532.8 157.0,546.0 155.2,546.6ZM143.8,546.0 150.4,532.8 152.1,531.7 158.7,544.9 157.0,546.0ZM145.5,544.9 152.1,531.7 153.9,530.7 160.5,543.9 158.7,544.9ZM147.3,543.9 153.9,530.7 155.7,529.7 162.3,542.9 160.5,543.9ZM149.1,542.9 155.7,529.7 157.5,528.7 164.1,541.9 162.3,542.9ZM150.9,541.9 157.5,528.7 159.6,528.1 166.2,541.3 164.1,541.9ZM153.0,541.3 159.6,528.1 161.7,526.8 168.3,540.0 166.2,541.3ZM155.1,540.0 161.7,526.8 163.8,525.8 170.3,539.0 168.3,540.0ZM157.2,539.0 163.8,525.8 165.8,524.9 172.4,538.1 170.3,539.0ZM159.2,538.1 165.8,524.9 167.9,523.8 174.5,537.0 172.4,538.1ZM161.3,537.0 167.9,523.8 170.0,523.3 176.6,536.5 174.5,537.0ZM163.4,536.5 170.0,523.3 172.1,522.3 178.7,535.5 176.6,536.5ZM165.5,535.5 172.1,522.3 174.2,521.2 180.8,534.4 178.7,535.5ZM167.6,534.4 174.2,521.2 176.2,520.9 182.8,534.1 180.8,534.4ZM169.7,534.1 176.2,520.9 178.3,520.1 184.9,533.3 182.8,534.1ZM171.7,533.3 178.3,520.1 180.4,519.2 187.0,532.4 184.9,533.3ZM173.8,532.4 180.4,519.2 182.5,518.5 189.1,531.7 187.0,532.4ZM175.9,531.7 182.5,518.5 184.6,517.4 191.2,530.6 189.1,531.7ZM178.0,530.6 184.6,517.4 186.7,516.8 193.3,530.0 191.2,530.6ZM180.1,530.0 186.7,516.8 188.8,516.0 195.3,529.2 193.3,530.0ZM182.2,529.2 188.8,516.0 190.8,514.5 197.4,527.7 195.3,529.2ZM184.2,527.7 190.8,514.5 192.9,513.8 199.5,527.0 197.4,527.7ZM186.3,527.0 192.9,513.8 195.0,513.2 201.6,526.4 199.5,527.0ZM188.4,526.4 195.0,513.2 197.1,512.1 203.7,525.3 201.6,526.4ZM190.5,525.3 197.1,512.1 199.2,511.4 205.8,524.6 203.7,525.3ZM192.6,524.6 199.2,511.4 201.2,510.4 207.8,523.6 205.8,524.6ZM194.7,523.6 201.2,510.4 203.3,509.6 209.9,522.8 207.8,523.6ZM196.7,522.8 203.3,509.6 205.4,509.3 212.0,522.5 209.9,522.8ZM198.8,522.5 205.4,509.3 207.5,508.2 214.1,521.4 212.0,522.5ZM200.9,521.4 207.5,508.2 209.6,507.4 216.2,520.6 214.1,521.4ZM203.0,520.6 209.6,507.4 211.7,507.1 218.3,520.3 216.2,520.6ZM205.1,520.3 211.7,507.1 213.8,506.4 220.3,519.6 218.3,520.3ZM207.2,519.6 213.8,506.4 215.8,505.8 222.4,519.0 220.3,519.6ZM209.2,519.0 215.8,505.8 217.9,505.2 224.5,518.4 222.4,519.0ZM211.3,518.4 217.9,505.2 220.0,504.5 226.6,517.7 224.5,518.4ZM213.4,517.7 220.0,504.5 222.1,504.4 228.7,517.6 226.6,517.7ZM215.5,517.6 222.1,504.4 224.2,503.9 230.8,517.1 228.7,517.6ZM217.6,517.1 224.2,503.9 226.2,503.1 232.8,516.3 230.8,517.1ZM219.7,516.3 226.2,503.1 228.3,503.0 234.9,516.2 232.8,516.3ZM221.7,516.2 228.3,503.0 230.4,502.6 237.0,515.8 234.9,516.2ZM223.8,515.8 230.4,502.6 232.5,502.1 239.1,515.3 237.0,515.8ZM225.9,515.3 232.5,502.1 234.6,501.8 241.2,515.0 239.1,515.3ZM228.0,515.0 234.6,501.8 236.6,501.0 243.2,514.2 241.2,515.0ZM230.0,514.2 236.6,501.0 238.6,500.9 245.2,514.1 243.2,514.2ZM232.0,514.1 238.6,500.9 240.6,500.7 247.2,513.9 245.2,514.1ZM234.0,513.9 240.6,500.7 242.8,499.8 249.4,513.0 247.2,513.9ZM236.2,513.0 242.8,499.8 245.0,499.4 251.6,512.6 249.4,513.0ZM238.4,512.6 245.0,499.4 246.9,499.2 253.5,512.4 251.6,512.6ZM240.3,512.4 246.9,499.2 248.8,498.8 255.4,512.0 253.5,512.4ZM242.2,512.0 248.8,498.8 250.7,498.8 257.3,512.0 255.4,512.0ZM244.1,512.0 250.7,498.8 252.7,497.8 259.3,511.0 257.3,512.0ZM246.1,511.0 252.7,497.8 254.9,497.5 261.5,510.7 259.3,511.0ZM248.3,510.7 254.9,497.5 257.3,497.6 263.9,510.8 250.7,510.8ZM250.7,510.8 257.3,497.6 260.0,497.2 266.6,510.4 263.9,510.8ZM253.4,510.4 260.0,497.2 261.8,496.6 268.4,509.8 266.6,510.4ZM255.2,509.8 261.8,496.6 263.7,496.7 270.3,509.9 257.1,509.9ZM257.1,509.9 263.7,496.7 265.8,496.4 272.4,509.6 270.3,509.9ZM259.2,509.6 265.8,496.4 268.1,496.3 274.7,509.5 272.4,509.6ZM261.5,509.5 268.1,496.3 270.3,496.1 276.9,509.3 274.7,509.5ZM263.7,509.3 270.3,496.1 272.7,495.5 279.3,508.7 276.9,509.3ZM266.1,508.7 272.7,495.5 275.0,495.4 281.6,508.6 279.3,508.7ZM268.4,508.6 275.0,495.4 277.2,495.5 283.8,508.7 270.6,508.7ZM270.6,508.7 277.2,495.5 279.4,495.0 286.0,508.2 283.8,508.7ZM272.8,508.2 279.4,495.0 281.4,494.7 288.0,507.9 286.0,508.2ZM274.8,507.9 281.4,494.7 283.3,495.0 289.9,508.2 276.7,508.2ZM276.7,508.2 283.3,495.0 285.0,494.6 291.6,507.8 289.9,508.2ZM278.4,507.8 285.0,494.6 287.8,494.4 294.4,507.6 291.6,507.8ZM281.2,507.6 287.8,494.4 290.1,494.5 296.7,507.7 283.5,507.7ZM283.5,507.7 290.1,494.5 292.0,494.3 298.6,507.5 296.7,507.7ZM285.4,507.5 292.0,494.3 293.8,494.5 300.4,507.7 287.2,507.7ZM287.2,507.7 293.8,494.5 295.6,494.3 302.2,507.5 300.4,507.7ZM289.0,507.5 295.6,494.3 297.5,494.0 304.1,507.2 302.2,507.5ZM290.9,507.2 297.5,494.0 299.4,494.4 306.0,507.6 292.8,507.6ZM292.8,507.6 299.4,494.4 301.2,494.4 307.8,507.6 306.0,507.6ZM294.6,507.6 301.2,494.4 303.0,495.0 309.6,508.2 296.4,508.2ZM296.4,508.2 303.0,495.0 304.9,494.7 311.5,507.9 309.6,508.2ZM298.3,507.9 304.9,494.7 307.2,495.0 313.8,508.2 300.6,508.2ZM300.6,508.2 307.2,495.0 310.0,495.6 316.6,508.8 303.4,508.8ZM303.4,508.8 310.0,495.6 311.6,495.7 318.2,508.9 305.0,508.9ZM305.0,508.9 311.6,495.7 313.4,495.7 320.0,508.9 306.8,508.9ZM306.8,508.9 313.4,495.7 315.4,495.7 322.0,508.9 320.0,508.9ZM308.8,508.9 315.4,495.7 317.4,495.6 324.0,508.8 322.0,508.9ZM310.8,508.8 317.4,495.6 319.5,496.2 326.1,509.4 312.9,509.4ZM312.9,509.4 319.5,496.2 321.7,496.1 328.3,509.3 326.1,509.4ZM315.1,509.3 321.7,496.1 323.9,495.7 330.6,508.9 328.3,509.3ZM317.4,508.9 323.9,495.7 326.2,496.0 332.8,509.2 319.6,509.2ZM319.6,509.2 326.2,496.0 328.5,496.2 335.1,509.4 321.9,509.4ZM321.9,509.4 328.5,496.2 330.7,495.9 337.3,509.1 335.1,509.4ZM324.1,509.1 330.7,495.9 332.9,496.0 339.5,509.2 326.3,509.2ZM326.3,509.2 332.9,496.0 335.0,496.2 341.6,509.4 328.4,509.4ZM328.4,509.4 335.0,496.2 337.1,496.2 343.7,509.4 341.6,509.4ZM330.5,509.4 337.1,496.2 339.2,496.5 345.8,509.7 332.6,509.7ZM332.6,509.7 339.2,496.5 341.2,496.3 347.9,509.5 345.8,509.7ZM334.6,509.5 341.2,496.3 343.3,496.1 349.9,509.3 347.9,509.5ZM336.7,509.3 343.3,496.1 345.4,496.7 352.0,509.9 338.8,509.9ZM338.8,509.9 345.4,496.7 347.5,496.5 354.1,509.7 352.0,509.9ZM340.9,509.7 347.5,496.5 349.6,496.2 356.2,509.4 354.1,509.7ZM343.0,509.4 349.6,496.2 351.7,496.4 358.3,509.6 345.1,509.6ZM345.1,509.6 351.7,496.4 353.8,496.2 360.4,509.4 358.3,509.6ZM347.1,509.4 353.8,496.2 355.8,496.4 362.4,509.6 349.2,509.6ZM349.2,509.6 355.8,496.4 357.9,496.3 364.5,509.5 362.4,509.6ZM351.3,509.5 357.9,496.3 360.0,495.8 366.6,509.0 364.5,509.5ZM353.4,509.0 360.0,495.8 362.1,496.1 368.7,509.3 355.5,509.3ZM355.5,509.3 362.1,496.1 364.2,496.2 370.8,509.4 357.6,509.4ZM357.6,509.4 364.2,496.2 366.2,495.8 372.9,509.0 370.8,509.4ZM359.6,509.0 366.2,495.8 368.3,495.9 374.9,509.1 361.7,509.1ZM361.7,509.1 368.3,495.9 370.4,495.7 377.0,508.9 374.9,509.1ZM363.8,508.9 370.4,495.7 372.5,495.8 379.1,509.0 365.9,509.0ZM365.9,509.0 372.5,495.8 374.6,496.0 381.2,509.2 368.0,509.2ZM368.0,509.2 374.6,496.0 376.7,495.5 383.3,508.7 381.2,509.2ZM370.1,508.7 376.7,495.5 378.8,495.4 385.4,508.6 383.3,508.7ZM372.1,508.6 378.8,495.4 380.8,495.8 387.4,509.0 374.2,509.0ZM374.2,509.0 380.8,495.8 382.9,495.4 389.5,508.6 387.4,509.0ZM376.3,508.6 382.9,495.4 385.0,495.4 391.6,508.6 389.5,508.6ZM378.4,508.6 385.0,495.4 386.9,495.2 393.5,508.4 391.6,508.6ZM380.3,508.4 386.9,495.2 388.5,495.1 395.1,508.3 393.5,508.4ZM381.9,508.3 388.5,495.1 389.9,495.1 396.5,508.3 395.1,508.3ZM383.3,508.3 389.9,495.1 391.2,495.4 397.8,508.6 384.6,508.6ZM384.6,508.6 391.2,495.4 392.5,494.9 399.1,508.1 397.8,508.6ZM385.9,508.1 392.5,494.9 393.9,494.9 400.5,508.1 387.3,508.1ZM387.3,508.1 393.9,494.9 395.5,494.5 402.1,507.7 400.5,508.1ZM388.9,507.7 395.5,494.5 397.4,494.9 404.0,508.1 390.8,508.1ZM390.8,508.1 397.4,494.9 399.7,494.7 406.3,507.9 404.0,508.1ZM393.1,507.9 399.7,494.7 402.5,494.5 409.1,507.7 406.3,507.9ZM395.9,507.7 402.5,494.5 405.9,494.2 412.5,507.4 409.1,507.7ZM399.3,507.4 405.9,494.2 410.0,494.6 416.6,507.8 403.4,507.8ZM403.4,507.8 410.0,494.6 411.3,494.2 417.9,507.4 416.6,507.8ZM404.7,507.4 411.3,494.2 412.8,494.3 419.4,507.5 406.1,507.5ZM406.1,507.5 412.8,494.3 414.2,494.2 420.8,507.4 419.4,507.5ZM407.6,507.4 414.2,494.2 415.7,494.1 422.3,507.3 420.8,507.4ZM409.1,507.3 415.7,494.1 417.3,494.4 423.9,507.6 410.7,507.6ZM410.7,507.6 417.3,494.4 419.0,494.2 425.6,507.4 423.9,507.6ZM412.4,507.4 419.0,494.2 420.6,494.2 427.2,507.4 414.0,507.4ZM414.0,507.4 420.6,494.2 422.4,493.9 429.0,507.1 427.2,507.4ZM415.8,507.1 422.4,493.9 424.2,494.0 430.8,507.2 417.6,507.2ZM417.6,507.2 424.2,494.0 426.0,494.1 432.6,507.3 419.4,507.3ZM419.4,507.3 426.0,494.1 427.9,493.8 434.5,507.0 432.6,507.3ZM421.3,507.0 427.9,493.8 429.8,493.9 436.4,507.1 423.2,507.1ZM423.2,507.1 429.8,493.9 431.7,493.4 438.3,506.6 436.4,507.1ZM425.1,506.6 431.7,493.4 433.7,493.8 440.3,507.0 427.1,507.0ZM427.1,507.0 433.7,493.8 435.7,493.8 442.3,507.0 429.1,507.0ZM429.1,507.0 435.7,493.8 437.8,493.4 444.4,506.6 442.3,507.0ZM431.2,506.6 437.8,493.4 439.9,493.6 446.5,506.8 433.3,506.8ZM433.3,506.8 439.9,493.6 442.0,493.5 448.6,506.7 446.5,506.8ZM435.4,506.7 442.0,493.5 444.1,493.6 450.7,506.8 437.5,506.8ZM437.5,506.8 444.1,493.6 446.3,493.7 452.9,506.9 439.7,506.9ZM439.7,506.9 446.3,493.7 448.4,493.3 455.0,506.5 452.9,506.9ZM441.8,506.5 448.4,493.3 450.6,493.3 457.2,506.5 455.0,506.5ZM444.0,506.5 450.6,493.3 452.8,493.6 459.4,506.8 446.2,506.8ZM446.2,506.8 452.8,493.6 455.0,493.2 461.6,506.4 459.4,506.8ZM448.4,506.4 455.0,493.2 457.3,492.8 463.9,506.0 461.6,506.4ZM450.7,506.0 457.3,492.8 459.5,493.2 466.1,506.4 452.9,506.4ZM452.9,506.4 459.5,493.2 461.8,493.3 468.4,506.5 455.2,506.5ZM455.2,506.5 461.8,493.3 464.0,492.9 470.6,506.1 468.4,506.5ZM457.4,506.1 464.0,492.9 466.2,493.0 472.8,506.2 459.6,506.2ZM459.6,506.2 466.2,493.0 468.5,493.1 475.1,506.3 461.9,506.3ZM461.9,506.3 468.5,493.1 470.7,492.9 477.3,506.1 475.1,506.3ZM464.1,506.1 470.7,492.9 473.0,492.7 479.6,505.9 477.3,506.1ZM466.4,505.9 473.0,492.7 475.2,492.7 481.8,505.9 479.6,505.9ZM468.6,505.9 475.2,492.7 477.4,492.5 484.0,505.7 481.8,505.9ZM470.8,505.7 477.4,492.5 479.6,492.8 486.2,506.0 473.0,506.0ZM473.0,506.0 479.6,492.8 481.8,492.8 488.4,506.0 475.2,506.0ZM475.2,506.0 481.8,492.8 484.0,492.4 490.6,505.6 488.4,506.0ZM477.4,505.6 484.0,492.4 486.2,492.6 492.8,505.8 479.6,505.8ZM479.6,505.8 486.2,492.6 488.3,492.9 494.9,506.1 481.7,506.1ZM481.7,506.1 488.3,492.9 490.4,492.4 497.0,505.6 494.9,506.1ZM483.8,505.6 490.4,492.4 492.5,492.3 499.1,505.5 497.0,505.6ZM485.9,505.5 492.5,492.3 494.5,492.4 501.1,505.6 487.9,505.6ZM487.9,505.6 494.5,492.4 496.5,492.3 503.1,505.5 501.1,505.6ZM489.9,505.5 496.5,492.3 498.5,492.5 505.1,505.7 491.9,505.7ZM491.9,505.7 498.5,492.5 500.6,492.1 507.2,505.3 505.1,505.7ZM494.0,505.3 500.6,492.1 502.7,491.9 509.3,505.1 507.2,505.3ZM496.1,505.1 502.7,491.9 504.8,492.3 511.4,505.5 498.2,505.5ZM498.2,505.5 504.8,492.3 506.9,492.1 513.5,505.3 511.4,505.5ZM500.3,505.3 506.9,492.1 509.1,491.8 515.7,505.0 513.5,505.3ZM502.5,505.0 509.1,491.8 511.2,492.0 517.8,505.2 504.6,505.2ZM504.6,505.2 511.2,492.0 513.4,492.0 520.0,505.2 517.8,505.2ZM506.8,505.2 513.4,492.0 515.6,492.1 522.2,505.3 509.0,505.3ZM509.0,505.3 515.6,492.1 517.7,492.2 524.3,505.4 511.1,505.4ZM511.1,505.4 517.7,492.2 519.9,491.8 526.5,505.0 524.3,505.4ZM513.3,505.0 519.9,491.8 522.1,491.9 528.7,505.1 515.5,505.1ZM515.5,505.1 522.1,491.9 524.3,492.1 530.9,505.3 517.7,505.3ZM517.7,505.3 524.3,492.1 526.5,491.6 533.1,504.8 530.9,505.3ZM519.9,504.8 526.5,491.6 528.7,491.4 535.3,504.6 533.1,504.8ZM522.1,504.6 528.7,491.4 530.9,491.9 537.5,505.1 524.3,505.1ZM524.3,505.1 530.9,491.9 533.1,491.8 539.7,505.0 537.5,505.1ZM526.5,505.0 533.1,491.8 535.3,491.5 541.9,504.7 539.7,505.0ZM528.7,504.7 535.3,491.5 537.5,491.7 544.1,504.9 530.9,504.9ZM530.9,504.9 537.5,491.7 539.7,491.7 546.3,504.9 544.1,504.9ZM533.1,504.9 539.7,491.7 541.8,491.6 548.4,504.8 546.3,504.9ZM535.2,504.8 541.8,491.6 544.0,491.7 550.6,504.9 537.4,504.9ZM537.4,504.9 544.0,491.7 546.1,491.3 552.7,504.5 550.6,504.9ZM539.5,504.5 546.1,491.3 548.2,491.3 554.8,504.5 541.6,504.5ZM541.6,504.5 548.2,491.3 550.3,491.7 556.9,504.9 543.7,504.9ZM543.7,504.9 550.3,491.7 552.4,491.2 559.0,504.4 556.9,504.9ZM545.8,504.4 552.4,491.2 554.5,491.1 561.1,504.3 559.0,504.4ZM547.9,504.3 554.5,491.1 556.5,491.3 563.1,504.5 549.9,504.5ZM549.9,504.5 556.5,491.3 558.5,491.1 565.1,504.3 563.1,504.5ZM551.9,504.3 558.5,491.1 560.5,491.4 567.1,504.6 553.9,504.6ZM553.9,504.6 560.5,491.4 562.4,491.0 569.0,504.2 567.1,504.6ZM555.8,504.2 562.4,491.0 564.4,490.9 571.0,504.1 569.0,504.2ZM557.8,504.1 564.4,490.9 566.3,491.3 572.9,504.5 559.7,504.5ZM559.7,504.5 566.3,491.3 568.1,491.1 574.7,504.3 572.9,504.5ZM561.5,504.3 568.1,491.1 569.9,491.3 576.5,504.5 563.3,504.5ZM563.3,504.5 569.9,491.3 571.7,490.9 578.3,504.1 576.5,504.5ZM565.1,504.1 571.7,490.9 573.5,491.2 580.1,504.4 566.9,504.4ZM566.9,504.4 573.5,491.2 575.2,491.1 581.8,504.3 580.1,504.4ZM568.6,504.3 575.2,491.1 576.8,491.3 583.4,504.5 570.2,504.5ZM570.2,504.5 576.8,491.3 578.4,490.9 585.0,504.1 583.4,504.5ZM571.8,504.1 578.4,490.9 580.0,491.0 586.6,504.2 573.4,504.2ZM573.4,504.2 580.0,491.0 583.0,491.2 589.6,504.4 576.4,504.4ZM576.4,504.4 583.0,491.2 585.9,491.2 592.5,504.4 579.3,504.4ZM579.3,504.4 585.9,491.2 588.7,490.9 595.3,504.1 592.5,504.4ZM582.1,504.1 588.7,490.9 591.4,490.7 598.0,503.9 595.3,504.1ZM584.8,503.9 591.4,490.7 594.0,490.7 600.6,503.9 587.4,503.9ZM587.4,503.9 594.0,490.7 596.6,490.9 603.2,504.1 590.0,504.1ZM590.0,504.1 596.6,490.9 599.1,490.9 605.7,504.1 592.5,504.1ZM592.5,504.1 599.1,490.9 601.5,490.8 608.1,504.0 605.7,504.1ZM594.9,504.0 601.5,490.8 603.7,490.7 610.3,503.9 608.1,504.0ZM597.1,503.9 603.7,490.7 606.0,490.8 612.6,504.0 599.4,504.0ZM599.4,504.0 606.0,490.8 608.1,490.5 614.7,503.7 612.6,504.0ZM601.5,503.7 608.1,490.5 610.1,490.5 616.7,503.7 603.5,503.7ZM603.5,503.7 610.1,490.5 612.0,491.0 618.6,504.2 605.4,504.2ZM605.4,504.2 612.0,491.0 613.9,490.5 620.5,503.7 618.6,504.2ZM607.3,503.7 613.9,490.5 615.6,490.7 622.2,503.9 609.0,503.9ZM609.0,503.9 615.6,490.7 617.3,490.5 623.9,503.7 622.2,503.9ZM610.7,503.7 617.3,490.5 618.8,491.0 625.4,504.2 612.2,504.2ZM612.2,504.2 618.8,491.0 620.3,490.6 626.9,503.8 625.4,504.2ZM613.7,503.8 620.3,490.6 621.7,490.9 628.3,504.1 615.1,504.1ZM615.1,504.1 621.7,490.9 622.9,490.8 629.5,504.0 628.3,504.1ZM616.3,504.0 622.9,490.8 624.1,490.5 630.7,503.7 629.5,504.0ZM617.5,503.7 624.1,490.5 625.2,490.8 631.8,504.0 618.6,504.0Z"/>
<path fill="#c24fb6" d="M87.9,566.5 100.4,566.5 100.5,567.8 94.2,580.2 88.0,567.8ZM87.9,564.6 100.4,564.6 100.4,566.5 94.2,579.0 87.9,566.5ZM87.9,562.4 100.4,562.4 100.4,564.6 94.2,577.1 87.9,564.6ZM87.9,562.4 88.0,559.7 100.5,559.7 100.4,562.4 94.2,574.9ZM88.0,559.7 88.0,558.0 100.5,558.0 100.5,559.7 94.2,572.2ZM88.0,558.0 88.0,556.0 100.5,556.0 100.5,558.0 94.2,570.5ZM88.0,556.0 88.0,553.9 100.5,553.9 100.5,556.0 94.2,568.5ZM88.0,553.9 88.0,551.7 100.5,551.7 100.5,553.9 94.2,566.4ZM88.0,551.7 88.0,549.5 100.5,549.5 100.5,551.7 94.2,564.2ZM88.0,549.5 88.1,547.5 100.6,547.5 100.5,549.5 94.3,562.0ZM88.1,547.5 88.2,545.7 100.8,545.7 100.6,547.5 94.4,560.0ZM88.2,545.7 88.6,543.0 101.1,543.0 100.8,545.7 94.5,558.2ZM88.6,543.0 89.0,540.8 101.5,540.8 101.1,543.0 94.8,555.5ZM89.0,540.8 89.5,538.7 102.0,538.7 101.5,540.8 95.2,553.3ZM89.5,538.7 90.2,536.5 102.8,536.5 102.0,538.7 95.7,551.2ZM90.2,536.5 91.1,535.1 103.6,535.1 97.4,547.6 96.5,549.0ZM91.1,535.1 92.2,533.2 104.7,533.2 98.4,545.7 97.4,547.6ZM92.2,533.2 93.5,531.4 106.0,531.4 99.7,543.9 98.4,545.7ZM93.5,531.4 95.2,529.2 107.8,529.2 101.5,541.7 99.7,543.9ZM95.2,529.2 96.3,527.3 108.9,527.3 102.6,539.8 101.5,541.7ZM96.3,527.3 97.5,526.2 110.1,526.2 103.8,538.8 102.6,539.8ZM97.5,526.2 98.8,524.6 111.5,524.6 105.2,537.3 103.8,538.8ZM98.8,524.6 100.2,522.9 113.0,522.9 106.6,535.6 105.2,537.3ZM100.2,522.9 101.7,521.5 114.5,521.5 108.1,534.3 106.6,535.6ZM101.7,521.5 103.2,519.6 116.1,519.6 109.6,532.5 108.1,534.3ZM103.2,519.6 104.7,518.0 117.7,518.0 111.2,530.9 109.6,532.5ZM104.7,518.0 106.2,515.9 119.2,515.9 112.7,528.9 111.2,530.9ZM106.2,515.9 107.7,514.8 120.7,514.8 114.2,527.8 112.7,528.9ZM107.7,514.8 109.3,513.2 122.3,513.2 115.8,526.2 114.2,527.8ZM109.3,513.2 110.9,512.1 123.9,512.1 117.4,525.1 115.8,526.2ZM110.9,512.1 112.5,510.0 125.5,510.0 119.0,523.0 117.4,525.1ZM112.5,510.0 114.1,508.6 127.1,508.6 120.6,521.6 119.0,523.0ZM114.1,508.6 115.8,506.8 128.8,506.8 122.3,519.8 120.6,521.6ZM115.8,506.8 117.4,506.0 130.4,506.0 123.9,519.0 122.3,519.8ZM117.4,506.0 119.0,504.4 132.0,504.4 125.5,517.4 123.9,519.0ZM119.0,504.4 120.6,503.2 133.6,503.2 127.1,516.2 125.5,517.4ZM120.6,503.2 122.2,501.2 135.2,501.2 128.7,514.2 127.1,516.2ZM122.2,501.2 123.8,500.0 136.8,500.0 130.3,513.0 128.7,514.2ZM123.8,500.0 125.5,498.5 138.4,498.5 131.9,511.5 130.3,513.0ZM125.5,498.5 127.1,497.8 140.1,497.8 133.6,510.8 131.9,511.5ZM127.1,497.8 128.7,496.1 141.7,496.1 135.2,509.1 133.6,510.8ZM128.7,496.1 130.3,494.9 143.3,494.9 136.8,507.9 135.2,509.1ZM130.3,494.9 131.9,493.1 144.9,493.1 138.4,506.1 136.8,507.9ZM131.9,493.1 133.8,492.0 146.8,492.0 140.3,505.0 138.4,506.1ZM133.8,492.0 135.8,490.5 148.8,490.5 142.3,503.5 140.3,505.0ZM135.8,490.5 137.7,489.1 150.7,489.1 144.2,502.1 142.3,503.5ZM137.7,489.1 139.7,487.7 152.7,487.7 146.2,500.7 144.2,502.1ZM139.7,487.7 141.5,486.0 154.5,486.0 148.0,499.0 146.2,500.7ZM141.5,486.0 143.2,485.4 156.2,485.4 149.7,498.4 148.0,499.0ZM143.2,485.4 144.7,484.4 157.7,484.4 151.2,497.4 149.7,498.4ZM144.7,484.4 147.1,483.2 160.1,483.2 153.6,496.2 151.2,497.4ZM147.1,483.2 148.7,482.2 161.7,482.2 155.2,495.2 153.6,496.2ZM148.7,482.2 151.0,481.1 164.0,481.1 157.5,494.1 155.2,495.2ZM151.0,481.1 152.5,480.7 165.4,480.7 159.0,493.7 157.5,494.1ZM152.5,480.7 154.1,479.8 167.1,479.8 160.6,492.8 159.0,493.7ZM154.1,479.8 156.0,478.9 168.9,478.9 162.4,491.8 160.6,492.8ZM156.0,478.9 157.9,477.4 170.8,477.4 164.3,490.3 162.4,491.8ZM157.9,477.4 159.8,476.8 172.7,476.8 166.2,489.6 164.3,490.3ZM159.8,476.8 161.7,475.6 174.6,475.6 168.2,488.5 166.2,489.6ZM161.7,475.6 163.6,475.0 176.4,475.0 170.0,487.8 168.2,488.5ZM163.6,475.0 165.7,473.9 178.5,473.9 172.1,486.6 170.0,487.8ZM165.7,473.9 167.8,472.6 180.5,472.6 174.2,485.3 172.1,486.6ZM167.8,472.6 169.9,472.1 182.6,472.1 176.2,484.7 174.2,485.3ZM169.9,472.1 172.0,471.2 184.6,471.2 178.3,483.8 176.2,484.7ZM172.0,471.2 174.1,470.1 186.7,470.1 180.4,482.7 178.3,483.8ZM174.1,470.1 176.2,469.4 188.8,469.4 182.5,481.9 180.4,482.7ZM176.2,469.4 178.3,468.4 190.8,468.4 184.6,480.9 182.5,481.9ZM178.3,468.4 180.4,467.9 192.9,467.9 186.7,480.4 184.6,480.9ZM180.4,467.9 182.5,467.3 195.0,467.3 188.8,479.8 186.7,480.4ZM182.5,467.3 184.6,466.0 197.1,466.0 190.8,478.5 188.8,479.8ZM184.6,466.0 186.7,465.4 199.2,465.4 192.9,477.9 190.8,478.5ZM186.7,465.4 188.8,464.8 201.2,464.8 195.0,477.3 192.9,477.9ZM188.8,464.8 190.8,463.7 203.3,463.7 197.1,476.2 195.0,477.3ZM190.8,463.7 192.9,463.0 205.4,463.0 199.2,475.5 197.1,476.2ZM192.9,463.0 195.0,462.0 207.5,462.0 201.2,474.5 199.2,475.5ZM195.0,462.0 197.1,461.2 209.6,461.2 203.3,473.7 201.2,474.5ZM197.1,461.2 199.2,460.8 211.7,460.8 205.4,473.3 203.3,473.7ZM199.2,460.8 201.2,459.6 213.8,459.6 207.5,472.1 205.4,473.3ZM201.2,459.6 203.3,458.6 215.8,458.6 209.6,471.1 207.5,472.1ZM203.3,458.6 205.4,458.2 217.9,458.2 211.7,470.7 209.6,471.1ZM205.4,458.2 207.5,457.3 220.0,457.3 213.8,469.8 211.7,470.7ZM207.5,457.3 209.6,456.6 222.1,456.6 215.8,469.1 213.8,469.8ZM209.6,456.6 211.7,455.8 224.2,455.8 217.9,468.3 215.8,469.1ZM211.7,455.8 213.8,454.8 226.2,454.8 220.0,467.3 217.9,468.3ZM213.8,454.8 215.8,454.5 228.3,454.5 222.1,467.0 220.0,467.3ZM215.8,454.5 217.9,453.6 230.4,453.6 224.2,466.1 222.1,467.0ZM217.9,453.6 220.0,452.4 232.5,452.4 226.2,464.9 224.2,466.1ZM220.0,452.4 222.1,451.9 234.6,451.9 228.3,464.4 226.2,464.9ZM222.1,451.9 224.2,451.1 236.7,451.1 230.4,463.6 228.3,464.4ZM224.2,451.1 226.2,450.2 238.8,450.2 232.5,462.7 230.4,463.6ZM226.2,450.2 228.3,449.4 240.8,449.4 234.6,461.9 232.5,462.7ZM228.3,449.4 230.3,448.2 242.8,448.2 236.6,460.7 234.6,461.9ZM230.3,448.2 232.3,447.7 244.8,447.7 238.6,460.2 236.6,460.7ZM232.3,447.7 234.4,447.1 246.9,447.1 240.6,459.6 238.6,460.2ZM234.4,447.1 236.5,445.7 249.0,445.7 242.8,458.2 240.6,459.6ZM236.5,445.7 238.8,444.9 251.2,444.9 245.0,457.4 242.8,458.2ZM238.8,444.9 240.7,444.3 253.2,444.3 246.9,456.8 245.0,457.4ZM240.7,444.3 242.6,443.7 255.1,443.7 248.8,456.2 246.9,456.8ZM242.6,443.7 244.5,443.4 257.0,443.4 250.7,455.9 248.8,456.2ZM244.5,443.4 246.5,442.2 259.0,442.2 252.7,454.7 250.7,455.9ZM246.5,442.2 248.7,441.6 261.2,441.6 254.9,454.1 252.7,454.7ZM248.7,441.6 251.1,441.2 263.6,441.2 257.3,453.7 254.9,454.1ZM251.1,441.2 253.8,440.3 266.2,440.3 260.0,452.8 257.3,453.7ZM253.8,440.3 255.3,439.3 267.8,439.3 261.6,451.8 260.0,452.8ZM255.3,439.3 257.0,438.7 269.5,438.7 263.3,451.2 261.6,451.8ZM257.0,438.7 258.8,438.0 271.3,438.0 265.1,450.5 263.3,451.2ZM258.8,438.0 260.7,437.7 273.2,437.7 267.0,450.2 265.1,450.5ZM260.7,437.7 262.6,436.5 275.1,436.5 268.9,449.0 267.0,450.2ZM262.6,436.5 264.6,435.9 277.1,435.9 270.9,448.4 268.9,449.0ZM264.6,435.9 266.6,435.1 279.1,435.1 272.9,447.6 270.9,448.4ZM266.6,435.1 268.7,434.4 281.2,434.4 274.9,446.9 272.9,447.6ZM268.7,434.4 270.7,434.0 283.2,434.0 277.0,446.5 274.9,446.9ZM270.7,434.0 272.8,432.8 285.3,432.8 279.0,445.3 277.0,446.5ZM272.8,432.8 274.8,432.1 287.3,432.1 281.1,444.6 279.0,445.3ZM274.8,432.1 276.8,431.9 289.3,431.9 283.1,444.4 281.1,444.6ZM276.8,431.9 278.8,431.1 291.2,431.1 285.0,443.6 283.1,444.4ZM278.8,431.1 280.8,430.7 293.3,430.7 287.1,443.2 285.0,443.6ZM280.8,430.7 282.9,430.0 295.4,430.0 289.2,442.5 287.1,443.2ZM282.9,430.0 285.0,429.5 297.5,429.5 291.2,442.0 289.2,442.5ZM285.0,429.5 297.5,429.5 299.6,429.5 293.3,442.0 291.2,442.0ZM287.1,429.5 289.2,428.8 301.7,428.8 295.4,441.3 293.3,442.0ZM289.2,428.8 291.2,428.2 303.8,428.2 297.5,440.7 295.4,441.3ZM291.2,428.2 293.3,428.2 305.8,428.2 299.6,440.7 297.5,440.7ZM293.3,428.2 295.4,427.8 307.9,427.8 301.7,440.3 299.6,440.7ZM295.4,427.8 297.5,427.5 310.0,427.5 303.8,440.0 301.7,440.3ZM297.5,427.5 299.6,427.2 312.1,427.2 305.8,439.7 303.8,440.0ZM299.6,427.2 301.7,426.6 314.2,426.6 307.9,439.1 305.8,439.7ZM301.7,426.6 314.2,426.6 316.2,426.8 310.0,439.3 307.9,439.1ZM303.8,426.8 305.9,426.6 318.4,426.6 312.1,439.1 310.0,439.3ZM305.9,426.6 308.1,425.9 320.6,425.9 314.3,438.4 312.1,439.1ZM308.1,425.9 320.6,425.9 322.8,425.9 316.5,438.4 314.3,438.4ZM310.3,425.9 322.8,425.9 325.0,426.1 318.8,438.6 316.5,438.4ZM312.5,426.1 314.8,425.8 327.3,425.8 321.1,438.3 318.8,438.6ZM314.8,425.8 317.0,425.8 329.5,425.8 323.3,438.3 321.1,438.3ZM317.0,425.8 329.5,425.8 331.7,425.9 325.5,438.4 323.3,438.3ZM319.2,425.9 321.3,425.8 333.8,425.8 327.6,438.3 325.5,438.4ZM321.3,425.8 333.8,425.8 335.9,426.0 329.6,438.5 327.6,438.3ZM323.4,426.0 325.3,425.9 337.8,425.9 331.6,438.4 329.6,438.5ZM325.3,425.9 327.1,425.6 339.6,425.6 333.4,438.1 331.6,438.4ZM327.1,425.6 339.6,425.6 341.2,425.8 335.0,438.3 333.4,438.1ZM328.8,425.8 341.2,425.8 344.1,426.0 337.8,438.5 335.0,438.3ZM331.6,426.0 333.8,425.7 346.3,425.7 340.1,438.2 337.8,438.5ZM333.8,425.7 346.3,425.7 348.3,426.0 342.0,438.5 340.1,438.2ZM335.8,426.0 337.5,426.0 350.0,426.0 343.8,438.5 342.0,438.5ZM337.5,426.0 350.0,426.0 351.8,426.8 345.6,439.3 343.8,438.5ZM339.3,426.8 351.8,426.8 353.8,426.9 347.5,439.4 345.6,439.3ZM341.2,426.9 353.8,426.9 355.8,427.0 349.6,439.5 347.5,439.4ZM343.3,427.0 355.8,427.0 357.9,427.6 351.7,440.1 349.6,439.5ZM345.4,427.6 357.9,427.6 360.0,427.8 353.8,440.3 351.7,440.1ZM347.5,427.8 360.0,427.8 362.1,428.5 355.8,441.0 353.8,440.3ZM349.6,428.5 362.1,428.5 364.2,428.9 357.9,441.4 355.8,441.0ZM351.7,428.9 353.8,428.9 366.2,428.9 360.0,441.4 357.9,441.4ZM353.8,428.9 366.2,428.9 368.3,429.6 362.1,442.1 360.0,441.4ZM355.8,429.6 368.3,429.6 370.4,430.2 364.2,442.7 362.1,442.1ZM357.9,430.2 370.4,430.2 372.5,430.3 366.2,442.8 364.2,442.7ZM360.0,430.3 372.5,430.3 374.6,430.9 368.3,443.4 366.2,442.8ZM362.1,430.9 374.6,430.9 376.7,431.2 370.4,443.7 368.3,443.4ZM364.2,431.2 376.7,431.2 378.8,431.7 372.5,444.2 370.4,443.7ZM366.2,431.7 378.8,431.7 380.8,432.3 374.6,444.8 372.5,444.2ZM368.3,432.3 370.4,432.2 382.9,432.2 376.7,444.7 374.6,444.8ZM370.4,432.2 382.9,432.2 385.0,432.5 378.8,445.0 376.7,444.7ZM372.5,432.5 385.0,432.5 387.1,433.1 380.8,445.6 378.8,445.0ZM374.6,433.1 376.7,433.0 389.2,433.0 382.9,445.5 380.8,445.6ZM376.7,433.0 389.2,433.0 391.2,433.1 385.0,445.6 382.9,445.5ZM378.8,433.1 380.8,433.1 393.3,433.1 387.1,445.6 385.0,445.6ZM380.8,433.1 382.9,432.9 395.4,432.9 389.2,445.4 387.1,445.6ZM382.9,432.9 395.4,432.9 397.5,433.1 391.2,445.6 389.2,445.4ZM385.0,433.1 387.1,432.7 399.6,432.7 393.3,445.2 391.2,445.6ZM387.1,432.7 389.2,432.1 401.7,432.1 395.4,444.6 393.3,445.2ZM389.2,432.1 401.7,432.1 403.8,432.4 397.5,444.9 395.4,444.6ZM391.2,432.4 393.0,432.1 405.5,432.1 399.2,444.6 397.5,444.9ZM393.0,432.1 405.5,432.1 406.7,432.2 400.5,444.7 399.2,444.6ZM394.2,432.2 395.5,431.5 408.0,431.5 401.7,444.0 400.5,444.7ZM395.5,431.5 397.2,431.5 409.7,431.5 403.4,444.0 401.7,444.0ZM397.2,431.5 399.8,431.0 412.3,431.0 406.0,443.5 403.4,444.0ZM399.8,431.0 412.3,431.0 416.2,431.1 410.0,443.6 406.0,443.5ZM403.8,431.1 405.1,430.7 417.6,430.7 411.4,443.2 410.0,443.6ZM405.1,430.7 417.6,430.7 419.1,430.7 412.9,443.2 411.4,443.2ZM406.6,430.7 408.2,430.6 420.7,430.6 414.4,443.1 412.9,443.2ZM408.2,430.6 420.7,430.6 422.4,430.6 416.1,443.1 414.4,443.1ZM409.9,430.6 411.7,430.4 424.2,430.4 417.9,442.9 416.1,443.1ZM411.7,430.4 413.5,430.4 426.0,430.4 419.8,442.9 417.9,442.9ZM413.5,430.4 415.5,429.8 428.0,429.8 421.7,442.3 419.8,442.9ZM415.5,429.8 428.0,429.8 430.0,430.1 423.8,442.6 421.7,442.3ZM417.5,430.1 419.6,430.0 432.1,430.0 425.8,442.5 423.8,442.6ZM419.6,430.0 421.7,429.7 434.2,429.7 428.0,442.2 425.8,442.5ZM421.7,429.7 434.2,429.7 436.4,429.7 430.2,442.2 428.0,442.2ZM423.9,429.7 426.1,429.6 438.6,429.6 432.4,442.1 430.2,442.2ZM426.1,429.6 428.4,429.5 440.9,429.5 434.6,442.0 432.4,442.1ZM428.4,429.5 440.9,429.5 443.2,429.5 436.9,442.0 434.6,442.0ZM430.7,429.5 432.9,429.1 445.4,429.1 439.2,441.6 436.9,442.0ZM432.9,429.1 435.2,428.8 447.7,428.8 441.5,441.3 439.2,441.6ZM435.2,428.8 447.7,428.8 450.0,429.0 443.8,441.5 441.5,441.3ZM437.5,429.0 450.0,429.0 452.3,429.1 446.1,441.6 443.8,441.5ZM439.8,429.1 442.1,428.6 454.6,428.6 448.3,441.1 446.1,441.6ZM442.1,428.6 444.3,428.6 456.8,428.6 450.6,441.1 448.3,441.1ZM444.3,428.6 456.8,428.6 459.1,428.9 452.8,441.4 450.6,441.1ZM446.6,428.9 448.8,428.4 461.2,428.4 455.0,440.9 452.8,441.4ZM448.8,428.4 450.6,428.2 463.1,428.2 456.9,440.7 455.0,440.9ZM450.6,428.2 463.1,428.2 465.0,428.4 458.8,440.9 456.9,440.7ZM452.5,428.4 454.4,428.2 466.9,428.2 460.6,440.7 458.8,440.9ZM454.4,428.2 466.9,428.2 468.7,428.6 462.4,441.1 460.6,440.7ZM456.2,428.6 458.0,428.0 470.5,428.0 464.3,440.5 462.4,441.1ZM458.0,428.0 470.5,428.0 472.4,428.1 466.1,440.6 464.3,440.5ZM459.9,428.1 461.7,427.9 474.2,427.9 467.9,440.4 466.1,440.6ZM461.7,427.9 474.2,427.9 476.0,428.0 469.8,440.5 467.9,440.4ZM463.5,428.0 465.3,428.0 477.8,428.0 471.6,440.5 469.8,440.5ZM465.3,428.0 467.2,427.5 479.7,427.5 473.4,440.0 471.6,440.5ZM467.2,427.5 479.7,427.5 481.6,427.7 475.3,440.2 473.4,440.0ZM469.1,427.7 470.9,427.4 483.4,427.4 477.2,439.9 475.3,440.2ZM470.9,427.4 483.4,427.4 485.3,427.8 479.1,440.3 477.2,439.9ZM472.8,427.8 474.8,427.5 487.3,427.5 481.0,440.0 479.1,440.3ZM474.8,427.5 476.7,427.3 489.2,427.3 483.0,439.8 481.0,440.0ZM476.7,427.3 489.2,427.3 491.2,427.4 484.9,439.9 483.0,439.8ZM478.7,427.4 480.7,427.2 493.2,427.2 487.0,439.7 484.9,439.9ZM480.7,427.2 493.2,427.2 495.3,427.5 489.0,440.0 487.0,439.7ZM482.8,427.5 484.9,427.2 497.4,427.2 491.2,439.7 489.0,440.0ZM484.9,427.2 487.1,426.9 499.6,426.9 493.3,439.4 491.2,439.7ZM487.1,426.9 499.6,426.9 501.8,427.4 495.5,439.9 493.3,439.4ZM489.3,427.4 501.8,427.4 504.1,427.5 497.8,440.0 495.5,439.9ZM491.6,427.5 493.9,426.9 506.4,426.9 500.1,439.4 497.8,440.0ZM493.9,426.9 496.3,426.8 508.8,426.8 502.5,439.3 500.1,439.4ZM496.3,426.8 508.8,426.8 511.2,427.1 505.0,439.6 502.5,439.3ZM498.8,427.1 500.5,426.8 513.0,426.8 506.7,439.3 505.0,439.6ZM500.5,426.8 513.0,426.8 514.7,426.9 508.5,439.4 506.7,439.3ZM502.2,426.9 504.1,426.6 516.6,426.6 510.3,439.1 508.5,439.4ZM504.1,426.6 516.6,426.6 518.4,426.7 512.2,439.2 510.3,439.1ZM505.9,426.7 518.4,426.7 520.4,427.0 514.1,439.5 512.2,439.2ZM507.9,427.0 509.8,426.7 522.3,426.7 516.1,439.2 514.1,439.5ZM509.8,426.7 522.3,426.7 524.3,426.7 518.1,439.2 516.1,439.2ZM511.8,426.7 513.9,426.4 526.4,426.4 520.1,438.9 518.1,439.2ZM513.9,426.4 526.4,426.4 528.4,426.5 522.2,439.0 520.1,438.9ZM515.9,426.5 528.4,426.5 530.5,426.8 524.3,439.3 522.2,439.0ZM518.0,426.8 520.1,426.2 532.6,426.2 526.4,438.7 524.3,439.3ZM520.1,426.2 522.3,426.0 534.8,426.0 528.5,438.5 526.4,438.7ZM522.3,426.0 534.8,426.0 536.9,426.4 530.7,438.9 528.5,438.5ZM524.4,426.4 526.6,426.2 539.1,426.2 532.9,438.7 530.7,438.9ZM526.6,426.2 528.8,426.0 541.3,426.0 535.1,438.5 532.9,438.7ZM528.8,426.0 541.3,426.0 543.5,426.2 537.3,438.7 535.1,438.5ZM531.0,426.2 533.2,426.1 545.7,426.1 539.5,438.6 537.3,438.7ZM533.2,426.1 545.7,426.1 547.9,426.1 541.7,438.6 539.5,438.6ZM535.4,426.1 547.9,426.1 550.2,426.1 543.9,438.6 541.7,438.6ZM537.7,426.1 539.9,425.7 552.4,425.7 546.1,438.2 543.9,438.6ZM539.9,425.7 542.1,425.6 554.6,425.6 548.3,438.1 546.1,438.2ZM542.1,425.6 554.6,425.6 556.8,426.0 550.5,438.5 548.3,438.1ZM544.3,426.0 546.4,425.6 558.9,425.6 552.7,438.1 550.5,438.5ZM546.4,425.6 548.6,425.3 561.1,425.3 554.9,437.8 552.7,438.1ZM548.6,425.3 561.1,425.3 563.2,425.8 557.0,438.3 554.9,437.8ZM550.7,425.8 552.9,425.7 565.4,425.7 559.1,438.2 557.0,438.3ZM552.9,425.7 555.0,425.5 567.5,425.5 561.2,438.0 559.1,438.2ZM555.0,425.5 567.5,425.5 569.5,425.5 563.3,438.0 561.2,438.0ZM557.0,425.5 559.1,425.3 571.6,425.3 565.3,437.8 563.3,438.0ZM559.1,425.3 571.6,425.3 573.6,425.6 567.3,438.1 565.3,437.8ZM561.1,425.6 563.0,425.5 575.5,425.5 569.3,438.0 567.3,438.1ZM563.0,425.5 564.9,425.1 577.4,425.1 571.2,437.6 569.3,438.0ZM564.9,425.1 577.4,425.1 579.3,425.3 573.0,437.8 571.2,437.6ZM566.8,425.3 568.6,425.0 581.1,425.0 574.9,437.5 573.0,437.8ZM568.6,425.0 581.1,425.0 582.9,425.3 576.6,437.8 574.9,437.5ZM570.4,425.3 572.1,424.8 584.6,424.8 578.3,437.3 576.6,437.8ZM572.1,424.8 584.6,424.8 586.2,424.9 580.0,437.4 578.3,437.3ZM573.8,424.9 586.2,424.9 589.0,425.0 582.7,437.5 580.0,437.4ZM576.5,425.0 589.0,425.0 591.6,425.0 585.4,437.5 582.7,437.5ZM579.1,425.0 581.8,424.4 594.3,424.4 588.0,436.9 585.4,437.5ZM581.8,424.4 584.4,424.3 596.9,424.3 590.6,436.8 588.0,436.9ZM584.4,424.3 596.9,424.3 599.4,424.8 593.2,437.3 590.6,436.8ZM586.9,424.8 589.4,424.7 601.9,424.7 595.7,437.2 593.2,437.3ZM589.4,424.7 591.9,424.1 604.4,424.1 598.1,436.6 595.7,437.2ZM591.9,424.1 594.3,424.0 606.8,424.0 600.5,436.5 598.1,436.6ZM594.3,424.0 606.8,424.0 609.1,424.5 602.9,437.0 600.5,436.5ZM596.6,424.5 598.9,424.3 611.4,424.3 605.1,436.8 602.9,437.0ZM598.9,424.3 601.0,423.8 613.5,423.8 607.3,436.3 605.1,436.8ZM601.0,423.8 613.5,423.8 615.6,424.0 609.4,436.5 607.3,436.3ZM603.1,424.0 615.6,424.0 617.7,424.0 611.4,436.5 609.4,436.5ZM605.2,424.0 607.1,423.8 619.6,423.8 613.3,436.3 611.4,436.5ZM607.1,423.8 619.6,423.8 621.4,423.9 615.2,436.4 613.3,436.3ZM608.9,423.9 610.7,423.4 623.2,423.4 616.9,435.9 615.2,436.4ZM610.7,423.4 623.2,423.4 624.8,423.8 618.6,436.3 616.9,435.9ZM612.3,423.8 613.9,423.4 626.4,423.4 620.1,435.9 618.6,436.3ZM613.9,423.4 626.4,423.4 627.8,423.7 621.6,436.2 620.1,435.9ZM615.3,423.7 616.7,423.5 629.2,423.5 622.9,436.0 621.6,436.2ZM616.7,423.5 617.9,423.1 630.4,423.1 624.1,435.6 622.9,436.0ZM617.9,423.1 630.4,423.1 631.5,423.4 625.2,435.9 624.1,435.6Z"/>
<path fill="#3f8b48" d="M71.8,564.9 79.0,557.7 86.2,564.9 86.2,566.0 79.0,573.2 71.8,566.0ZM71.8,563.5 79.0,556.3 86.2,563.5 86.2,564.9 79.0,572.1 71.8,564.9ZM71.8,562.0 79.0,554.8 86.2,562.0 86.2,563.5 79.0,570.7 71.8,563.5ZM71.8,560.2 79.0,553.0 86.2,560.2 86.2,562.0 79.0,569.2 71.8,562.0ZM71.8,558.3 79.0,551.1 86.2,558.3 86.2,560.2 79.0,567.4 71.8,560.2ZM71.8,556.2 79.0,549.0 86.2,556.2 86.2,558.3 79.0,565.5 71.8,558.3ZM71.8,554.1 79.0,546.9 86.2,554.1 86.2,556.2 79.0,563.4 71.8,556.2ZM71.8,551.9 79.0,544.7 86.2,551.9 86.2,554.1 79.0,561.3 71.8,554.1ZM71.8,549.6 79.0,542.4 86.2,549.6 86.2,551.9 79.0,559.1 71.8,551.9ZM71.8,547.2 79.0,540.0 86.2,547.2 86.2,549.6 79.0,556.8 71.8,549.6ZM71.8,544.9 79.0,537.7 86.2,544.9 86.2,547.2 79.0,554.4 71.8,547.2ZM71.8,542.5 79.0,535.3 86.2,542.5 86.2,544.9 79.0,552.1 71.8,544.9ZM71.8,540.2 79.0,533.0 86.2,540.2 86.2,542.5 79.0,549.7 71.8,542.5ZM71.8,538.0 79.0,530.8 86.2,538.0 86.2,540.2 79.0,547.4 71.8,540.2ZM71.8,535.8 79.0,528.6 86.2,535.8 86.2,538.0 79.0,545.2 71.8,538.0ZM71.8,533.7 79.0,526.5 86.2,533.7 86.2,535.8 79.0,543.0 71.8,535.8ZM71.8,531.7 79.0,524.5 86.2,531.7 86.2,533.7 79.0,540.9 71.8,533.7ZM71.8,529.9 79.0,522.7 86.2,529.9 86.2,531.7 79.0,538.9 71.8,531.7ZM71.8,527.4 79.0,520.2 86.2,527.4 86.2,529.9 79.0,537.1 71.8,529.9ZM71.8,524.8 79.0,517.6 86.2,524.8 86.2,527.4 79.0,534.6 71.8,527.4ZM71.8,522.2 79.0,515.0 86.2,522.2 86.2,524.8 79.0,532.0 71.8,524.8ZM71.7,519.6 78.9,512.4 86.1,519.6 86.2,522.2 79.0,529.4 71.8,522.2ZM71.7,517.2 78.9,510.0 86.1,517.2 86.1,519.6 78.9,526.8 71.7,519.6ZM71.7,514.8 78.9,507.6 86.1,514.8 86.1,517.2 78.9,524.4 71.7,517.2ZM71.7,512.6 78.9,505.4 86.1,512.6 86.1,514.8 78.9,522.0 71.7,514.8ZM71.7,510.5 78.9,503.3 86.1,510.5 86.1,512.6 78.9,519.8 71.7,512.6ZM71.7,510.5 71.7,508.6 78.9,501.4 86.1,508.6 86.1,510.5 78.9,517.7ZM71.7,508.6 71.7,506.8 78.9,499.6 86.1,506.8 86.1,508.6 78.9,515.8ZM71.7,506.8 71.7,505.4 78.9,498.2 86.1,505.4 86.1,506.8 78.9,514.0ZM71.7,505.4 71.8,504.1 79.0,496.9 86.2,504.1 86.1,505.4 78.9,512.6ZM71.8,504.1 79.0,496.9 81.0,497.1 88.2,504.3 81.0,511.5 79.0,511.3ZM73.8,504.3 81.0,497.1 88.2,504.3 88.5,506.5 81.3,513.7 74.1,506.5ZM74.1,506.5 81.3,499.3 88.5,506.5 88.6,509.5 81.4,516.7 74.2,509.5ZM74.2,509.5 81.4,502.3 88.6,509.5 88.8,512.3 81.6,519.5 74.4,512.3ZM74.4,512.3 81.6,505.1 88.8,512.3 89.3,514.8 82.1,522.0 74.9,514.8ZM74.9,514.8 82.1,507.6 89.3,514.8 89.9,516.9 82.7,524.1 75.5,516.9ZM75.5,516.9 82.7,509.7 89.9,516.9 90.7,518.9 83.5,526.1 76.3,518.9ZM76.3,518.9 83.5,511.7 90.7,518.9 92.3,520.7 85.1,527.9 77.9,520.7ZM77.9,520.7 85.1,513.5 87.0,514.2 94.2,521.4 87.0,528.6 85.1,527.9ZM79.8,521.4 87.0,514.2 89.0,514.9 96.2,522.1 89.0,529.3 87.0,528.6ZM81.8,522.1 89.0,514.9 91.0,514.8 98.2,522.0 91.0,529.2 89.0,529.3ZM83.8,522.0 85.4,520.1 92.6,512.9 99.8,520.1 98.2,522.0 91.0,529.2ZM85.4,520.1 86.8,518.0 94.0,510.8 101.2,518.0 99.8,520.1 92.6,527.3ZM86.8,518.0 87.7,515.9 94.9,508.7 102.1,515.9 101.2,518.0 94.0,525.2ZM87.7,515.9 88.4,513.5 95.6,506.3 102.8,513.5 102.1,515.9 94.9,523.1ZM88.4,513.5 89.3,510.8 96.5,503.6 103.7,510.8 102.8,513.5 95.6,520.7ZM89.3,510.8 90.0,509.0 97.2,501.8 104.4,509.0 103.7,510.8 96.5,518.0ZM90.0,509.0 90.8,506.9 98.0,499.7 105.2,506.9 104.4,509.0 97.2,516.2ZM90.8,506.9 91.5,504.3 98.7,497.1 105.9,504.3 105.2,506.9 98.0,514.1ZM91.5,504.3 92.3,502.1 99.5,494.9 106.7,502.1 105.9,504.3 98.7,511.5ZM92.3,502.1 93.0,499.8 100.2,492.6 107.4,499.8 106.7,502.1 99.5,509.3ZM93.0,499.8 93.7,497.7 100.9,490.5 108.1,497.7 107.4,499.8 100.2,507.0ZM93.7,497.7 94.4,495.3 101.6,488.1 108.8,495.3 108.1,497.7 100.9,504.9ZM94.4,495.3 95.3,492.4 102.5,485.2 109.7,492.4 108.8,495.3 101.6,502.5ZM95.3,492.4 96.0,490.6 103.2,483.4 110.4,490.6 109.7,492.4 102.5,499.6ZM96.0,490.6 96.7,488.7 103.9,481.5 111.1,488.7 110.4,490.6 103.2,497.8ZM96.7,488.7 97.5,486.5 104.7,479.3 111.9,486.5 111.1,488.7 103.9,495.9ZM97.5,486.5 98.3,484.3 105.5,477.1 112.7,484.3 111.9,486.5 104.7,493.7ZM98.3,484.3 99.1,482.2 106.3,475.0 113.5,482.2 112.7,484.3 105.5,491.5ZM99.1,482.2 99.8,480.7 107.0,473.5 114.2,480.7 113.5,482.2 106.3,489.4ZM99.8,480.7 100.8,478.4 108.0,471.2 115.2,478.4 114.2,480.7 107.0,487.9ZM100.8,478.4 101.8,476.1 109.0,468.9 116.2,476.1 115.2,478.4 108.0,485.6ZM101.8,476.1 102.7,474.4 109.9,467.2 117.1,474.4 116.2,476.1 109.0,483.3ZM102.7,474.4 103.8,472.6 111.0,465.4 118.2,472.6 117.1,474.4 109.9,481.6ZM103.8,472.6 104.9,470.4 112.1,463.2 119.3,470.4 118.2,472.6 111.0,479.8ZM104.9,470.4 106.0,468.9 113.2,461.7 120.4,468.9 119.3,470.4 112.1,477.6ZM106.0,468.9 107.2,467.2 114.4,460.0 121.6,467.2 120.4,468.9 113.2,476.1ZM107.2,467.2 108.8,465.0 116.0,457.8 123.2,465.0 121.6,467.2 114.4,474.4ZM108.8,465.0 109.9,463.8 117.1,456.6 124.3,463.8 123.2,465.0 116.0,472.2ZM109.9,463.8 111.1,461.8 118.3,454.6 125.5,461.8 124.3,463.8 117.1,471.0ZM111.1,461.8 112.3,460.1 119.5,452.9 126.7,460.1 125.5,461.8 118.3,469.0ZM112.3,460.1 113.7,458.3 120.9,451.1 128.1,458.3 126.7,460.1 119.5,467.3ZM113.7,458.3 115.0,456.1 122.2,448.9 129.4,456.1 128.1,458.3 120.9,465.5ZM115.0,456.1 122.2,448.9 123.6,447.7 130.8,454.9 123.6,462.1 122.2,463.3ZM116.4,454.9 117.8,453.1 125.0,445.9 132.2,453.1 130.8,454.9 123.6,462.1ZM117.8,453.1 119.2,451.4 126.4,444.2 133.6,451.4 132.2,453.1 125.0,460.3ZM119.2,451.4 120.6,449.9 127.8,442.7 135.0,449.9 133.6,451.4 126.4,458.6ZM120.6,449.9 122.1,448.2 129.3,441.0 136.5,448.2 135.0,449.9 127.8,457.1ZM122.1,448.2 129.3,441.0 130.7,439.5 137.9,446.7 130.7,453.9 129.3,455.4ZM123.5,446.7 125.0,445.1 132.2,437.9 139.4,445.1 137.9,446.7 130.7,453.9ZM125.0,445.1 132.2,437.9 133.6,437.0 140.8,444.2 133.6,451.4 132.2,452.3ZM126.4,444.2 127.8,442.5 135.0,435.3 142.2,442.5 140.8,444.2 133.6,451.4ZM127.8,442.5 135.0,435.3 136.6,433.9 143.8,441.1 136.6,448.3 135.0,449.7ZM129.4,441.1 131.0,439.1 138.2,431.9 145.4,439.1 143.8,441.1 136.6,448.3ZM131.0,439.1 138.2,431.9 139.8,430.9 146.9,438.1 139.8,445.3 138.2,446.3ZM132.6,438.1 139.8,430.9 141.3,429.5 148.5,436.7 141.3,443.9 139.8,445.3ZM134.1,436.7 141.3,429.5 142.7,428.5 149.9,435.7 142.7,442.9 141.3,443.9ZM135.5,435.7 142.7,428.5 144.0,427.4 151.2,434.6 144.0,441.8 142.7,442.9ZM136.8,434.6 144.0,427.4 146.1,425.7 153.3,432.9 146.1,440.1 144.0,441.8ZM138.9,432.9 146.1,425.7 147.8,424.5 155.0,431.7 147.8,438.9 146.1,440.1ZM140.6,431.7 147.8,424.5 150.0,424.2 157.2,431.4 150.0,438.6 147.8,438.9ZM142.8,431.4 150.0,424.2 151.7,423.8 158.9,431.0 151.7,438.2 150.0,438.6ZM144.5,431.0 151.7,423.8 153.5,424.0 160.7,431.2 153.5,438.4 151.7,438.2ZM146.3,431.2 153.5,424.0 155.5,423.7 162.7,430.9 155.5,438.1 153.5,438.4ZM148.3,430.9 155.5,423.7 157.7,423.5 164.9,430.7 157.7,437.9 155.5,438.1ZM150.5,430.7 157.7,423.5 160.0,423.6 167.2,430.8 160.0,438.0 157.7,437.9ZM152.8,430.8 160.0,423.6 161.8,423.2 169.0,430.4 161.8,437.6 160.0,438.0ZM154.6,430.4 161.8,423.2 163.8,422.8 171.0,430.0 163.8,437.2 161.8,437.6ZM156.6,430.0 163.8,422.8 165.8,422.6 173.0,429.8 165.8,437.0 163.8,437.2ZM158.6,429.8 165.8,422.6 167.9,422.1 175.1,429.3 167.9,436.5 165.8,437.0ZM160.7,429.3 167.9,422.1 170.1,422.0 177.3,429.2 170.1,436.4 167.9,436.5ZM162.9,429.2 170.1,422.0 172.2,421.4 179.4,428.6 172.2,435.8 170.1,436.4ZM165.0,428.6 172.2,421.4 174.3,420.5 181.5,427.7 174.3,434.9 172.2,435.8ZM167.1,427.7 174.3,420.5 176.3,420.2 183.5,427.4 176.3,434.6 174.3,434.9ZM169.1,427.4 176.3,420.2 178.4,419.6 185.6,426.8 178.4,434.0 176.3,434.6ZM171.2,426.8 178.4,419.6 180.4,418.6 187.6,425.8 180.4,433.0 178.4,434.0ZM173.2,425.8 180.4,418.6 182.5,417.9 189.7,425.1 182.5,432.3 180.4,433.0ZM175.3,425.1 182.5,417.9 184.5,416.8 191.7,424.0 184.5,431.2 182.5,432.3ZM177.3,424.0 184.5,416.8 186.6,416.1 193.8,423.3 186.6,430.5 184.5,431.2ZM179.4,423.3 186.6,416.1 188.6,415.2 195.8,422.4 188.6,429.6 186.6,430.5ZM181.4,422.4 188.6,415.2 190.4,413.7 197.6,420.9 190.4,428.1 188.6,429.6ZM183.2,420.9 190.4,413.7 192.2,412.8 199.4,420.0 192.2,427.2 190.4,428.1ZM185.0,420.0 192.2,412.8 194.0,411.5 201.2,418.7 194.0,425.9 192.2,427.2ZM186.8,418.7 194.0,411.5 195.8,410.7 203.0,417.9 195.8,425.1 194.0,425.9ZM188.6,417.9 195.8,410.7 197.6,409.2 204.8,416.4 197.6,423.6 195.8,425.1ZM190.4,416.4 197.6,409.2 199.3,408.0 206.5,415.2 199.3,422.4 197.6,423.6ZM192.1,415.2 199.3,408.0 201.1,406.8 208.3,414.0 201.1,421.2 199.3,422.4ZM193.9,414.0 201.1,406.8 202.9,405.7 210.1,412.9 202.9,420.1 201.1,421.2ZM195.7,412.9 202.9,405.7 204.7,404.8 211.9,412.0 204.7,419.2 202.9,420.1ZM197.5,412.0 204.7,404.8 206.4,403.3 213.6,410.5 206.4,417.7 204.7,419.2ZM199.2,410.5 206.4,403.3 208.2,402.1 215.4,409.3 208.2,416.5 206.4,417.7ZM201.0,409.3 208.2,402.1 209.9,400.5 217.1,407.7 209.9,414.9 208.2,416.5ZM202.7,407.7 209.9,400.5 211.7,399.7 218.9,406.9 211.7,414.1 209.9,414.9ZM204.5,406.9 211.7,399.7 213.5,398.3 220.7,405.5 213.5,412.7 211.7,414.1ZM206.3,405.5 213.5,398.3 215.2,397.6 222.4,404.8 215.2,412.0 213.5,412.7ZM208.0,404.8 215.2,397.6 217.0,396.2 224.2,403.4 217.0,410.6 215.2,412.0ZM209.8,403.4 217.0,396.2 219.0,395.3 226.2,402.5 219.0,409.7 217.0,410.6ZM211.8,402.5 219.0,395.3 221.1,394.6 228.3,401.8 221.1,409.0 219.0,409.7ZM213.9,401.8 221.1,394.6 223.2,393.6 230.4,400.8 223.2,408.0 221.1,409.0ZM216.0,400.8 223.2,393.6 225.2,393.0 232.4,400.2 225.2,407.4 223.2,408.0ZM218.0,400.2 225.2,393.0 227.3,392.1 234.5,399.3 227.3,406.5 225.2,407.4ZM220.1,399.3 227.3,392.1 229.3,391.4 236.5,398.6 229.3,405.8 227.3,406.5ZM222.1,398.6 229.3,391.4 231.4,391.2 238.6,398.4 231.4,405.6 229.3,405.8ZM224.2,398.4 231.4,391.2 233.4,390.3 240.6,397.5 233.4,404.7 231.4,405.6ZM226.2,397.5 233.4,390.3 235.5,389.8 242.7,397.0 235.5,404.2 233.4,404.7ZM228.3,397.0 235.5,389.8 237.5,389.6 244.7,396.8 237.5,404.0 235.5,404.2ZM230.3,396.8 237.5,389.6 239.6,389.1 246.8,396.3 239.6,403.5 237.5,404.0ZM232.4,396.3 239.6,389.1 241.6,389.0 248.8,396.2 241.6,403.4 239.6,403.5ZM234.4,396.2 241.6,389.0 243.7,388.5 250.9,395.7 243.7,402.9 241.6,403.4ZM236.5,395.7 243.7,388.5 245.7,387.9 252.9,395.1 245.7,402.3 243.7,402.9ZM238.5,395.1 245.7,387.9 247.6,388.0 254.8,395.2 247.6,402.4 245.7,402.3ZM240.4,395.2 247.6,388.0 249.5,387.4 256.7,394.6 249.5,401.8 247.6,402.4ZM242.3,394.6 249.5,387.4 251.3,387.2 258.5,394.4 251.3,401.6 249.5,401.8ZM244.1,394.4 251.3,387.2 253.1,386.6 260.3,393.8 253.1,401.0 251.3,401.6ZM245.9,393.8 253.1,386.6 255.1,386.3 262.3,393.5 255.1,400.7 253.1,401.0ZM247.9,393.5 255.1,386.3 257.4,386.4 264.6,393.6 257.4,400.8 255.1,400.7ZM250.2,393.6 257.4,386.4 260.0,386.0 267.2,393.2 260.0,400.4 257.4,400.8ZM252.8,393.2 260.0,386.0 261.7,385.4 268.9,392.6 261.7,399.8 260.0,400.4ZM254.5,392.6 261.7,385.4 263.5,385.3 270.7,392.5 263.5,399.7 261.7,399.8ZM256.3,392.5 263.5,385.3 265.5,384.9 272.7,392.1 265.5,399.3 263.5,399.7ZM258.3,392.1 265.5,384.9 267.5,385.0 274.7,392.2 267.5,399.4 265.5,399.3ZM260.3,392.2 267.5,385.0 269.7,384.5 276.9,391.7 269.7,398.9 267.5,399.4ZM262.5,391.7 269.7,384.5 271.8,384.0 279.0,391.2 271.8,398.4 269.7,398.9ZM264.6,391.2 271.8,384.0 274.0,384.1 281.2,391.3 274.0,398.5 271.8,398.4ZM266.8,391.3 274.0,384.1 276.3,383.9 283.5,391.1 276.3,398.3 274.0,398.5ZM269.1,391.1 276.3,383.9 278.5,383.2 285.7,390.4 278.5,397.6 276.3,398.3ZM271.3,390.4 278.5,383.2 280.7,383.0 287.9,390.2 280.7,397.4 278.5,397.6ZM273.5,390.2 280.7,383.0 282.9,382.9 290.1,390.1 282.9,397.3 280.7,397.4ZM275.7,390.1 282.9,382.9 285.0,382.5 292.2,389.7 285.0,396.9 282.9,397.3ZM277.8,389.7 285.0,382.5 287.1,382.4 294.3,389.6 287.1,396.8 285.0,396.9ZM279.9,389.6 287.1,382.4 289.2,382.0 296.4,389.2 289.2,396.4 287.1,396.8ZM282.0,389.2 289.2,382.0 291.2,381.8 298.4,389.0 291.2,396.2 289.2,396.4ZM284.1,389.0 291.2,381.8 293.3,382.1 300.5,389.3 293.3,396.5 291.2,396.2ZM286.1,389.3 293.3,382.1 295.4,381.7 302.6,388.9 295.4,396.1 293.3,396.5ZM288.2,388.9 295.4,381.7 297.5,381.4 304.7,388.6 297.5,395.8 295.4,396.1ZM290.3,388.6 297.5,381.4 299.6,381.5 306.8,388.7 299.6,395.9 297.5,395.8ZM292.4,388.7 299.6,381.5 301.7,381.3 308.9,388.5 301.7,395.7 299.6,395.9ZM294.5,388.5 301.7,381.3 303.8,381.2 310.9,388.4 303.8,395.6 301.7,395.7ZM296.6,388.4 303.8,381.2 305.8,381.0 313.0,388.2 305.8,395.4 303.8,395.6ZM298.6,388.2 305.8,381.0 307.9,380.6 315.1,387.8 307.9,395.0 305.8,395.4ZM300.7,387.8 307.9,380.6 310.0,380.8 317.2,388.0 310.0,395.2 307.9,395.0ZM302.8,388.0 310.0,380.8 312.1,380.6 319.3,387.8 312.1,395.0 310.0,395.2ZM304.9,387.8 312.1,380.6 314.2,380.1 321.4,387.3 314.2,394.5 312.1,395.0ZM307.0,387.3 314.2,380.1 316.2,380.1 323.4,387.3 316.2,394.5 314.2,394.5ZM309.1,387.3 316.2,380.1 318.3,379.9 325.5,387.1 318.3,394.3 316.2,394.5ZM311.1,387.1 318.3,379.9 320.4,379.7 327.6,386.9 320.4,394.1 318.3,394.3ZM313.2,386.9 320.4,379.7 322.5,379.7 329.7,386.9 322.5,394.1 320.4,394.1ZM315.3,386.9 322.5,379.7 324.6,379.1 331.8,386.3 324.6,393.5 322.5,394.1ZM317.4,386.3 324.6,379.1 326.7,379.1 333.9,386.3 326.7,393.5 324.6,393.5ZM319.5,386.3 326.7,379.1 328.8,379.3 335.9,386.5 328.8,393.7 326.7,393.5ZM321.6,386.5 328.8,379.3 330.8,378.8 338.0,386.0 330.8,393.2 328.8,393.7ZM323.6,386.0 330.8,378.8 332.9,378.7 340.1,385.9 332.9,393.1 330.8,393.2ZM325.7,385.9 332.9,378.7 335.0,378.6 342.2,385.8 335.0,393.0 332.9,393.1ZM327.8,385.8 335.0,378.6 337.1,378.4 344.3,385.6 337.1,392.8 335.0,393.0ZM329.9,385.6 337.1,378.4 339.2,378.5 346.4,385.7 339.2,392.9 337.1,392.8ZM332.0,385.7 339.2,378.5 341.2,378.1 348.4,385.3 341.2,392.5 339.2,392.9ZM334.1,385.3 341.2,378.1 343.3,377.8 350.5,385.0 343.3,392.2 341.2,392.5ZM336.1,385.0 343.3,377.8 345.4,378.0 352.6,385.2 345.4,392.4 343.3,392.2ZM338.2,385.2 345.4,378.0 347.5,377.7 354.7,384.9 347.5,392.1 345.4,392.4ZM340.3,384.9 347.5,377.7 349.6,377.3 356.8,384.5 349.6,391.7 347.5,392.1ZM342.4,384.5 349.6,377.3 351.7,377.3 358.9,384.5 351.7,391.7 349.6,391.7ZM344.5,384.5 351.7,377.3 353.8,377.0 360.9,384.2 353.8,391.4 351.7,391.7ZM346.6,384.2 353.8,377.0 355.8,377.0 363.0,384.2 355.8,391.4 353.8,391.4ZM348.6,384.2 355.8,377.0 357.9,376.8 365.1,384.0 357.9,391.2 355.8,391.4ZM350.7,384.0 357.9,376.8 360.0,376.3 367.2,383.5 360.0,390.7 357.9,391.2ZM352.8,383.5 360.0,376.3 362.1,376.5 369.3,383.7 362.1,390.9 360.0,390.7ZM354.9,383.7 362.1,376.5 364.2,376.5 371.4,383.7 364.2,390.9 362.1,390.9ZM357.0,383.7 364.2,376.5 366.2,376.1 373.4,383.3 366.2,390.5 364.2,390.9ZM359.1,383.3 366.2,376.1 368.3,376.1 375.5,383.3 368.3,390.5 366.2,390.5ZM361.1,383.3 368.3,376.1 370.4,376.0 377.6,383.2 370.4,390.4 368.3,390.5ZM363.2,383.2 370.4,376.0 372.5,376.0 379.7,383.2 372.5,390.4 370.4,390.4ZM365.3,383.2 372.5,376.0 374.6,376.1 381.8,383.4 374.6,390.6 372.5,390.4ZM367.4,383.4 374.6,376.1 376.7,375.7 383.9,382.9 376.7,390.1 374.6,390.6ZM369.5,382.9 376.7,375.7 378.8,375.7 385.9,382.9 378.8,390.1 376.7,390.1ZM371.6,382.9 378.8,375.7 380.8,376.0 388.0,383.2 380.8,390.4 378.8,390.1ZM373.6,383.2 380.8,376.0 382.9,375.7 390.1,382.9 382.9,390.1 380.8,390.4ZM375.7,382.9 382.9,375.7 385.0,375.7 392.2,382.9 385.0,390.1 382.9,390.1ZM377.8,382.9 385.0,375.7 386.9,375.6 394.1,382.8 386.9,390.0 385.0,390.1ZM379.7,382.8 386.9,375.6 388.5,375.4 395.7,382.6 388.5,389.8 386.9,390.0ZM381.3,382.6 388.5,375.4 389.9,375.4 397.1,382.6 389.9,389.8 388.5,389.8ZM382.7,382.6 389.9,375.4 391.2,375.7 398.4,382.9 391.2,390.1 389.9,389.8ZM384.0,382.9 391.2,375.7 392.5,375.3 399.7,382.5 392.5,389.7 391.2,390.1ZM385.3,382.5 392.5,375.3 393.9,375.4 401.1,382.6 393.9,389.8 392.5,389.7ZM386.7,382.6 393.9,375.4 395.5,375.1 402.7,382.3 395.5,389.5 393.9,389.8ZM388.3,382.3 395.5,375.1 397.4,375.4 404.6,382.6 397.4,389.8 395.5,389.5ZM390.2,382.6 397.4,375.4 399.7,375.3 406.9,382.5 399.7,389.7 397.4,389.8ZM392.5,382.5 399.7,375.3 402.5,375.1 409.7,382.3 402.5,389.5 399.7,389.7ZM395.3,382.3 402.5,375.1 405.9,374.9 413.1,382.1 405.9,389.3 402.5,389.5ZM398.7,382.1 405.9,374.9 410.0,375.2 417.2,382.4 410.0,389.6 405.9,389.3ZM402.8,382.4 410.0,375.2 411.3,375.0 418.5,382.2 411.3,389.4 410.0,389.6ZM404.1,382.2 411.3,375.0 412.8,375.0 419.9,382.2 412.8,389.4 411.3,389.4ZM405.6,382.2 412.8,375.0 414.2,375.0 421.4,382.2 414.2,389.4 412.8,389.4ZM407.0,382.2 414.2,375.0 415.7,374.9 422.9,382.1 415.7,389.3 414.2,389.4ZM408.5,382.1 415.7,374.9 417.3,375.2 424.5,382.4 417.3,389.6 415.7,389.3ZM410.1,382.4 417.3,375.2 419.0,375.0 426.2,382.2 419.0,389.4 417.3,389.6ZM411.8,382.2 419.0,375.0 420.6,375.0 427.8,382.2 420.6,389.4 419.0,389.4ZM413.4,382.2 420.6,375.0 422.4,374.8 429.6,382.0 422.4,389.2 420.6,389.4ZM415.2,382.0 422.4,374.8 424.2,374.9 431.4,382.1 424.2,389.3 422.4,389.2ZM417.0,382.1 424.2,374.9 426.0,375.0 433.2,382.2 426.0,389.4 424.2,389.3ZM418.8,382.2 426.0,375.0 427.9,374.7 435.1,381.9 427.9,389.1 426.0,389.4ZM420.7,381.9 427.9,374.7 429.8,374.8 437.0,382.0 429.8,389.2 427.9,389.1ZM422.6,382.0 429.8,374.8 431.7,374.4 438.9,381.6 431.7,388.8 429.8,389.2ZM424.5,381.6 431.7,374.4 433.7,374.8 440.9,381.9 433.7,389.1 431.7,388.8ZM426.5,381.9 433.7,374.8 435.7,374.8 442.9,382.0 435.7,389.2 433.7,389.1ZM428.5,382.0 435.7,374.8 437.8,374.4 445.0,381.6 437.8,388.8 435.7,389.2ZM430.6,381.6 437.8,374.4 439.9,374.6 447.1,381.8 439.9,389.0 437.8,388.8ZM432.7,381.8 439.9,374.6 442.0,374.5 449.2,381.7 442.0,388.9 439.9,389.0ZM434.8,381.7 442.0,374.5 444.1,374.6 451.3,381.8 444.1,389.0 442.0,388.9ZM436.9,381.8 444.1,374.6 446.3,374.7 453.5,381.9 446.3,389.1 444.1,389.0ZM439.1,381.9 446.3,374.7 448.4,374.4 455.6,381.6 448.4,388.8 446.3,389.1ZM441.2,381.6 448.4,374.4 450.6,374.4 457.8,381.6 450.6,388.8 448.4,388.8ZM443.4,381.6 450.6,374.4 452.8,374.7 460.0,381.9 452.8,389.1 450.6,388.8ZM445.6,381.9 452.8,374.7 455.0,374.3 462.2,381.5 455.0,388.7 452.8,389.1ZM447.8,381.5 455.0,374.3 457.3,374.0 464.5,381.2 457.3,388.4 455.0,388.7ZM450.1,381.2 457.3,374.0 459.5,374.3 466.7,381.5 459.5,388.7 457.3,388.4ZM452.3,381.5 459.5,374.3 461.8,374.4 469.0,381.6 461.8,388.8 459.5,388.7ZM454.6,381.6 461.8,374.4 464.0,374.1 471.2,381.3 464.0,388.5 461.8,388.8ZM456.8,381.3 464.0,374.1 466.2,374.2 473.4,381.4 466.2,388.6 464.0,388.5ZM459.0,381.4 466.2,374.2 468.5,374.3 475.7,381.5 468.5,388.7 466.2,388.6ZM461.3,381.5 468.5,374.3 470.7,374.1 477.9,381.3 470.7,388.5 468.5,388.7ZM463.5,381.3 470.7,374.1 473.0,374.0 480.2,381.2 473.0,388.4 470.7,388.5ZM465.8,381.2 473.0,374.0 475.2,374.0 482.4,381.2 475.2,388.4 473.0,388.4ZM468.0,381.2 475.2,374.0 477.4,373.9 484.6,381.1 477.4,388.3 475.2,388.4ZM470.2,381.1 477.4,373.9 479.6,374.1 486.8,381.3 479.6,388.5 477.4,388.3ZM472.4,381.3 479.6,374.1 481.8,374.1 489.0,381.3 481.8,388.5 479.6,388.5ZM474.6,381.3 481.8,374.1 484.0,373.8 491.2,381.0 484.0,388.2 481.8,388.5ZM476.8,381.0 484.0,373.8 486.2,373.9 493.4,381.1 486.2,388.3 484.0,388.2ZM479.0,381.1 486.2,373.9 488.3,374.2 495.5,381.4 488.3,388.6 486.2,388.3ZM481.1,381.4 488.3,374.2 490.4,373.8 497.6,381.0 490.4,388.2 488.3,388.6ZM483.2,381.0 490.4,373.8 492.5,373.7 499.7,380.9 492.5,388.1 490.4,388.2ZM485.3,380.9 492.5,373.7 494.5,373.8 501.7,381.0 494.5,388.2 492.5,388.1ZM487.3,381.0 494.5,373.8 496.5,373.7 503.7,380.9 496.5,388.1 494.5,388.2ZM489.3,380.9 496.5,373.7 498.5,373.9 505.7,381.1 498.5,388.3 496.5,388.1ZM491.3,381.1 498.5,373.9 500.6,373.5 507.8,380.7 500.6,387.9 498.5,388.3ZM493.4,380.7 500.6,373.5 502.7,373.4 509.9,380.6 502.7,387.8 500.6,387.9ZM495.5,380.6 502.7,373.4 504.8,373.8 512.0,381.0 504.8,388.2 502.7,387.8ZM497.6,381.0 504.8,373.8 506.9,373.5 514.1,380.7 506.9,387.9 504.8,388.2ZM499.7,380.7 506.9,373.5 509.1,373.3 516.3,380.5 509.1,387.7 506.9,387.9ZM501.9,380.5 509.1,373.3 511.2,373.5 518.4,380.7 511.2,387.9 509.1,387.7ZM504.0,380.7 511.2,373.5 513.4,373.5 520.6,380.7 513.4,387.9 511.2,387.9ZM506.2,380.7 513.4,373.5 515.6,373.6 522.8,380.8 515.6,388.0 513.4,387.9ZM508.4,380.8 515.6,373.6 517.7,373.6 524.9,380.8 517.7,388.0 515.6,388.0ZM510.5,380.8 517.7,373.6 519.9,373.3 527.1,380.5 519.9,387.7 517.7,388.0ZM512.7,380.5 519.9,373.3 522.1,373.4 529.3,380.6 522.1,387.8 519.9,387.7ZM514.9,380.6 522.1,373.4 524.3,373.6 531.5,380.8 524.3,388.0 522.1,387.8ZM517.1,380.8 524.3,373.6 526.5,373.1 533.7,380.3 526.5,387.5 524.3,388.0ZM519.3,380.3 526.5,373.1 528.7,373.0 535.9,380.2 528.7,387.4 526.5,387.5ZM521.5,380.2 528.7,373.0 530.9,373.4 538.1,380.6 530.9,387.8 528.7,387.4ZM523.7,380.6 530.9,373.4 533.1,373.3 540.3,380.5 533.1,387.7 530.9,387.8ZM525.9,380.5 533.1,373.3 535.3,373.1 542.5,380.3 535.3,387.5 533.1,387.7ZM528.1,380.3 535.3,373.1 537.5,373.3 544.7,380.5 537.5,387.7 535.3,387.5ZM530.3,380.5 537.5,373.3 539.7,373.2 546.9,380.4 539.7,387.6 537.5,387.7ZM532.5,380.4 539.7,373.2 541.8,373.2 549.0,380.4 541.8,387.6 539.7,387.6ZM534.6,380.4 541.8,373.2 544.0,373.2 551.2,380.4 544.0,387.6 541.8,387.6ZM536.8,380.4 544.0,373.2 546.1,372.9 553.3,380.1 546.1,387.3 544.0,387.6ZM538.9,380.1 546.1,372.9 548.2,372.9 555.4,380.1 548.2,387.3 546.1,387.3ZM541.0,380.1 548.2,372.9 550.3,373.2 557.5,380.4 550.3,387.6 548.2,387.3ZM543.1,380.4 550.3,373.2 552.4,372.8 559.6,380.0 552.4,387.2 550.3,387.6ZM545.2,380.0 552.4,372.8 554.5,372.7 561.6,379.9 554.5,387.1 552.4,387.2ZM547.2,379.9 554.5,372.7 556.5,372.9 563.7,380.1 556.5,387.3 554.5,387.1ZM549.3,380.1 556.5,372.9 558.5,372.7 565.7,379.9 558.5,387.1 556.5,387.3ZM551.3,379.9 558.5,372.7 560.5,372.9 567.7,380.1 560.5,387.3 558.5,387.1ZM553.3,380.1 560.5,372.9 562.4,372.6 569.6,379.8 562.4,387.0 560.5,387.3ZM555.2,379.8 562.4,372.6 564.4,372.5 571.6,379.7 564.4,386.9 562.4,387.0ZM557.2,379.7 564.4,372.5 566.2,372.8 573.4,380.0 566.2,387.2 564.4,386.9ZM559.0,380.0 566.2,372.8 568.1,372.7 575.3,379.9 568.1,387.1 566.2,387.2ZM560.9,379.9 568.1,372.7 569.9,372.9 577.1,380.1 569.9,387.3 568.1,387.1ZM562.7,380.1 569.9,372.9 571.7,372.5 578.9,379.7 571.7,386.9 569.9,387.3ZM564.5,379.7 571.7,372.5 573.5,372.8 580.7,380.0 573.5,387.2 571.7,386.9ZM566.3,380.0 573.5,372.8 575.2,372.7 582.4,379.9 575.2,387.1 573.5,387.2ZM568.0,379.9 575.2,372.7 576.8,372.9 584.0,380.1 576.8,387.3 575.2,387.1ZM569.6,380.1 576.8,372.9 578.4,372.5 585.6,379.7 578.4,386.9 576.8,387.3ZM571.2,379.7 578.4,372.5 580.0,372.6 587.2,379.8 580.0,387.0 578.4,386.9ZM572.8,379.8 580.0,372.6 583.0,372.7 590.2,379.9 583.0,387.1 580.0,387.0ZM575.8,379.9 583.0,372.7 585.9,372.7 593.1,379.9 585.9,387.1 583.0,387.1ZM578.7,379.9 585.9,372.7 588.7,372.5 595.9,379.7 588.7,386.9 585.9,387.1ZM581.5,379.7 588.7,372.5 591.4,372.3 598.6,379.5 591.4,386.7 588.7,386.9ZM584.2,379.5 591.4,372.3 594.1,372.3 601.3,379.5 594.1,386.7 591.4,386.7ZM586.9,379.5 594.1,372.3 596.6,372.5 603.8,379.7 596.6,386.9 594.1,386.7ZM589.4,379.7 596.6,372.5 599.1,372.5 606.3,379.7 599.1,386.9 596.6,386.9ZM591.9,379.7 599.1,372.5 601.5,372.4 608.7,379.6 601.5,386.8 599.1,386.9ZM594.3,379.6 601.5,372.4 603.8,372.3 611.0,379.5 603.8,386.7 601.5,386.8ZM596.6,379.5 603.8,372.3 606.0,372.3 613.2,379.5 606.0,386.7 603.8,386.7ZM598.8,379.5 606.0,372.3 608.2,372.1 615.4,379.3 608.2,386.5 606.0,386.7ZM601.0,379.3 608.2,372.1 610.2,372.1 617.4,379.3 610.2,386.5 608.2,386.5ZM603.0,379.3 610.2,372.1 612.2,372.5 619.4,379.7 612.2,386.9 610.2,386.5ZM605.0,379.7 612.2,372.5 614.0,372.1 621.2,379.3 614.0,386.5 612.2,386.9ZM606.8,379.3 614.0,372.1 615.8,372.2 623.0,379.4 615.8,386.6 614.0,386.5ZM608.6,379.4 615.8,372.2 617.4,372.0 624.6,379.2 617.4,386.4 615.8,386.6ZM610.2,379.2 617.4,372.0 619.0,372.5 626.2,379.7 619.0,386.9 617.4,386.4ZM611.8,379.7 619.0,372.5 620.5,372.2 627.7,379.4 620.5,386.6 619.0,386.9ZM613.3,379.4 620.5,372.2 621.9,372.4 629.1,379.6 621.9,386.8 620.5,386.6ZM614.7,379.6 621.9,372.4 623.1,372.2 630.3,379.4 623.1,386.6 621.9,386.8ZM615.9,379.4 623.1,372.2 624.3,372.1 631.5,379.3 624.3,386.5 623.1,386.6ZM617.1,379.3 624.3,372.1 625.4,372.2 632.6,379.4 625.4,386.6 624.3,386.5Z"/>
</g>
<g font-size="23">
<text x="78.4" y="593.3" text-anchor="middle">0</text>
<text x="154.4" y="593.3" text-anchor="middle">10</text>
<text x="230.4" y="593.3" text-anchor="middle">20</text>
<text x="306.3" y="593.3" text-anchor="middle">30</text>
<text x="382.3" y="593.3" text-anchor="middle">40</text>
<text x="458.3" y="593.3" text-anchor="middle">50</text>
<text x="534.3" y="593.3" text-anchor="middle">60</text>
<text x="610.2" y="593.3" text-anchor="middle">70</text>
<text x="686.2" y="593.3" text-anchor="middle">80</text>
<text x="67.6" y="571.9" text-anchor="end">0</text>
<text x="67.6" y="480.8" text-anchor="end">20</text>
<text x="67.6" y="389.7" text-anchor="end">40</text>
<text x="67.6" y="298.6" text-anchor="end">60</text>
<text x="67.6" y="207.6" text-anchor="end">80</text>
<text x="67.6" y="116.5" text-anchor="end">100</text>
<text x="67.6" y="25.4" text-anchor="end">120</text>
<text x="382.3" y="621.4" text-anchor="middle">Time / h</text>
<text transform="translate(26.9 415.8) rotate(-90)">Delta mass / <tspan font-family="'Liberation Serif',serif" stroke-width="0">μ</tspan>g·cm<tspan font-size="15" dy="-13" dx="-0.5">-2</tspan></text>
<text x="91.2" y="51.6">(a)</text>
<text x="165.8" y="87.2">NaCl/(NH<tspan font-size="14" dy="9.6">4</tspan><tspan dy="-9.6">)</tspan><tspan font-size="14" dy="9.6">2</tspan><tspan dy="-9.6">SO</tspan><tspan font-size="14" dy="9.6">4</tspan><tspan dy="-9.6">=</tspan></text>
<path d="M166.6,113.4H220.2" stroke="#151515" stroke-width="1.8" fill="none"/>
<path fill="#151515" d="M187.9,108.1 198.5,108.1 198.5,118.7 187.9,118.7Z"/>
<text x="225.6" y="122.1">4/0</text>
<path d="M166.6,142.3H220.2" stroke="#ec1c24" stroke-width="1.8" fill="none"/>
<path fill="#ec1c24" d="M198.6,142.3 198.4,144.0 197.6,145.5 196.4,146.7 194.9,147.5 193.2,147.8 191.5,147.5 190.0,146.7 188.8,145.5 188.0,144.0 187.8,142.3 188.0,140.6 188.8,139.1 190.0,137.9 191.5,137.1 193.2,136.9 194.9,137.1 196.4,137.9 197.6,139.1 198.4,140.6Z"/>
<text x="225.6" y="151.0">3/1</text>
<path d="M166.6,171.2H220.2" stroke="#3b49a8" stroke-width="1.8" fill="none"/>
<path fill="#3b49a8" d="M193.2,162.8 200.5,175.7 185.9,175.7Z"/>
<text x="225.6" y="179.9">2/2</text>
<path d="M166.6,199.8H220.2" stroke="#c24fb6" stroke-width="1.8" fill="none"/>
<path fill="#c24fb6" d="M193.2,208.4 200.5,195.5 185.9,195.5Z"/>
<text x="225.6" y="208.5">1/3</text>
<path d="M166.6,228.6H220.2" stroke="#3f8b48" stroke-width="1.8" fill="none"/>
<path fill="#3f8b48" d="M193.2,221.2 200.3,228.6 193.2,236.0 186.1,228.6Z"/>
<text x="225.6" y="237.3">0/4</text>
</g>
</g>
<g id="plot-b">
<polyline fill="none" stroke="#151515" stroke-width="2.1" points="153.7,1082.8 273.7,1147.1 393.6,1178.5 513.6,1127.8 633.6,1072.9"/>
<rect x="148.9" y="1078.0" width="9.6" height="9.6" fill="#fff" stroke="#151515" stroke-width="1.5"/>
<rect x="268.9" y="1142.3" width="9.6" height="9.6" fill="#fff" stroke="#151515" stroke-width="1.5"/>
<rect x="388.8" y="1173.7" width="9.6" height="9.6" fill="#fff" stroke="#151515" stroke-width="1.5"/>
<rect x="508.8" y="1123.0" width="9.6" height="9.6" fill="#fff" stroke="#151515" stroke-width="1.5"/>
<rect x="628.8" y="1068.1" width="9.6" height="9.6" fill="#fff" stroke="#151515" stroke-width="1.5"/>
<polyline fill="none" stroke="#ec1c24" stroke-width="2.1" points="153.7,981.4 273.7,1126.0 393.6,1150.8 513.6,1089.8 633.6,1035.9"/>
<circle cx="153.7" cy="981.4" r="5.4" fill="#fff" stroke="#ec1c24" stroke-width="1.5"/>
<circle cx="273.7" cy="1126.0" r="5.4" fill="#fff" stroke="#ec1c24" stroke-width="1.5"/>
<circle cx="393.6" cy="1150.8" r="5.4" fill="#fff" stroke="#ec1c24" stroke-width="1.5"/>
<circle cx="513.6" cy="1089.8" r="5.4" fill="#fff" stroke="#ec1c24" stroke-width="1.5"/>
<circle cx="633.6" cy="1035.9" r="5.4" fill="#fff" stroke="#ec1c24" stroke-width="1.5"/>
<polyline fill="none" stroke="#3b49a8" stroke-width="2.1" points="153.7,855.2 273.7,1057.0 393.6,1148.5 513.6,1078.1 633.6,1025.1"/>
<path d="M153.7,848.2l6.3,11.2h-12.6Z" fill="#fff" stroke="#3b49a8" stroke-width="1.5" stroke-linejoin="miter"/>
<path d="M273.7,1050.0l6.3,11.2h-12.6Z" fill="#fff" stroke="#3b49a8" stroke-width="1.5" stroke-linejoin="miter"/>
<path d="M393.6,1141.5l6.3,11.2h-12.6Z" fill="#fff" stroke="#3b49a8" stroke-width="1.5" stroke-linejoin="miter"/>
<path d="M513.6,1071.1l6.3,11.2h-12.6Z" fill="#fff" stroke="#3b49a8" stroke-width="1.5" stroke-linejoin="miter"/>
<path d="M633.6,1018.1l6.3,11.2h-12.6Z" fill="#fff" stroke="#3b49a8" stroke-width="1.5" stroke-linejoin="miter"/>
<polyline fill="none" stroke="#c24fb6" stroke-width="2.1" points="153.7,709.2 273.7,960.8 393.6,1146.1 513.6,1072.0 633.6,1023.2"/>
<path d="M153.7,716.2l6.3,-11.2h-12.6Z" fill="#fff" stroke="#c24fb6" stroke-width="1.5" stroke-linejoin="miter"/>
<path d="M273.7,967.8l6.3,-11.2h-12.6Z" fill="#fff" stroke="#c24fb6" stroke-width="1.5" stroke-linejoin="miter"/>
<path d="M393.6,1153.1l6.3,-11.2h-12.6Z" fill="#fff" stroke="#c24fb6" stroke-width="1.5" stroke-linejoin="miter"/>
<path d="M513.6,1079.0l6.3,-11.2h-12.6Z" fill="#fff" stroke="#c24fb6" stroke-width="1.5" stroke-linejoin="miter"/>
<path d="M633.6,1030.2l6.3,-11.2h-12.6Z" fill="#fff" stroke="#c24fb6" stroke-width="1.5" stroke-linejoin="miter"/>
<g stroke="#363636" stroke-width="1.4" fill="none">
<rect x="93.7" y="651.0" width="599.9" height="563.2"/>
<path d="M153.7,1214.2v-9.4M273.7,1214.2v-9.4M393.6,1214.2v-9.4M513.6,1214.2v-9.4M633.6,1214.2v-9.4M93.7,1167.3h5.2M93.7,1120.3h9.4M93.7,1073.4h5.2M93.7,1026.5h9.4M93.7,979.5h5.2M93.7,932.6h9.4M93.7,885.7h5.2M93.7,838.7h9.4M93.7,791.8h5.2M93.7,744.9h9.4M93.7,697.9h5.2"/>
</g>
<g font-size="23.5">
<text transform="translate(85.0 1221.8) scale(1.065 1)" text-anchor="end">0</text>
<text transform="translate(85.0 1127.9) scale(1.065 1)" text-anchor="end">20</text>
<text transform="translate(85.0 1034.1) scale(1.065 1)" text-anchor="end">40</text>
<text transform="translate(85.0 940.2) scale(1.065 1)" text-anchor="end">60</text>
<text transform="translate(85.0 846.3) scale(1.065 1)" text-anchor="end">80</text>
<text transform="translate(85.0 752.5) scale(1.065 1)" text-anchor="end">100</text>
<text transform="translate(85.0 658.6) scale(1.065 1)" text-anchor="end">120</text>
<text transform="translate(150.5 1243.8) scale(1.065 1)" text-anchor="middle">NaCl</text>
<text transform="translate(273.7 1243.8) scale(1.065 1)" text-anchor="middle">3:1</text>
<text transform="translate(393.6 1243.8) scale(1.065 1)" text-anchor="middle">2:2</text>
<text transform="translate(513.6 1243.8) scale(1.065 1)" text-anchor="middle">1:3</text>
<text transform="translate(581.4 1243.8) scale(1.040 1)" text-anchor="start">(NH<tspan font-size="14.5" dy="9.6" dx="0.6">4</tspan><tspan dy="-9.6" dx="0.4">)</tspan><tspan font-size="14.5" dy="9.6" dx="0.6">2</tspan><tspan dy="-9.6" dx="0.4">SO</tspan><tspan font-size="14.5" dy="9.6" dx="0.6">4</tspan></text>
<text transform="translate(204.6 1279.2) scale(1.085 1)" text-anchor="start">Proportion of NaCl and</text>
<text transform="translate(470.4 1279.2) scale(1.040 1)" text-anchor="start">(NH<tspan font-size="14.5" dy="9.6" dx="0.6">4</tspan><tspan dy="-9.6" dx="0.4">)</tspan><tspan font-size="14.5" dy="9.6" dx="0.6">2</tspan><tspan dy="-9.6" dx="0.4">SO</tspan><tspan font-size="14.5" dy="9.6" dx="0.6">4</tspan></text>
<text font-size="25.2" transform="translate(31.4 1066.4) rotate(-90)">Delta mass / <tspan font-family="'Liberation Serif',serif" stroke-width="0">μ</tspan>g·cm<tspan font-size="15.5" dy="-13.5" dx="-0.5">-2</tspan></text>
<text transform="translate(105.0 681.6) scale(1.065 1)" text-anchor="start">(b)</text>
<path d="M563.4,681.8H621.2" stroke="#151515" stroke-width="1.7" fill="none"/>
<rect x="587.4" y="677.0" width="9.6" height="9.6" fill="#fff" stroke="#151515" stroke-width="1.5"/>
<text transform="translate(627.2 690.0) scale(1.065 1)" text-anchor="start">12 h</text>
<path d="M563.4,713.0H621.2" stroke="#ec1c24" stroke-width="1.7" fill="none"/>
<circle cx="592.2" cy="713.0" r="5.4" fill="#fff" stroke="#ec1c24" stroke-width="1.5"/>
<text transform="translate(627.2 721.2) scale(1.065 1)" text-anchor="start">24 h</text>
<path d="M563.4,744.0H621.2" stroke="#3b49a8" stroke-width="1.7" fill="none"/>
<path d="M592.2,737.0l6.3,11.2h-12.6Z" fill="#fff" stroke="#3b49a8" stroke-width="1.5" stroke-linejoin="miter"/>
<text transform="translate(627.2 752.2) scale(1.065 1)" text-anchor="start">48 h</text>
<path d="M563.4,775.2H621.2" stroke="#c24fb6" stroke-width="1.7" fill="none"/>
<path d="M592.2,782.2l6.3,-11.2h-12.6Z" fill="#fff" stroke="#c24fb6" stroke-width="1.5" stroke-linejoin="miter"/>
<text transform="translate(627.2 783.4) scale(1.065 1)" text-anchor="start">72 h</text>
</g>
</g>
</svg></body></html>
